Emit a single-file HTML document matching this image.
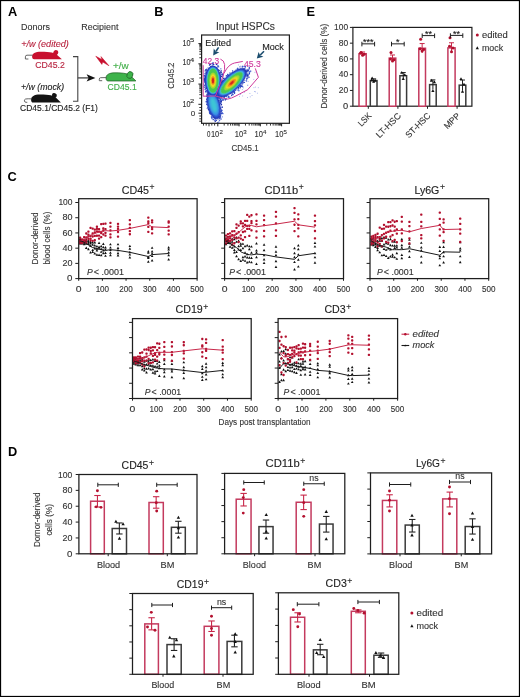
<!DOCTYPE html>
<html><head><meta charset="utf-8"><style>
html,body{margin:0;padding:0;background:#fff;}
svg{display:block;font-family:"Liberation Sans", sans-serif;opacity:0.999;}
</style></head><body>
<svg width="520" height="697" viewBox="0 0 520 697">
<rect x="0" y="0" width="520" height="697" fill="#fff"/>
<text x="8.00" y="15.80" font-size="12.8" fill="#000" font-weight="bold" >A</text>
<text x="154.20" y="15.70" font-size="12.8" fill="#000" font-weight="bold" >B</text>
<text x="7.60" y="181.40" font-size="12.8" fill="#000" font-weight="bold" >C</text>
<text x="8.00" y="455.80" font-size="12.8" fill="#000" font-weight="bold" >D</text>
<text x="306.60" y="15.70" font-size="12.8" fill="#000" font-weight="bold" >E</text>
<text x="21.10" y="30.00" font-size="9.6" fill="#333" stroke="#333" stroke-width="0.12" textLength="28.80" lengthAdjust="spacingAndGlyphs" >Donors</text>
<text x="81.30" y="29.70" font-size="9.6" fill="#333" stroke="#333" stroke-width="0.12" textLength="37.10" lengthAdjust="spacingAndGlyphs" >Recipient</text>
<text x="21.20" y="47.30" font-size="9.0" fill="#b8233f" stroke="#b8233f" stroke-width="0.12" textLength="47.60" lengthAdjust="spacingAndGlyphs" font-style="italic" >+/w (edited)</text>
<text x="35.20" y="68.10" font-size="8.4" fill="#b8233f" stroke="#b8233f" stroke-width="0.12" textLength="29.60" lengthAdjust="spacingAndGlyphs" >CD45.2</text>
<text x="21.00" y="90.40" font-size="9.0" fill="#222" stroke="#222" stroke-width="0.12" textLength="43.10" lengthAdjust="spacingAndGlyphs" font-style="italic" >+/w (mock)</text>
<text x="20.10" y="111.40" font-size="8.4" fill="#222" stroke="#222" stroke-width="0.12" textLength="77.80" lengthAdjust="spacingAndGlyphs" >CD45.1/CD45.2 (F1)</text>
<text x="112.90" y="69.40" font-size="8.4" fill="#3fae46" stroke="#3fae46" stroke-width="0.12" textLength="15.70" lengthAdjust="spacingAndGlyphs" >+/w</text>
<text x="107.60" y="89.60" font-size="8.4" fill="#3fae46" stroke="#3fae46" stroke-width="0.12" textLength="29.10" lengthAdjust="spacingAndGlyphs" >CD45.1</text>
<path d="M34.19,59.30 C32.70,59.30 32.10,58.08 32.10,56.56 C32.10,53.52 35.08,51.70 41.04,51.70 C45.51,51.70 49.38,51.93 51.77,52.46 C53.85,52.92 55.34,53.60 56.54,54.44 L61.90,59.19 L61.45,59.30 Z" fill="#c8102e" />
<ellipse cx="55.70" cy="52.80" rx="2.40" ry="2.80" transform="rotate(25 55.70 52.80)" fill="#c8102e" />
<path d="M32.6,55.2 L27.0,55.2 Q25.4,55.2 25.4,56.8 L25.4,59.0 L28.4,59.0" fill="none" stroke="#555" stroke-width="0.9" />
<path d="M33.19,102.60 C31.70,102.60 31.10,101.29 31.10,99.65 C31.10,96.37 34.08,94.40 40.04,94.40 C44.51,94.40 48.38,94.65 50.77,95.22 C52.85,95.71 54.34,96.45 55.54,97.35 L60.90,102.48 L60.45,102.60 Z" fill="#141414" />
<ellipse cx="54.40" cy="95.40" rx="2.50" ry="2.20" transform="rotate(20 54.40 95.40)" fill="#141414" />
<path d="M31.4,98.9 Q28,98.6 25.6,99.0 Q24.3,99.4 24.4,100.9 Q24.6,102.3 26.0,102.3 L27.3,102.3" fill="none" stroke="#555" stroke-width="0.9" />
<path d="M108.09,81.00 C106.60,81.00 106.00,79.69 106.00,78.05 C106.00,74.77 108.99,72.80 114.97,72.80 C119.45,72.80 123.34,73.05 125.73,73.62 C127.83,74.11 129.32,74.85 130.52,75.75 L135.90,80.88 L135.45,81.00 Z" fill="#3db34a" stroke="#1f5f24" stroke-width="0.7"/>
<ellipse cx="129.90" cy="75.00" rx="2.90" ry="3.50" transform="rotate(25 129.90 75.00)" fill="#3db34a" stroke="#1f5f24" stroke-width="0.7"/>
<path d="M106.4,77.6 L100.6,77.7 Q99.3,77.7 99.3,79.2 L99.3,80.7 L102.2,80.7" fill="none" stroke="#555" stroke-width="0.9" />
<path d="M73,56.6 L77.8,56.6 L77.8,101.3 L73,101.3" fill="none" stroke="#444" stroke-width="1.1" />
<line x1="77.80" y1="77.90" x2="89.00" y2="77.90" stroke="#444" stroke-width="1.3" />
<path d="M86.6,74.3 L95.4,77.9 L86.6,81.5 L88.6,77.9 Z" fill="#111" stroke="none" stroke-width="1" />
<path d="M95.8,56.2 L101.9,59.6 L101.0,56.6 L109.0,65.8 L102.7,62.0 L101.9,64.4 Z" fill="#c8102e" stroke="#c8102e" stroke-width="0.5" />
<text x="215.90" y="30.00" font-size="10.2" fill="#333" stroke="#333" stroke-width="0.12" textLength="59.10" lengthAdjust="spacingAndGlyphs" >Input HSPCs</text>
<defs><filter id="bl1" x="-50%" y="-50%" width="200%" height="200%"><feGaussianBlur stdDeviation="1.6"/></filter><filter id="bl2" x="-50%" y="-50%" width="200%" height="200%"><feGaussianBlur stdDeviation="1.0"/></filter><filter id="bl3" x="-50%" y="-50%" width="200%" height="200%"><feGaussianBlur stdDeviation="0.6"/></filter><clipPath id="bclip"><rect x="202.2" y="35.6" width="86.6" height="87.1"/></clipPath></defs>
<g clip-path="url(#bclip)">
<rect x="206.95" y="92.13" width="1.11" height="1.11" fill="#3858d0"/>
<rect x="216.79" y="69.52" width="1.08" height="1.08" fill="#2a48c8"/>
<rect x="203.95" y="76.34" width="1.00" height="1.00" fill="#3858d0"/>
<rect x="219.97" y="115.04" width="1.17" height="1.17" fill="#3858d0"/>
<rect x="227.47" y="77.05" width="0.95" height="0.95" fill="#1f2fa8"/>
<rect x="203.34" y="83.59" width="1.16" height="1.16" fill="#3858d0"/>
<rect x="212.43" y="91.03" width="1.28" height="1.28" fill="#3858d0"/>
<rect x="221.10" y="83.92" width="0.91" height="0.91" fill="#3858d0"/>
<rect x="206.74" y="95.83" width="1.01" height="1.01" fill="#2a48c8"/>
<rect x="206.42" y="103.43" width="1.09" height="1.09" fill="#3858d0"/>
<rect x="218.41" y="96.68" width="1.30" height="1.30" fill="#2a48c8"/>
<rect x="236.02" y="70.78" width="1.16" height="1.16" fill="#1f2fa8"/>
<rect x="204.32" y="72.87" width="0.86" height="0.86" fill="#2a48c8"/>
<rect x="217.38" y="97.99" width="1.20" height="1.20" fill="#2a48c8"/>
<rect x="233.28" y="91.27" width="1.24" height="1.24" fill="#3858d0"/>
<rect x="221.69" y="85.11" width="1.08" height="1.08" fill="#2a48c8"/>
<rect x="217.71" y="118.42" width="0.95" height="0.95" fill="#1f2fa8"/>
<rect x="221.83" y="83.76" width="1.29" height="1.29" fill="#2438b8"/>
<rect x="210.04" y="67.29" width="0.96" height="0.96" fill="#2a48c8"/>
<rect x="211.33" y="117.95" width="1.23" height="1.23" fill="#3858d0"/>
<rect x="219.00" y="83.23" width="1.11" height="1.11" fill="#1f2fa8"/>
<rect x="209.37" y="112.67" width="1.27" height="1.27" fill="#2438b8"/>
<rect x="232.53" y="92.23" width="0.81" height="0.81" fill="#2a48c8"/>
<rect x="247.28" y="69.36" width="0.83" height="0.83" fill="#2438b8"/>
<rect x="220.45" y="83.33" width="1.10" height="1.10" fill="#2a48c8"/>
<rect x="205.65" y="72.33" width="1.28" height="1.28" fill="#1f2fa8"/>
<rect x="205.83" y="72.16" width="0.89" height="0.89" fill="#2a48c8"/>
<rect x="218.27" y="66.51" width="0.95" height="0.95" fill="#2a48c8"/>
<rect x="248.44" y="68.88" width="0.96" height="0.96" fill="#2438b8"/>
<rect x="213.68" y="97.75" width="1.14" height="1.14" fill="#2438b8"/>
<rect x="218.77" y="89.42" width="1.14" height="1.14" fill="#2a48c8"/>
<rect x="222.34" y="76.39" width="0.97" height="0.97" fill="#1f2fa8"/>
<rect x="218.21" y="99.92" width="1.19" height="1.19" fill="#2438b8"/>
<rect x="208.99" y="97.13" width="1.23" height="1.23" fill="#2438b8"/>
<rect x="248.93" y="72.91" width="1.09" height="1.09" fill="#2a48c8"/>
<rect x="235.59" y="69.62" width="0.97" height="0.97" fill="#3858d0"/>
<rect x="223.01" y="97.40" width="0.88" height="0.88" fill="#3858d0"/>
<rect x="220.31" y="68.32" width="1.08" height="1.08" fill="#3858d0"/>
<rect x="221.50" y="106.47" width="1.22" height="1.22" fill="#3858d0"/>
<rect x="233.97" y="92.11" width="1.24" height="1.24" fill="#2a48c8"/>
<rect x="220.30" y="100.20" width="1.21" height="1.21" fill="#1f2fa8"/>
<rect x="209.57" y="63.97" width="1.25" height="1.25" fill="#2438b8"/>
<rect x="220.82" y="104.57" width="0.89" height="0.89" fill="#1f2fa8"/>
<rect x="203.92" y="78.03" width="0.83" height="0.83" fill="#3858d0"/>
<rect x="220.08" y="113.06" width="1.21" height="1.21" fill="#3858d0"/>
<rect x="218.67" y="90.39" width="0.89" height="0.89" fill="#1f2fa8"/>
<rect x="212.45" y="88.55" width="1.04" height="1.04" fill="#1f2fa8"/>
<rect x="226.73" y="76.42" width="0.93" height="0.93" fill="#2438b8"/>
<rect x="218.90" y="97.19" width="1.23" height="1.23" fill="#1f2fa8"/>
<rect x="220.03" y="107.52" width="1.29" height="1.29" fill="#3858d0"/>
<rect x="208.12" y="106.24" width="0.88" height="0.88" fill="#2a48c8"/>
<rect x="206.56" y="90.17" width="0.98" height="0.98" fill="#2a48c8"/>
<rect x="218.85" y="90.89" width="1.16" height="1.16" fill="#1f2fa8"/>
<rect x="241.68" y="82.28" width="1.03" height="1.03" fill="#2a48c8"/>
<rect x="217.74" y="87.41" width="1.11" height="1.11" fill="#1f2fa8"/>
<rect x="218.12" y="96.28" width="1.01" height="1.01" fill="#2a48c8"/>
<rect x="238.00" y="88.34" width="1.15" height="1.15" fill="#2a48c8"/>
<rect x="205.42" y="87.42" width="1.27" height="1.27" fill="#1f2fa8"/>
<rect x="229.56" y="72.13" width="0.86" height="0.86" fill="#2a48c8"/>
<rect x="223.21" y="77.75" width="1.13" height="1.13" fill="#3858d0"/>
<rect x="247.17" y="75.16" width="1.04" height="1.04" fill="#1f2fa8"/>
<rect x="204.74" y="78.05" width="1.13" height="1.13" fill="#1f2fa8"/>
<rect x="228.52" y="96.84" width="0.81" height="0.81" fill="#1f2fa8"/>
<rect x="210.14" y="65.99" width="1.09" height="1.09" fill="#2a48c8"/>
<rect x="211.33" y="92.54" width="0.85" height="0.85" fill="#2438b8"/>
<rect x="249.70" y="70.54" width="1.23" height="1.23" fill="#2a48c8"/>
<rect x="220.45" y="80.46" width="1.03" height="1.03" fill="#2438b8"/>
<rect x="238.22" y="90.05" width="1.27" height="1.27" fill="#3858d0"/>
<rect x="224.71" y="99.21" width="1.29" height="1.29" fill="#2438b8"/>
<rect x="245.51" y="80.29" width="0.88" height="0.88" fill="#3858d0"/>
<rect x="245.98" y="80.39" width="1.17" height="1.17" fill="#3858d0"/>
<rect x="208.91" y="111.73" width="0.87" height="0.87" fill="#2438b8"/>
<rect x="207.74" y="105.16" width="1.23" height="1.23" fill="#2438b8"/>
<rect x="218.66" y="84.22" width="1.10" height="1.10" fill="#3858d0"/>
<rect x="240.38" y="65.80" width="0.81" height="0.81" fill="#2a48c8"/>
<rect x="243.26" y="81.64" width="0.92" height="0.92" fill="#2a48c8"/>
<rect x="220.86" y="99.81" width="1.15" height="1.15" fill="#3858d0"/>
<rect x="220.30" y="71.33" width="1.04" height="1.04" fill="#1f2fa8"/>
<rect x="222.51" y="99.46" width="1.03" height="1.03" fill="#1f2fa8"/>
<rect x="211.40" y="66.72" width="1.28" height="1.28" fill="#1f2fa8"/>
<rect x="219.13" y="116.92" width="0.87" height="0.87" fill="#2a48c8"/>
<rect x="248.13" y="69.87" width="0.88" height="0.88" fill="#2a48c8"/>
<rect x="219.54" y="88.12" width="0.86" height="0.86" fill="#1f2fa8"/>
<rect x="222.69" y="84.60" width="1.09" height="1.09" fill="#3858d0"/>
<rect x="229.88" y="93.03" width="0.99" height="0.99" fill="#3858d0"/>
<rect x="212.56" y="64.27" width="1.00" height="1.00" fill="#3858d0"/>
<rect x="234.87" y="89.88" width="0.86" height="0.86" fill="#3858d0"/>
<rect x="222.33" y="113.06" width="1.14" height="1.14" fill="#2a48c8"/>
<rect x="219.51" y="84.86" width="0.85" height="0.85" fill="#2a48c8"/>
<rect x="206.73" y="100.81" width="1.13" height="1.13" fill="#1f2fa8"/>
<rect x="233.19" y="91.00" width="1.12" height="1.12" fill="#2438b8"/>
<rect x="226.78" y="95.12" width="0.86" height="0.86" fill="#3858d0"/>
<rect x="213.78" y="116.96" width="1.08" height="1.08" fill="#3858d0"/>
<rect x="231.67" y="93.56" width="1.15" height="1.15" fill="#2438b8"/>
<rect x="205.67" y="76.00" width="0.98" height="0.98" fill="#3858d0"/>
<rect x="218.82" y="69.86" width="1.04" height="1.04" fill="#1f2fa8"/>
<rect x="203.75" y="79.06" width="1.27" height="1.27" fill="#2a48c8"/>
<rect x="249.01" y="71.62" width="1.22" height="1.22" fill="#3858d0"/>
<rect x="219.51" y="89.01" width="1.08" height="1.08" fill="#1f2fa8"/>
<rect x="208.96" y="93.36" width="1.14" height="1.14" fill="#3858d0"/>
<rect x="248.36" y="76.65" width="1.23" height="1.23" fill="#2438b8"/>
<rect x="220.27" y="117.31" width="0.90" height="0.90" fill="#2438b8"/>
<rect x="222.38" y="83.81" width="1.25" height="1.25" fill="#3858d0"/>
<rect x="206.70" y="101.90" width="1.12" height="1.12" fill="#2a48c8"/>
<rect x="215.38" y="120.44" width="0.82" height="0.82" fill="#3858d0"/>
<rect x="220.11" y="90.79" width="1.05" height="1.05" fill="#2438b8"/>
<rect x="242.16" y="83.60" width="0.82" height="0.82" fill="#2438b8"/>
<rect x="219.65" y="98.74" width="1.28" height="1.28" fill="#2a48c8"/>
<rect x="212.21" y="92.19" width="0.81" height="0.81" fill="#1f2fa8"/>
<rect x="217.37" y="96.84" width="1.26" height="1.26" fill="#1f2fa8"/>
<rect x="209.66" y="64.10" width="0.84" height="0.84" fill="#2438b8"/>
<rect x="221.67" y="106.66" width="1.17" height="1.17" fill="#1f2fa8"/>
<rect x="243.64" y="66.00" width="1.02" height="1.02" fill="#2438b8"/>
<rect x="221.17" y="113.01" width="1.00" height="1.00" fill="#1f2fa8"/>
<rect x="210.82" y="116.29" width="1.15" height="1.15" fill="#3858d0"/>
<rect x="218.90" y="86.09" width="0.81" height="0.81" fill="#2a48c8"/>
<rect x="219.89" y="99.00" width="1.25" height="1.25" fill="#3858d0"/>
<rect x="226.33" y="96.16" width="1.10" height="1.10" fill="#2a48c8"/>
<rect x="214.84" y="93.11" width="0.87" height="0.87" fill="#2a48c8"/>
<rect x="240.14" y="84.88" width="1.09" height="1.09" fill="#2438b8"/>
<rect x="246.19" y="78.29" width="1.02" height="1.02" fill="#2438b8"/>
<rect x="205.02" y="90.55" width="1.00" height="1.00" fill="#2a48c8"/>
<rect x="224.58" y="95.42" width="1.05" height="1.05" fill="#3858d0"/>
<rect x="218.34" y="121.52" width="1.04" height="1.04" fill="#3858d0"/>
<rect x="207.83" y="93.95" width="1.10" height="1.10" fill="#1f2fa8"/>
<rect x="219.45" y="101.89" width="1.19" height="1.19" fill="#3858d0"/>
<rect x="206.37" y="101.02" width="1.21" height="1.21" fill="#1f2fa8"/>
<rect x="246.25" y="74.99" width="1.28" height="1.28" fill="#3858d0"/>
<rect x="244.50" y="72.37" width="0.81" height="0.81" fill="#1f2fa8"/>
<rect x="242.54" y="83.20" width="0.90" height="0.90" fill="#2a48c8"/>
<rect x="212.51" y="90.68" width="1.27" height="1.27" fill="#2a48c8"/>
<rect x="206.64" y="71.55" width="0.84" height="0.84" fill="#3858d0"/>
<rect x="220.33" y="92.11" width="1.07" height="1.07" fill="#3858d0"/>
<rect x="222.50" y="99.12" width="1.22" height="1.22" fill="#3858d0"/>
<rect x="226.10" y="98.45" width="1.02" height="1.02" fill="#3858d0"/>
<rect x="228.26" y="96.54" width="1.05" height="1.05" fill="#2438b8"/>
<rect x="207.39" y="89.73" width="0.82" height="0.82" fill="#3858d0"/>
<rect x="217.18" y="65.42" width="1.18" height="1.18" fill="#1f2fa8"/>
<rect x="237.82" y="87.03" width="1.24" height="1.24" fill="#1f2fa8"/>
<rect x="216.77" y="94.99" width="1.30" height="1.30" fill="#2a48c8"/>
<rect x="214.79" y="67.02" width="0.97" height="0.97" fill="#1f2fa8"/>
<rect x="216.74" y="66.82" width="0.92" height="0.92" fill="#2438b8"/>
<rect x="208.28" y="69.77" width="0.86" height="0.86" fill="#1f2fa8"/>
<rect x="217.64" y="69.29" width="1.05" height="1.05" fill="#3858d0"/>
<rect x="216.05" y="94.59" width="1.03" height="1.03" fill="#2438b8"/>
<rect x="231.40" y="73.94" width="1.23" height="1.23" fill="#1f2fa8"/>
<rect x="212.68" y="98.53" width="1.03" height="1.03" fill="#1f2fa8"/>
<rect x="205.75" y="69.10" width="1.18" height="1.18" fill="#3858d0"/>
<rect x="206.74" y="97.82" width="1.19" height="1.19" fill="#3858d0"/>
<rect x="203.58" y="86.82" width="0.90" height="0.90" fill="#3858d0"/>
<rect x="224.12" y="78.78" width="0.97" height="0.97" fill="#1f2fa8"/>
<rect x="221.41" y="72.81" width="1.01" height="1.01" fill="#2a48c8"/>
<rect x="241.04" y="85.68" width="1.22" height="1.22" fill="#2a48c8"/>
<rect x="205.65" y="85.90" width="0.91" height="0.91" fill="#2a48c8"/>
<rect x="211.52" y="62.92" width="1.27" height="1.27" fill="#3858d0"/>
<rect x="243.29" y="68.06" width="1.04" height="1.04" fill="#3858d0"/>
<rect x="220.09" y="103.17" width="0.95" height="0.95" fill="#1f2fa8"/>
<rect x="220.48" y="111.24" width="0.95" height="0.95" fill="#2438b8"/>
<rect x="247.99" y="70.25" width="0.94" height="0.94" fill="#2438b8"/>
<rect x="225.60" y="77.74" width="0.87" height="0.87" fill="#2a48c8"/>
<rect x="218.65" y="100.10" width="0.88" height="0.88" fill="#2438b8"/>
<rect x="220.16" y="100.95" width="1.27" height="1.27" fill="#2a48c8"/>
<rect x="216.48" y="99.77" width="0.98" height="0.98" fill="#2438b8"/>
<rect x="208.66" y="109.61" width="1.20" height="1.20" fill="#2a48c8"/>
<rect x="215.77" y="67.28" width="0.81" height="0.81" fill="#1f2fa8"/>
<rect x="245.08" y="71.32" width="0.80" height="0.80" fill="#1f2fa8"/>
<rect x="212.57" y="118.90" width="1.29" height="1.29" fill="#2a48c8"/>
<rect x="220.75" y="81.75" width="1.25" height="1.25" fill="#3858d0"/>
<rect x="212.83" y="90.24" width="0.96" height="0.96" fill="#3858d0"/>
<rect x="204.63" y="89.05" width="0.97" height="0.97" fill="#2a48c8"/>
<rect x="220.33" y="80.27" width="1.26" height="1.26" fill="#2438b8"/>
<rect x="220.27" y="114.14" width="1.05" height="1.05" fill="#3858d0"/>
<rect x="216.24" y="120.03" width="0.82" height="0.82" fill="#2438b8"/>
<rect x="232.23" y="73.30" width="1.03" height="1.03" fill="#3858d0"/>
<rect x="232.13" y="70.16" width="0.99" height="0.99" fill="#3858d0"/>
<rect x="246.24" y="73.71" width="1.30" height="1.30" fill="#2438b8"/>
<rect x="227.97" y="95.57" width="0.94" height="0.94" fill="#3858d0"/>
<rect x="205.07" y="77.91" width="0.87" height="0.87" fill="#2a48c8"/>
<rect x="214.06" y="95.99" width="1.27" height="1.27" fill="#3858d0"/>
<rect x="218.76" y="90.97" width="1.04" height="1.04" fill="#1f2fa8"/>
<rect x="220.93" y="71.80" width="1.02" height="1.02" fill="#1f2fa8"/>
<rect x="205.70" y="81.67" width="0.90" height="0.90" fill="#3858d0"/>
<rect x="211.64" y="114.86" width="0.96" height="0.96" fill="#3858d0"/>
<rect x="222.43" y="74.38" width="1.11" height="1.11" fill="#2a48c8"/>
<rect x="223.68" y="95.52" width="1.29" height="1.29" fill="#3858d0"/>
<rect x="215.44" y="94.05" width="1.15" height="1.15" fill="#1f2fa8"/>
<rect x="219.49" y="92.01" width="1.27" height="1.27" fill="#1f2fa8"/>
<rect x="209.09" y="113.15" width="1.03" height="1.03" fill="#3858d0"/>
<rect x="217.05" y="94.75" width="1.28" height="1.28" fill="#3858d0"/>
<rect x="217.34" y="96.55" width="1.14" height="1.14" fill="#3858d0"/>
<rect x="245.47" y="73.05" width="0.96" height="0.96" fill="#2438b8"/>
<rect x="243.50" y="79.64" width="1.07" height="1.07" fill="#2438b8"/>
<rect x="225.39" y="95.44" width="0.94" height="0.94" fill="#1f2fa8"/>
<rect x="218.35" y="90.40" width="1.27" height="1.27" fill="#2a48c8"/>
<rect x="248.69" y="67.11" width="1.30" height="1.30" fill="#2a48c8"/>
<rect x="212.80" y="116.57" width="0.85" height="0.85" fill="#3858d0"/>
<rect x="209.74" y="90.56" width="1.08" height="1.08" fill="#3858d0"/>
<rect x="220.21" y="98.19" width="1.22" height="1.22" fill="#3858d0"/>
<rect x="221.20" y="74.01" width="0.95" height="0.95" fill="#2438b8"/>
<rect x="214.58" y="121.32" width="0.87" height="0.87" fill="#2438b8"/>
<rect x="219.31" y="88.33" width="0.86" height="0.86" fill="#2438b8"/>
<rect x="215.68" y="63.72" width="1.06" height="1.06" fill="#2a48c8"/>
<rect x="207.54" y="103.18" width="0.96" height="0.96" fill="#3858d0"/>
<rect x="220.66" y="96.42" width="1.12" height="1.12" fill="#2a48c8"/>
<rect x="227.64" y="74.43" width="1.23" height="1.23" fill="#2a48c8"/>
<rect x="219.33" y="101.51" width="0.89" height="0.89" fill="#2a48c8"/>
<rect x="244.72" y="70.02" width="0.94" height="0.94" fill="#2438b8"/>
<rect x="207.90" y="108.60" width="1.29" height="1.29" fill="#2438b8"/>
<rect x="217.48" y="88.90" width="1.01" height="1.01" fill="#1f2fa8"/>
<rect x="233.82" y="92.57" width="1.23" height="1.23" fill="#2438b8"/>
<rect x="225.60" y="98.90" width="0.83" height="0.83" fill="#2438b8"/>
<rect x="225.36" y="78.93" width="1.16" height="1.16" fill="#3858d0"/>
<rect x="218.16" y="95.61" width="1.02" height="1.02" fill="#3858d0"/>
<rect x="221.71" y="113.15" width="0.87" height="0.87" fill="#3858d0"/>
<rect x="206.74" y="70.77" width="1.24" height="1.24" fill="#2438b8"/>
<rect x="215.79" y="94.99" width="1.07" height="1.07" fill="#1f2fa8"/>
<rect x="209.57" y="90.29" width="1.02" height="1.02" fill="#2438b8"/>
<rect x="237.49" y="70.34" width="0.91" height="0.91" fill="#3858d0"/>
<rect x="205.31" y="75.87" width="1.21" height="1.21" fill="#1f2fa8"/>
<rect x="244.89" y="71.92" width="0.99" height="0.99" fill="#2a48c8"/>
<rect x="216.36" y="100.04" width="0.99" height="0.99" fill="#2438b8"/>
<rect x="217.92" y="87.94" width="1.02" height="1.02" fill="#2a48c8"/>
<rect x="209.34" y="63.69" width="0.83" height="0.83" fill="#1f2fa8"/>
<rect x="214.31" y="120.16" width="0.96" height="0.96" fill="#1f2fa8"/>
<rect x="221.63" y="112.16" width="1.12" height="1.12" fill="#2a48c8"/>
<rect x="214.16" y="117.63" width="1.28" height="1.28" fill="#3858d0"/>
<rect x="220.18" y="71.62" width="1.09" height="1.09" fill="#2438b8"/>
<rect x="205.24" y="83.36" width="0.94" height="0.94" fill="#3858d0"/>
<rect x="206.30" y="103.94" width="1.09" height="1.09" fill="#2438b8"/>
<rect x="215.88" y="92.25" width="1.11" height="1.11" fill="#2a48c8"/>
<rect x="241.70" y="66.40" width="1.02" height="1.02" fill="#2438b8"/>
<rect x="215.91" y="88.61" width="1.24" height="1.24" fill="#3858d0"/>
<rect x="221.94" y="73.99" width="1.26" height="1.26" fill="#1f2fa8"/>
<rect x="231.33" y="95.22" width="0.96" height="0.96" fill="#1f2fa8"/>
<rect x="208.86" y="64.63" width="0.92" height="0.92" fill="#1f2fa8"/>
<rect x="234.11" y="90.90" width="0.93" height="0.93" fill="#2a48c8"/>
<rect x="245.81" y="76.37" width="0.95" height="0.95" fill="#2438b8"/>
<rect x="205.32" y="82.07" width="0.91" height="0.91" fill="#2438b8"/>
<rect x="243.95" y="81.89" width="1.10" height="1.10" fill="#3858d0"/>
<rect x="232.61" y="91.87" width="0.83" height="0.83" fill="#2a48c8"/>
<rect x="206.70" y="107.85" width="0.93" height="0.93" fill="#2438b8"/>
<rect x="218.87" y="120.10" width="0.97" height="0.97" fill="#3858d0"/>
<rect x="219.92" y="117.49" width="0.97" height="0.97" fill="#3858d0"/>
<rect x="247.15" y="75.50" width="1.23" height="1.23" fill="#2438b8"/>
<rect x="236.87" y="68.93" width="0.99" height="0.99" fill="#3858d0"/>
<rect x="207.53" y="69.54" width="1.15" height="1.15" fill="#1f2fa8"/>
<rect x="206.04" y="98.80" width="1.07" height="1.07" fill="#2a48c8"/>
<rect x="209.62" y="88.62" width="1.26" height="1.26" fill="#2a48c8"/>
<rect x="227.16" y="75.41" width="1.04" height="1.04" fill="#3858d0"/>
<rect x="222.47" y="81.69" width="1.16" height="1.16" fill="#3858d0"/>
<rect x="219.64" y="73.60" width="0.89" height="0.89" fill="#3858d0"/>
<rect x="223.79" y="96.24" width="0.85" height="0.85" fill="#2a48c8"/>
<rect x="215.60" y="95.37" width="0.86" height="0.86" fill="#2438b8"/>
<rect x="225.57" y="95.43" width="1.00" height="1.00" fill="#2a48c8"/>
<rect x="209.84" y="93.83" width="0.86" height="0.86" fill="#2a48c8"/>
<rect x="209.31" y="112.37" width="0.98" height="0.98" fill="#2a48c8"/>
<rect x="229.04" y="74.92" width="1.13" height="1.13" fill="#2438b8"/>
<rect x="208.40" y="92.29" width="1.25" height="1.25" fill="#2a48c8"/>
<rect x="213.03" y="63.94" width="1.29" height="1.29" fill="#2438b8"/>
<rect x="233.28" y="72.44" width="0.88" height="0.88" fill="#2438b8"/>
<rect x="218.21" y="95.33" width="1.25" height="1.25" fill="#2a48c8"/>
<rect x="216.60" y="92.90" width="1.29" height="1.29" fill="#3858d0"/>
<rect x="235.30" y="90.18" width="0.88" height="0.88" fill="#3858d0"/>
<rect x="221.51" y="80.74" width="1.05" height="1.05" fill="#2438b8"/>
<rect x="208.69" y="88.96" width="0.93" height="0.93" fill="#2a48c8"/>
<rect x="244.93" y="67.55" width="0.90" height="0.90" fill="#2a48c8"/>
<rect x="212.33" y="62.50" width="1.01" height="1.01" fill="#3858d0"/>
<rect x="209.07" y="92.18" width="0.93" height="0.93" fill="#2438b8"/>
<rect x="209.85" y="68.50" width="0.80" height="0.80" fill="#1f2fa8"/>
<rect x="205.60" y="91.43" width="1.08" height="1.08" fill="#3858d0"/>
<rect x="243.26" y="81.97" width="0.83" height="0.83" fill="#1f2fa8"/>
<rect x="246.06" y="69.51" width="1.06" height="1.06" fill="#2a48c8"/>
<rect x="221.12" y="91.38" width="0.99" height="0.99" fill="#2438b8"/>
<rect x="207.48" y="93.25" width="1.11" height="1.11" fill="#2a48c8"/>
<rect x="245.14" y="70.31" width="0.91" height="0.91" fill="#2438b8"/>
<rect x="231.41" y="92.40" width="1.07" height="1.07" fill="#1f2fa8"/>
<rect x="245.89" y="70.87" width="1.09" height="1.09" fill="#1f2fa8"/>
<rect x="204.44" y="79.58" width="1.13" height="1.13" fill="#3858d0"/>
<rect x="221.38" y="98.10" width="1.20" height="1.20" fill="#2a48c8"/>
<rect x="204.59" y="77.68" width="1.26" height="1.26" fill="#2a48c8"/>
<rect x="220.13" y="98.65" width="0.95" height="0.95" fill="#2438b8"/>
<rect x="218.01" y="94.38" width="0.86" height="0.86" fill="#2a48c8"/>
<rect x="237.81" y="88.60" width="0.81" height="0.81" fill="#3858d0"/>
<rect x="221.47" y="86.40" width="1.25" height="1.25" fill="#3858d0"/>
<rect x="209.89" y="96.15" width="1.05" height="1.05" fill="#3858d0"/>
<rect x="214.95" y="120.79" width="1.00" height="1.00" fill="#1f2fa8"/>
<rect x="221.93" y="83.13" width="0.84" height="0.84" fill="#2438b8"/>
<rect x="227.67" y="75.06" width="1.12" height="1.12" fill="#2438b8"/>
<rect x="203.80" y="79.31" width="1.05" height="1.05" fill="#1f2fa8"/>
<rect x="247.20" y="73.93" width="1.08" height="1.08" fill="#2a48c8"/>
<rect x="216.89" y="90.31" width="0.96" height="0.96" fill="#1f2fa8"/>
<rect x="229.31" y="73.30" width="0.90" height="0.90" fill="#2a48c8"/>
<rect x="205.07" y="82.49" width="1.04" height="1.04" fill="#3858d0"/>
<rect x="220.68" y="85.89" width="1.30" height="1.30" fill="#2438b8"/>
<rect x="206.67" y="90.53" width="0.85" height="0.85" fill="#2a48c8"/>
<rect x="212.72" y="96.18" width="1.08" height="1.08" fill="#3858d0"/>
<rect x="246.89" y="71.07" width="0.98" height="0.98" fill="#3858d0"/>
<rect x="239.63" y="85.82" width="1.24" height="1.24" fill="#2438b8"/>
<rect x="210.68" y="112.58" width="1.10" height="1.10" fill="#1f2fa8"/>
<rect x="217.36" y="96.54" width="1.11" height="1.11" fill="#3858d0"/>
<rect x="218.56" y="91.94" width="1.26" height="1.26" fill="#2438b8"/>
<rect x="216.07" y="63.82" width="1.29" height="1.29" fill="#1f2fa8"/>
<rect x="220.69" y="70.53" width="0.85" height="0.85" fill="#1f2fa8"/>
<rect x="203.52" y="75.17" width="1.25" height="1.25" fill="#2438b8"/>
<rect x="239.54" y="85.36" width="1.05" height="1.05" fill="#3858d0"/>
<rect x="247.14" y="70.11" width="1.10" height="1.10" fill="#1f2fa8"/>
<rect x="240.87" y="85.63" width="0.94" height="0.94" fill="#1f2fa8"/>
<rect x="213.38" y="98.23" width="1.24" height="1.24" fill="#2438b8"/>
<rect x="248.34" y="73.72" width="1.19" height="1.19" fill="#2a48c8"/>
<rect x="209.76" y="92.05" width="1.05" height="1.05" fill="#1f2fa8"/>
<rect x="221.89" y="73.59" width="1.21" height="1.21" fill="#2a48c8"/>
<rect x="215.29" y="94.25" width="0.97" height="0.97" fill="#2438b8"/>
<rect x="207.48" y="70.69" width="1.03" height="1.03" fill="#1f2fa8"/>
<rect x="206.03" y="90.25" width="1.21" height="1.21" fill="#2a48c8"/>
<rect x="241.35" y="84.59" width="1.13" height="1.13" fill="#2a48c8"/>
<rect x="205.04" y="91.13" width="1.20" height="1.20" fill="#2a48c8"/>
<rect x="210.36" y="91.63" width="0.81" height="0.81" fill="#1f2fa8"/>
<rect x="219.85" y="116.44" width="0.82" height="0.82" fill="#2a48c8"/>
<rect x="221.57" y="109.79" width="1.08" height="1.08" fill="#2a48c8"/>
<rect x="210.73" y="65.88" width="1.04" height="1.04" fill="#2438b8"/>
<rect x="217.45" y="69.30" width="0.94" height="0.94" fill="#3858d0"/>
<rect x="208.89" y="109.64" width="0.98" height="0.98" fill="#3858d0"/>
<rect x="218.88" y="92.57" width="1.08" height="1.08" fill="#3858d0"/>
<rect x="244.74" y="74.68" width="0.89" height="0.89" fill="#2a48c8"/>
<rect x="215.23" y="94.53" width="1.17" height="1.17" fill="#2438b8"/>
<rect x="212.41" y="116.47" width="1.22" height="1.22" fill="#1f2fa8"/>
<rect x="220.62" y="101.06" width="1.29" height="1.29" fill="#1f2fa8"/>
<rect x="203.87" y="80.40" width="1.17" height="1.17" fill="#2a48c8"/>
<rect x="206.54" y="90.41" width="0.85" height="0.85" fill="#1f2fa8"/>
<rect x="219.58" y="119.32" width="0.94" height="0.94" fill="#1f2fa8"/>
<rect x="239.51" y="84.86" width="0.82" height="0.82" fill="#3858d0"/>
<rect x="242.04" y="86.01" width="1.17" height="1.17" fill="#3858d0"/>
<rect x="220.72" y="81.42" width="1.23" height="1.23" fill="#1f2fa8"/>
<rect x="247.49" y="68.82" width="0.86" height="0.86" fill="#3858d0"/>
<rect x="206.92" y="104.60" width="0.87" height="0.87" fill="#3858d0"/>
<rect x="236.95" y="67.88" width="0.84" height="0.84" fill="#2a48c8"/>
<rect x="213.68" y="118.76" width="0.92" height="0.92" fill="#3858d0"/>
<rect x="215.66" y="119.82" width="1.18" height="1.18" fill="#2a48c8"/>
<rect x="220.79" y="109.75" width="1.16" height="1.16" fill="#3858d0"/>
<rect x="243.87" y="68.25" width="1.21" height="1.21" fill="#3858d0"/>
<rect x="220.82" y="104.02" width="1.02" height="1.02" fill="#2a48c8"/>
<rect x="204.03" y="77.56" width="1.11" height="1.11" fill="#2a48c8"/>
<rect x="217.58" y="97.18" width="1.22" height="1.22" fill="#2438b8"/>
<rect x="208.82" y="93.73" width="1.19" height="1.19" fill="#3858d0"/>
<rect x="235.50" y="71.02" width="1.28" height="1.28" fill="#2438b8"/>
<rect x="219.64" y="102.77" width="1.11" height="1.11" fill="#2438b8"/>
<rect x="219.78" y="91.80" width="1.13" height="1.13" fill="#2a48c8"/>
<rect x="220.78" y="103.41" width="0.95" height="0.95" fill="#3858d0"/>
<rect x="215.98" y="87.99" width="0.89" height="0.89" fill="#2a48c8"/>
<rect x="231.84" y="93.85" width="0.97" height="0.97" fill="#3858d0"/>
<rect x="207.20" y="92.60" width="0.97" height="0.97" fill="#1f2fa8"/>
<rect x="217.01" y="91.58" width="0.89" height="0.89" fill="#1f2fa8"/>
<rect x="216.88" y="99.12" width="0.81" height="0.81" fill="#1f2fa8"/>
<rect x="231.00" y="94.83" width="1.08" height="1.08" fill="#2a48c8"/>
<rect x="227.76" y="97.12" width="0.87" height="0.87" fill="#3858d0"/>
<rect x="248.46" y="71.16" width="1.22" height="1.22" fill="#3858d0"/>
<rect x="205.98" y="95.70" width="1.01" height="1.01" fill="#2a48c8"/>
<rect x="242.39" y="70.34" width="1.00" height="1.00" fill="#1f2fa8"/>
<rect x="204.78" y="88.29" width="1.14" height="1.14" fill="#2438b8"/>
<rect x="216.35" y="117.50" width="0.89" height="0.89" fill="#2a48c8"/>
<rect x="210.28" y="113.57" width="1.26" height="1.26" fill="#1f2fa8"/>
<rect x="217.80" y="95.77" width="0.98" height="0.98" fill="#3858d0"/>
<rect x="239.84" y="87.06" width="0.92" height="0.92" fill="#1f2fa8"/>
<rect x="218.20" y="91.48" width="1.29" height="1.29" fill="#3858d0"/>
<rect x="213.40" y="90.93" width="1.24" height="1.24" fill="#3858d0"/>
<rect x="217.84" y="65.60" width="1.18" height="1.18" fill="#3858d0"/>
<rect x="220.04" y="85.54" width="1.24" height="1.24" fill="#2438b8"/>
<rect x="230.05" y="73.74" width="0.95" height="0.95" fill="#2a48c8"/>
<rect x="211.49" y="117.01" width="0.88" height="0.88" fill="#3858d0"/>
<rect x="243.66" y="70.45" width="1.24" height="1.24" fill="#2a48c8"/>
<rect x="219.07" y="117.26" width="1.13" height="1.13" fill="#3858d0"/>
<rect x="203.73" y="78.16" width="1.24" height="1.24" fill="#2a48c8"/>
<rect x="219.50" y="72.39" width="1.29" height="1.29" fill="#1f2fa8"/>
<rect x="221.40" y="75.23" width="1.23" height="1.23" fill="#3858d0"/>
<rect x="206.15" y="68.62" width="0.96" height="0.96" fill="#2a48c8"/>
<rect x="247.03" y="77.42" width="1.20" height="1.20" fill="#2438b8"/>
<rect x="224.23" y="98.52" width="0.88" height="0.88" fill="#2438b8"/>
<rect x="210.26" y="88.87" width="0.90" height="0.90" fill="#1f2fa8"/>
<rect x="217.87" y="84.21" width="1.08" height="1.08" fill="#1f2fa8"/>
<rect x="225.25" y="95.53" width="1.21" height="1.21" fill="#3858d0"/>
<rect x="222.34" y="99.68" width="1.03" height="1.03" fill="#1f2fa8"/>
<rect x="204.45" y="86.90" width="0.93" height="0.93" fill="#1f2fa8"/>
<rect x="205.33" y="77.07" width="1.18" height="1.18" fill="#2a48c8"/>
<rect x="206.39" y="95.36" width="1.23" height="1.23" fill="#2a48c8"/>
<rect x="206.34" y="74.64" width="0.90" height="0.90" fill="#2438b8"/>
<rect x="215.93" y="96.92" width="1.07" height="1.07" fill="#2438b8"/>
<rect x="204.60" y="80.29" width="1.25" height="1.25" fill="#1f2fa8"/>
<rect x="211.89" y="91.76" width="1.19" height="1.19" fill="#3858d0"/>
<rect x="219.82" y="86.13" width="1.14" height="1.14" fill="#2a48c8"/>
<rect x="219.15" y="116.43" width="0.84" height="0.84" fill="#2a48c8"/>
<rect x="246.16" y="78.51" width="1.12" height="1.12" fill="#2438b8"/>
<rect x="222.16" y="87.15" width="1.11" height="1.11" fill="#2438b8"/>
<rect x="220.93" y="109.48" width="0.88" height="0.88" fill="#2438b8"/>
<rect x="227.88" y="75.19" width="1.24" height="1.24" fill="#2438b8"/>
<rect x="205.53" y="101.15" width="1.15" height="1.15" fill="#2a48c8"/>
<rect x="246.59" y="70.26" width="1.02" height="1.02" fill="#1f2fa8"/>
<rect x="223.86" y="96.41" width="0.91" height="0.91" fill="#2438b8"/>
<rect x="217.19" y="122.13" width="1.03" height="1.03" fill="#2438b8"/>
<rect x="220.74" y="101.33" width="1.10" height="1.10" fill="#1f2fa8"/>
<rect x="206.08" y="87.51" width="0.84" height="0.84" fill="#2438b8"/>
<rect x="218.63" y="101.31" width="0.96" height="0.96" fill="#2438b8"/>
<rect x="229.45" y="96.64" width="0.95" height="0.95" fill="#3858d0"/>
<rect x="215.91" y="95.43" width="0.81" height="0.81" fill="#1f2fa8"/>
<rect x="241.45" y="82.37" width="0.81" height="0.81" fill="#1f2fa8"/>
<rect x="222.31" y="79.40" width="1.23" height="1.23" fill="#1f2fa8"/>
<rect x="211.15" y="116.81" width="0.97" height="0.97" fill="#2a48c8"/>
<rect x="207.31" y="94.63" width="0.96" height="0.96" fill="#1f2fa8"/>
<rect x="217.34" y="88.22" width="0.99" height="0.99" fill="#2438b8"/>
<rect x="204.05" y="81.64" width="0.99" height="0.99" fill="#1f2fa8"/>
<rect x="218.90" y="98.17" width="1.14" height="1.14" fill="#2a48c8"/>
<rect x="205.34" y="72.97" width="1.28" height="1.28" fill="#3858d0"/>
<rect x="222.12" y="81.96" width="0.88" height="0.88" fill="#2438b8"/>
<rect x="215.36" y="93.86" width="0.89" height="0.89" fill="#2438b8"/>
<rect x="208.70" y="91.90" width="1.17" height="1.17" fill="#3858d0"/>
<rect x="223.69" y="96.73" width="1.20" height="1.20" fill="#3858d0"/>
<rect x="205.61" y="70.39" width="1.24" height="1.24" fill="#2a48c8"/>
<rect x="205.22" y="69.07" width="1.15" height="1.15" fill="#2a48c8"/>
<rect x="203.23" y="85.80" width="0.88" height="0.88" fill="#3858d0"/>
<rect x="204.65" y="81.00" width="0.95" height="0.95" fill="#3858d0"/>
<rect x="234.05" y="92.29" width="0.84" height="0.84" fill="#2a48c8"/>
<rect x="245.63" y="72.20" width="1.01" height="1.01" fill="#3858d0"/>
<rect x="237.16" y="67.77" width="1.19" height="1.19" fill="#3858d0"/>
<rect x="220.02" y="77.43" width="1.03" height="1.03" fill="#3858d0"/>
<rect x="209.04" y="64.75" width="0.86" height="0.86" fill="#2a48c8"/>
<rect x="242.17" y="65.68" width="1.11" height="1.11" fill="#2a48c8"/>
<rect x="207.59" y="67.44" width="1.05" height="1.05" fill="#2a48c8"/>
<rect x="209.24" y="92.45" width="1.24" height="1.24" fill="#1f2fa8"/>
<rect x="216.89" y="117.24" width="1.09" height="1.09" fill="#2a48c8"/>
<rect x="222.09" y="81.38" width="0.95" height="0.95" fill="#1f2fa8"/>
<rect x="221.83" y="116.43" width="0.92" height="0.92" fill="#3858d0"/>
<rect x="247.37" y="72.62" width="0.92" height="0.92" fill="#1f2fa8"/>
<rect x="209.43" y="95.92" width="1.01" height="1.01" fill="#1f2fa8"/>
<rect x="208.19" y="108.63" width="0.99" height="0.99" fill="#2438b8"/>
<rect x="220.86" y="118.55" width="0.99" height="0.99" fill="#2a48c8"/>
<rect x="236.94" y="70.63" width="0.84" height="0.84" fill="#3858d0"/>
<rect x="220.92" y="111.46" width="1.03" height="1.03" fill="#2438b8"/>
<rect x="210.84" y="95.49" width="1.00" height="1.00" fill="#1f2fa8"/>
<rect x="220.71" y="70.16" width="0.93" height="0.93" fill="#2438b8"/>
<rect x="219.51" y="115.92" width="1.15" height="1.15" fill="#1f2fa8"/>
<rect x="207.44" y="96.07" width="1.20" height="1.20" fill="#2a48c8"/>
<rect x="214.63" y="94.06" width="1.16" height="1.16" fill="#3858d0"/>
<rect x="210.09" y="94.04" width="1.03" height="1.03" fill="#2a48c8"/>
<rect x="215.05" y="118.62" width="1.08" height="1.08" fill="#3858d0"/>
<rect x="213.52" y="116.55" width="1.15" height="1.15" fill="#2438b8"/>
<rect x="214.51" y="98.29" width="0.95" height="0.95" fill="#3858d0"/>
<rect x="206.34" y="93.79" width="1.04" height="1.04" fill="#1f2fa8"/>
<rect x="216.59" y="94.78" width="0.83" height="0.83" fill="#2438b8"/>
<rect x="222.04" y="80.90" width="0.95" height="0.95" fill="#2438b8"/>
<rect x="209.45" y="110.91" width="1.30" height="1.30" fill="#2438b8"/>
<rect x="204.61" y="70.36" width="1.15" height="1.15" fill="#2438b8"/>
<rect x="208.75" y="91.50" width="0.92" height="0.92" fill="#3858d0"/>
<rect x="207.26" y="100.92" width="1.22" height="1.22" fill="#1f2fa8"/>
<rect x="236.80" y="89.59" width="0.94" height="0.94" fill="#2a48c8"/>
<rect x="221.48" y="88.64" width="0.86" height="0.86" fill="#1f2fa8"/>
<rect x="244.76" y="66.15" width="1.23" height="1.23" fill="#2438b8"/>
<rect x="218.51" y="88.10" width="1.00" height="1.00" fill="#1f2fa8"/>
<rect x="203.88" y="74.72" width="1.13" height="1.13" fill="#2a48c8"/>
<rect x="207.08" y="94.83" width="1.17" height="1.17" fill="#2438b8"/>
<rect x="205.54" y="69.88" width="1.01" height="1.01" fill="#1f2fa8"/>
<rect x="246.75" y="65.55" width="0.92" height="0.92" fill="#3858d0"/>
<rect x="212.56" y="96.19" width="0.81" height="0.81" fill="#2a48c8"/>
<rect x="232.00" y="71.61" width="1.10" height="1.10" fill="#3858d0"/>
<rect x="226.57" y="75.64" width="1.03" height="1.03" fill="#3858d0"/>
<rect x="225.75" y="75.14" width="1.21" height="1.21" fill="#2a48c8"/>
<rect x="209.61" y="95.14" width="0.81" height="0.81" fill="#1f2fa8"/>
<rect x="242.00" y="69.47" width="0.95" height="0.95" fill="#1f2fa8"/>
<rect x="221.18" y="110.93" width="0.95" height="0.95" fill="#2a48c8"/>
<rect x="239.27" y="86.24" width="0.88" height="0.88" fill="#2a48c8"/>
<rect x="207.54" y="90.64" width="0.81" height="0.81" fill="#1f2fa8"/>
<rect x="219.52" y="84.99" width="1.15" height="1.15" fill="#3858d0"/>
<rect x="223.03" y="80.44" width="1.22" height="1.22" fill="#1f2fa8"/>
<rect x="218.50" y="90.48" width="1.21" height="1.21" fill="#2438b8"/>
<rect x="234.11" y="90.78" width="0.93" height="0.93" fill="#3858d0"/>
<rect x="220.98" y="103.93" width="1.10" height="1.10" fill="#1f2fa8"/>
<rect x="209.82" y="95.62" width="1.27" height="1.27" fill="#3858d0"/>
<rect x="207.76" y="94.34" width="0.89" height="0.89" fill="#1f2fa8"/>
<rect x="211.70" y="64.58" width="1.08" height="1.08" fill="#2438b8"/>
<rect x="236.68" y="68.58" width="0.95" height="0.95" fill="#3858d0"/>
<rect x="205.52" y="72.15" width="1.12" height="1.12" fill="#2a48c8"/>
<rect x="206.66" y="99.98" width="0.99" height="0.99" fill="#2438b8"/>
<rect x="240.05" y="68.90" width="1.17" height="1.17" fill="#2a48c8"/>
<rect x="238.08" y="69.15" width="0.85" height="0.85" fill="#3858d0"/>
<rect x="209.17" y="111.79" width="0.98" height="0.98" fill="#3858d0"/>
<rect x="210.20" y="91.02" width="1.21" height="1.21" fill="#2438b8"/>
<rect x="217.33" y="69.69" width="1.03" height="1.03" fill="#2a48c8"/>
<rect x="223.22" y="77.83" width="1.19" height="1.19" fill="#1f2fa8"/>
<rect x="209.42" y="96.81" width="0.95" height="0.95" fill="#3858d0"/>
<rect x="217.37" y="90.02" width="1.00" height="1.00" fill="#2a48c8"/>
<rect x="216.57" y="87.64" width="1.27" height="1.27" fill="#3858d0"/>
<rect x="220.07" y="74.75" width="0.86" height="0.86" fill="#2438b8"/>
<rect x="217.36" y="121.98" width="0.95" height="0.95" fill="#3858d0"/>
<rect x="207.95" y="109.16" width="1.01" height="1.01" fill="#1f2fa8"/>
<rect x="238.76" y="87.59" width="0.85" height="0.85" fill="#3858d0"/>
<rect x="212.60" y="62.39" width="1.17" height="1.17" fill="#1f2fa8"/>
<rect x="220.96" y="75.97" width="1.21" height="1.21" fill="#1f2fa8"/>
<rect x="242.12" y="66.35" width="0.97" height="0.97" fill="#3858d0"/>
<rect x="218.78" y="89.05" width="0.94" height="0.94" fill="#2a48c8"/>
<rect x="208.28" y="91.04" width="1.04" height="1.04" fill="#1f2fa8"/>
<rect x="217.05" y="94.50" width="1.13" height="1.13" fill="#3858d0"/>
<rect x="216.54" y="96.91" width="1.23" height="1.23" fill="#2a48c8"/>
<rect x="218.83" y="92.87" width="0.94" height="0.94" fill="#2a48c8"/>
<rect x="203.98" y="85.18" width="1.06" height="1.06" fill="#2438b8"/>
<rect x="213.50" y="92.32" width="1.22" height="1.22" fill="#1f2fa8"/>
<rect x="232.64" y="94.16" width="1.06" height="1.06" fill="#2438b8"/>
<rect x="213.34" y="67.24" width="1.07" height="1.07" fill="#3858d0"/>
<rect x="222.01" y="80.60" width="1.08" height="1.08" fill="#2438b8"/>
<rect x="217.11" y="90.33" width="0.92" height="0.92" fill="#2a48c8"/>
<rect x="239.06" y="66.48" width="0.84" height="0.84" fill="#3858d0"/>
<rect x="219.22" y="117.97" width="0.99" height="0.99" fill="#2438b8"/>
<rect x="211.85" y="67.84" width="1.19" height="1.19" fill="#1f2fa8"/>
<rect x="218.66" y="93.96" width="0.89" height="0.89" fill="#3858d0"/>
<rect x="228.08" y="96.06" width="1.13" height="1.13" fill="#3858d0"/>
<rect x="219.54" y="99.90" width="1.28" height="1.28" fill="#3858d0"/>
<rect x="207.23" y="107.03" width="0.81" height="0.81" fill="#2a48c8"/>
<rect x="247.14" y="75.03" width="1.29" height="1.29" fill="#1f2fa8"/>
<rect x="227.08" y="73.78" width="1.21" height="1.21" fill="#2a48c8"/>
<rect x="220.15" y="95.44" width="1.07" height="1.07" fill="#3858d0"/>
<rect x="213.97" y="89.98" width="1.16" height="1.16" fill="#2a48c8"/>
<rect x="248.80" y="68.17" width="0.92" height="0.92" fill="#2438b8"/>
<rect x="206.91" y="96.10" width="1.15" height="1.15" fill="#3858d0"/>
<rect x="239.33" y="80.89" width="0.8" height="0.8" fill="#5a6fd8" opacity="0.7"/>
<rect x="251.63" y="95.00" width="0.8" height="0.8" fill="#5a6fd8" opacity="0.7"/>
<rect x="255.84" y="71.50" width="0.8" height="0.8" fill="#5a6fd8" opacity="0.7"/>
<rect x="247.04" y="97.24" width="0.8" height="0.8" fill="#5a6fd8" opacity="0.7"/>
<rect x="237.98" y="64.55" width="0.8" height="0.8" fill="#5a6fd8" opacity="0.7"/>
<rect x="240.00" y="88.33" width="0.8" height="0.8" fill="#5a6fd8" opacity="0.7"/>
<rect x="243.15" y="87.47" width="0.8" height="0.8" fill="#5a6fd8" opacity="0.7"/>
<rect x="254.20" y="91.10" width="0.8" height="0.8" fill="#5a6fd8" opacity="0.7"/>
<rect x="236.88" y="86.78" width="0.8" height="0.8" fill="#5a6fd8" opacity="0.7"/>
<rect x="253.56" y="87.30" width="0.8" height="0.8" fill="#5a6fd8" opacity="0.7"/>
<rect x="255.01" y="91.44" width="0.8" height="0.8" fill="#5a6fd8" opacity="0.7"/>
<rect x="249.50" y="93.18" width="0.8" height="0.8" fill="#5a6fd8" opacity="0.7"/>
<rect x="247.98" y="65.89" width="0.8" height="0.8" fill="#5a6fd8" opacity="0.7"/>
<rect x="242.27" y="95.57" width="0.8" height="0.8" fill="#5a6fd8" opacity="0.7"/>
<rect x="243.40" y="78.97" width="0.8" height="0.8" fill="#5a6fd8" opacity="0.7"/>
<rect x="255.21" y="86.67" width="0.8" height="0.8" fill="#5a6fd8" opacity="0.7"/>
<rect x="253.40" y="78.93" width="0.8" height="0.8" fill="#5a6fd8" opacity="0.7"/>
<rect x="247.17" y="64.78" width="0.8" height="0.8" fill="#5a6fd8" opacity="0.7"/>
<rect x="240.39" y="67.70" width="0.8" height="0.8" fill="#5a6fd8" opacity="0.7"/>
<rect x="247.82" y="80.95" width="0.8" height="0.8" fill="#5a6fd8" opacity="0.7"/>
<rect x="237.59" y="84.85" width="0.8" height="0.8" fill="#5a6fd8" opacity="0.7"/>
<rect x="238.23" y="75.89" width="0.8" height="0.8" fill="#5a6fd8" opacity="0.7"/>
<rect x="236.58" y="79.10" width="0.8" height="0.8" fill="#5a6fd8" opacity="0.7"/>
<rect x="239.19" y="95.86" width="0.8" height="0.8" fill="#5a6fd8" opacity="0.7"/>
<rect x="243.96" y="91.85" width="0.8" height="0.8" fill="#5a6fd8" opacity="0.7"/>
<rect x="245.73" y="73.78" width="0.8" height="0.8" fill="#5a6fd8" opacity="0.7"/>
<rect x="254.48" y="71.89" width="0.8" height="0.8" fill="#5a6fd8" opacity="0.7"/>
<rect x="247.33" y="85.02" width="0.8" height="0.8" fill="#5a6fd8" opacity="0.7"/>
<rect x="257.87" y="87.33" width="0.8" height="0.8" fill="#5a6fd8" opacity="0.7"/>
<rect x="237.13" y="78.41" width="0.8" height="0.8" fill="#5a6fd8" opacity="0.7"/>
<rect x="256.95" y="92.77" width="0.8" height="0.8" fill="#5a6fd8" opacity="0.7"/>
<rect x="244.12" y="66.62" width="0.8" height="0.8" fill="#5a6fd8" opacity="0.7"/>
<rect x="241.92" y="89.25" width="0.8" height="0.8" fill="#5a6fd8" opacity="0.7"/>
<rect x="239.97" y="94.11" width="0.8" height="0.8" fill="#5a6fd8" opacity="0.7"/>
<rect x="241.84" y="86.82" width="0.8" height="0.8" fill="#5a6fd8" opacity="0.7"/>
<rect x="251.26" y="70.72" width="0.8" height="0.8" fill="#5a6fd8" opacity="0.7"/>
<rect x="247.41" y="84.62" width="0.8" height="0.8" fill="#5a6fd8" opacity="0.7"/>
<rect x="241.92" y="81.15" width="0.8" height="0.8" fill="#5a6fd8" opacity="0.7"/>
<rect x="249.81" y="96.47" width="0.8" height="0.8" fill="#5a6fd8" opacity="0.7"/>
<rect x="242.25" y="68.26" width="0.8" height="0.8" fill="#5a6fd8" opacity="0.7"/>
<ellipse cx="213.8" cy="105.0" rx="6.47" ry="14.50" fill="#2236b4" filter="url(#bl3)" transform="rotate(-14 213.8 105.0)"/>
<ellipse cx="213.8" cy="105.0" rx="5.54" ry="13.02" fill="#2d56d2" filter="url(#bl3)" transform="rotate(-14 213.8 105.0)"/>
<ellipse cx="213.8" cy="105.0" rx="4.49" ry="11.10" fill="#3a8ce6" filter="url(#bl3)" transform="rotate(-14 213.8 105.0)"/>
<ellipse cx="213.8" cy="105.0" rx="3.17" ry="8.14" fill="#3ec6d6" filter="url(#bl2)" transform="rotate(-14 213.8 105.0)"/>
<ellipse cx="213.0" cy="80.6" rx="8.33" ry="14.90" fill="#2236b4" filter="url(#bl3)" transform="rotate(0 213.0 80.6)"/>
<ellipse cx="213.0" cy="80.6" rx="7.48" ry="14.14" fill="#2d56d2" filter="url(#bl3)" transform="rotate(0 213.0 80.6)"/>
<ellipse cx="213.0" cy="80.6" rx="6.71" ry="13.38" fill="#3a8ce6" filter="url(#bl3)" transform="rotate(0 213.0 80.6)"/>
<ellipse cx="213.0" cy="80.6" rx="6.12" ry="12.77" fill="#3ec6d6" filter="url(#bl3)" transform="rotate(0 213.0 80.6)"/>
<ellipse cx="213.0" cy="80.6" rx="5.53" ry="12.16" fill="#4cc850" filter="url(#bl3)" transform="rotate(0 213.0 80.6)"/>
<ellipse cx="213.0" cy="80.6" rx="3.65" ry="8.21" fill="#a8d830" filter="url(#bl3)" transform="rotate(0 213.0 80.6)"/>
<ellipse cx="213.0" cy="80.6" rx="2.81" ry="6.38" fill="#f0d820" filter="url(#bl3)" transform="rotate(0 213.0 80.6)"/>
<ellipse cx="213.0" cy="80.6" rx="1.87" ry="4.26" fill="#f08a1c" filter="url(#bl3)" transform="rotate(0 213.0 80.6)"/>
<ellipse cx="213.0" cy="80.6" rx="1.10" ry="2.89" fill="#d42020" filter="url(#bl3)" transform="rotate(0 213.0 80.6)"/>
<ellipse cx="231.8" cy="82.8" rx="19.21" ry="8.04" fill="#2236b4" filter="url(#bl3)" transform="rotate(-44 231.8 82.8)"/>
<ellipse cx="231.8" cy="82.8" rx="17.64" ry="7.22" fill="#2d56d2" filter="url(#bl3)" transform="rotate(-44 231.8 82.8)"/>
<ellipse cx="231.8" cy="82.8" rx="16.46" ry="6.48" fill="#3a8ce6" filter="url(#bl3)" transform="rotate(-44 231.8 82.8)"/>
<ellipse cx="231.8" cy="82.8" rx="15.48" ry="5.90" fill="#3ec6d6" filter="url(#bl3)" transform="rotate(-44 231.8 82.8)"/>
<ellipse cx="231.8" cy="82.8" rx="14.31" ry="5.33" fill="#4cc850" filter="url(#bl3)" transform="rotate(-44 231.8 82.8)"/>
<ellipse cx="231.8" cy="82.8" rx="10.19" ry="3.61" fill="#a8d830" filter="url(#bl3)" transform="rotate(-44 231.8 82.8)"/>
<ellipse cx="231.8" cy="82.8" rx="7.84" ry="2.79" fill="#f0d820" filter="url(#bl3)" transform="rotate(-44 231.8 82.8)"/>
<ellipse cx="231.8" cy="82.8" rx="5.49" ry="1.97" fill="#f08a1c" filter="url(#bl3)" transform="rotate(-44 231.8 82.8)"/>
<ellipse cx="231.8" cy="82.8" rx="2.94" ry="1.15" fill="#d42020" filter="url(#bl3)" transform="rotate(-44 231.8 82.8)"/>
</g>
<path d="M203.2,65.2 L203.2,96.2 L215.4,96.0 Q219.5,86 223.1,76 Q225.2,69 224.6,64.5 Q224.0,60.2 220.4,59.1" fill="none" stroke="#cf3a9c" stroke-width="1.0" />
<path d="M223.9,73.5 Q227,67 230,65.2 Q232,63.6 234.5,63.0 L242.8,61.4" fill="none" stroke="#cf3a9c" stroke-width="1.0" />
<path d="M255.3,68.4 L258.4,77.3 L247.7,89.7 L236,95.9 Q231,98.6 227.7,99.1 L220.8,97.5 L215.4,96.0" fill="none" stroke="#cf3a9c" stroke-width="1.0" />
<text x="202.80" y="63.80" font-size="8.6" fill="#cf3a9c" stroke="#cf3a9c" stroke-width="0.12" textLength="16.40" lengthAdjust="spacingAndGlyphs" >42.3</text>
<text x="243.90" y="66.70" font-size="8.6" fill="#cf3a9c" stroke="#cf3a9c" stroke-width="0.12" textLength="16.90" lengthAdjust="spacingAndGlyphs" >45.3</text>
<text x="205.20" y="45.50" font-size="9.0" fill="#222" stroke="#222" stroke-width="0.12" textLength="25.80" lengthAdjust="spacingAndGlyphs" >Edited</text>
<text x="262.20" y="49.70" font-size="9.0" fill="#222" stroke="#222" stroke-width="0.12" textLength="21.70" lengthAdjust="spacingAndGlyphs" >Mock</text>
<line x1="218.60" y1="47.40" x2="216.00" y2="51.26" stroke="#1b4d6e" stroke-width="1.6" />
<path d="M213.20,55.40 L213.74,48.52 L215.83,51.50 L219.37,52.33 Z" fill="#1b4d6e"/>
<line x1="264.00" y1="51.20" x2="260.29" y2="55.02" stroke="#1b4d6e" stroke-width="1.6" />
<path d="M256.80,58.60 L258.55,51.93 L260.08,55.23 L263.42,56.67 Z" fill="#1b4d6e"/>
<rect x="201.60" y="35.00" width="87.80" height="88.30" stroke="#1e1e1e" stroke-width="1.2" fill="none"/>
<line x1="198.40" y1="104.30" x2="201.60" y2="104.30" stroke="#1e1e1e" stroke-width="1.0" />
<line x1="198.40" y1="84.07" x2="201.60" y2="84.07" stroke="#1e1e1e" stroke-width="1.0" />
<line x1="198.40" y1="63.83" x2="201.60" y2="63.83" stroke="#1e1e1e" stroke-width="1.0" />
<line x1="198.40" y1="43.60" x2="201.60" y2="43.60" stroke="#1e1e1e" stroke-width="1.0" />
<line x1="199.30" y1="98.21" x2="201.60" y2="98.21" stroke="#1e1e1e" stroke-width="0.9" />
<line x1="199.30" y1="94.65" x2="201.60" y2="94.65" stroke="#1e1e1e" stroke-width="0.9" />
<line x1="199.30" y1="92.12" x2="201.60" y2="92.12" stroke="#1e1e1e" stroke-width="0.9" />
<line x1="199.30" y1="90.16" x2="201.60" y2="90.16" stroke="#1e1e1e" stroke-width="0.9" />
<line x1="199.30" y1="88.56" x2="201.60" y2="88.56" stroke="#1e1e1e" stroke-width="0.9" />
<line x1="199.30" y1="87.20" x2="201.60" y2="87.20" stroke="#1e1e1e" stroke-width="0.9" />
<line x1="199.30" y1="86.03" x2="201.60" y2="86.03" stroke="#1e1e1e" stroke-width="0.9" />
<line x1="199.30" y1="84.99" x2="201.60" y2="84.99" stroke="#1e1e1e" stroke-width="0.9" />
<line x1="199.30" y1="77.98" x2="201.60" y2="77.98" stroke="#1e1e1e" stroke-width="0.9" />
<line x1="199.30" y1="74.41" x2="201.60" y2="74.41" stroke="#1e1e1e" stroke-width="0.9" />
<line x1="199.30" y1="71.88" x2="201.60" y2="71.88" stroke="#1e1e1e" stroke-width="0.9" />
<line x1="199.30" y1="69.92" x2="201.60" y2="69.92" stroke="#1e1e1e" stroke-width="0.9" />
<line x1="199.30" y1="68.32" x2="201.60" y2="68.32" stroke="#1e1e1e" stroke-width="0.9" />
<line x1="199.30" y1="66.97" x2="201.60" y2="66.97" stroke="#1e1e1e" stroke-width="0.9" />
<line x1="199.30" y1="65.79" x2="201.60" y2="65.79" stroke="#1e1e1e" stroke-width="0.9" />
<line x1="199.30" y1="64.76" x2="201.60" y2="64.76" stroke="#1e1e1e" stroke-width="0.9" />
<line x1="199.30" y1="57.74" x2="201.60" y2="57.74" stroke="#1e1e1e" stroke-width="0.9" />
<line x1="199.30" y1="54.18" x2="201.60" y2="54.18" stroke="#1e1e1e" stroke-width="0.9" />
<line x1="199.30" y1="51.65" x2="201.60" y2="51.65" stroke="#1e1e1e" stroke-width="0.9" />
<line x1="199.30" y1="49.69" x2="201.60" y2="49.69" stroke="#1e1e1e" stroke-width="0.9" />
<line x1="199.30" y1="48.09" x2="201.60" y2="48.09" stroke="#1e1e1e" stroke-width="0.9" />
<line x1="199.30" y1="46.73" x2="201.60" y2="46.73" stroke="#1e1e1e" stroke-width="0.9" />
<line x1="199.30" y1="45.56" x2="201.60" y2="45.56" stroke="#1e1e1e" stroke-width="0.9" />
<line x1="199.30" y1="44.53" x2="201.60" y2="44.53" stroke="#1e1e1e" stroke-width="0.9" />
<line x1="198.40" y1="113.20" x2="201.60" y2="113.20" stroke="#1e1e1e" stroke-width="1.0" />
<line x1="199.30" y1="107.50" x2="201.60" y2="107.50" stroke="#1e1e1e" stroke-width="0.9" />
<line x1="199.30" y1="110.30" x2="201.60" y2="110.30" stroke="#1e1e1e" stroke-width="0.9" />
<line x1="199.30" y1="116.00" x2="201.60" y2="116.00" stroke="#1e1e1e" stroke-width="0.9" />
<line x1="199.30" y1="118.80" x2="201.60" y2="118.80" stroke="#1e1e1e" stroke-width="0.9" />
<line x1="199.30" y1="121.20" x2="201.60" y2="121.20" stroke="#1e1e1e" stroke-width="0.9" />
<line x1="217.80" y1="123.30" x2="217.80" y2="126.30" stroke="#1e1e1e" stroke-width="1.0" />
<line x1="239.07" y1="123.30" x2="239.07" y2="126.30" stroke="#1e1e1e" stroke-width="1.0" />
<line x1="260.33" y1="123.30" x2="260.33" y2="126.30" stroke="#1e1e1e" stroke-width="1.0" />
<line x1="281.60" y1="123.30" x2="281.60" y2="126.30" stroke="#1e1e1e" stroke-width="1.0" />
<line x1="224.20" y1="123.30" x2="224.20" y2="125.60" stroke="#1e1e1e" stroke-width="0.9" />
<line x1="227.95" y1="123.30" x2="227.95" y2="125.60" stroke="#1e1e1e" stroke-width="0.9" />
<line x1="230.60" y1="123.30" x2="230.60" y2="125.60" stroke="#1e1e1e" stroke-width="0.9" />
<line x1="232.66" y1="123.30" x2="232.66" y2="125.60" stroke="#1e1e1e" stroke-width="0.9" />
<line x1="234.35" y1="123.30" x2="234.35" y2="125.60" stroke="#1e1e1e" stroke-width="0.9" />
<line x1="235.77" y1="123.30" x2="235.77" y2="125.60" stroke="#1e1e1e" stroke-width="0.9" />
<line x1="237.01" y1="123.30" x2="237.01" y2="125.60" stroke="#1e1e1e" stroke-width="0.9" />
<line x1="238.09" y1="123.30" x2="238.09" y2="125.60" stroke="#1e1e1e" stroke-width="0.9" />
<line x1="245.47" y1="123.30" x2="245.47" y2="125.60" stroke="#1e1e1e" stroke-width="0.9" />
<line x1="249.21" y1="123.30" x2="249.21" y2="125.60" stroke="#1e1e1e" stroke-width="0.9" />
<line x1="251.87" y1="123.30" x2="251.87" y2="125.60" stroke="#1e1e1e" stroke-width="0.9" />
<line x1="253.93" y1="123.30" x2="253.93" y2="125.60" stroke="#1e1e1e" stroke-width="0.9" />
<line x1="255.62" y1="123.30" x2="255.62" y2="125.60" stroke="#1e1e1e" stroke-width="0.9" />
<line x1="257.04" y1="123.30" x2="257.04" y2="125.60" stroke="#1e1e1e" stroke-width="0.9" />
<line x1="258.27" y1="123.30" x2="258.27" y2="125.60" stroke="#1e1e1e" stroke-width="0.9" />
<line x1="259.36" y1="123.30" x2="259.36" y2="125.60" stroke="#1e1e1e" stroke-width="0.9" />
<line x1="266.74" y1="123.30" x2="266.74" y2="125.60" stroke="#1e1e1e" stroke-width="0.9" />
<line x1="270.48" y1="123.30" x2="270.48" y2="125.60" stroke="#1e1e1e" stroke-width="0.9" />
<line x1="273.14" y1="123.30" x2="273.14" y2="125.60" stroke="#1e1e1e" stroke-width="0.9" />
<line x1="275.20" y1="123.30" x2="275.20" y2="125.60" stroke="#1e1e1e" stroke-width="0.9" />
<line x1="276.88" y1="123.30" x2="276.88" y2="125.60" stroke="#1e1e1e" stroke-width="0.9" />
<line x1="278.31" y1="123.30" x2="278.31" y2="125.60" stroke="#1e1e1e" stroke-width="0.9" />
<line x1="279.54" y1="123.30" x2="279.54" y2="125.60" stroke="#1e1e1e" stroke-width="0.9" />
<line x1="280.63" y1="123.30" x2="280.63" y2="125.60" stroke="#1e1e1e" stroke-width="0.9" />
<line x1="209.00" y1="123.30" x2="209.00" y2="126.30" stroke="#1e1e1e" stroke-width="1.0" />
<line x1="203.50" y1="123.30" x2="203.50" y2="125.60" stroke="#1e1e1e" stroke-width="0.9" />
<line x1="206.20" y1="123.30" x2="206.20" y2="125.60" stroke="#1e1e1e" stroke-width="0.9" />
<line x1="211.80" y1="123.30" x2="211.80" y2="125.60" stroke="#1e1e1e" stroke-width="0.9" />
<line x1="214.60" y1="123.30" x2="214.60" y2="125.60" stroke="#1e1e1e" stroke-width="0.9" />
<text x="182.40" y="45.90" font-size="8.2" fill="#333" stroke="#333" stroke-width="0.12" textLength="8.00" lengthAdjust="spacingAndGlyphs" >10</text>
<text x="190.00" y="42.30" font-size="5.0" fill="#333" stroke="#333" stroke-width="0.12" textLength="4.20" lengthAdjust="spacingAndGlyphs" >5</text>
<text x="182.40" y="65.30" font-size="8.2" fill="#333" stroke="#333" stroke-width="0.12" textLength="8.00" lengthAdjust="spacingAndGlyphs" >10</text>
<text x="190.00" y="61.70" font-size="5.0" fill="#333" stroke="#333" stroke-width="0.12" textLength="4.20" lengthAdjust="spacingAndGlyphs" >4</text>
<text x="182.40" y="85.40" font-size="8.2" fill="#333" stroke="#333" stroke-width="0.12" textLength="8.00" lengthAdjust="spacingAndGlyphs" >10</text>
<text x="190.00" y="81.80" font-size="5.0" fill="#333" stroke="#333" stroke-width="0.12" textLength="4.20" lengthAdjust="spacingAndGlyphs" >3</text>
<text x="182.40" y="106.60" font-size="8.2" fill="#333" stroke="#333" stroke-width="0.12" textLength="8.00" lengthAdjust="spacingAndGlyphs" >10</text>
<text x="190.00" y="103.00" font-size="5.0" fill="#333" stroke="#333" stroke-width="0.12" textLength="4.20" lengthAdjust="spacingAndGlyphs" >2</text>
<text x="195.20" y="116.00" font-size="8.0" fill="#333" stroke="#333" stroke-width="0.12" text-anchor="end" >0</text>
<text x="207.10" y="137.20" font-size="8.4" fill="#333" stroke="#333" stroke-width="0.12" textLength="3.40" lengthAdjust="spacingAndGlyphs" >0</text>
<text x="210.90" y="137.20" font-size="8.4" fill="#333" stroke="#333" stroke-width="0.12" textLength="8.40" lengthAdjust="spacingAndGlyphs" >10</text>
<text x="219.40" y="134.30" font-size="5.6" fill="#333" stroke="#333" stroke-width="0.12" textLength="3.40" lengthAdjust="spacingAndGlyphs" >2</text>
<text x="234.70" y="137.20" font-size="8.4" fill="#333" stroke="#333" stroke-width="0.12" textLength="8.40" lengthAdjust="spacingAndGlyphs" >10</text>
<text x="243.20" y="134.30" font-size="5.6" fill="#333" stroke="#333" stroke-width="0.12" textLength="3.40" lengthAdjust="spacingAndGlyphs" >3</text>
<text x="254.50" y="137.20" font-size="8.4" fill="#333" stroke="#333" stroke-width="0.12" textLength="8.40" lengthAdjust="spacingAndGlyphs" >10</text>
<text x="263.00" y="134.30" font-size="5.6" fill="#333" stroke="#333" stroke-width="0.12" textLength="3.40" lengthAdjust="spacingAndGlyphs" >4</text>
<text x="275.10" y="137.20" font-size="8.4" fill="#333" stroke="#333" stroke-width="0.12" textLength="8.40" lengthAdjust="spacingAndGlyphs" >10</text>
<text x="283.60" y="134.30" font-size="5.6" fill="#333" stroke="#333" stroke-width="0.12" textLength="3.40" lengthAdjust="spacingAndGlyphs" >5</text>
<text x="231.60" y="151.20" font-size="9.8" fill="#333" stroke="#333" stroke-width="0.12" textLength="27.00" lengthAdjust="spacingAndGlyphs" >CD45.1</text>
<text x="174.00" y="88.80" font-size="9.8" fill="#333" stroke="#333" stroke-width="0.12" textLength="26.20" lengthAdjust="spacingAndGlyphs" transform="rotate(-90 174.00 88.80)" >CD45.2</text>
<rect x="352.90" y="27.40" width="119.00" height="78.80" stroke="#1e1e1e" stroke-width="1.2" fill="none"/>
<line x1="349.90" y1="106.20" x2="352.90" y2="106.20" stroke="#1e1e1e" stroke-width="1.0" />
<text x="348.10" y="109.00" font-size="8.4" fill="#333" stroke="#333" stroke-width="0.12" text-anchor="end" textLength="5.20" lengthAdjust="spacingAndGlyphs" >0</text>
<line x1="349.90" y1="90.44" x2="352.90" y2="90.44" stroke="#1e1e1e" stroke-width="1.0" />
<text x="348.10" y="93.24" font-size="8.4" fill="#333" stroke="#333" stroke-width="0.12" text-anchor="end" textLength="9.40" lengthAdjust="spacingAndGlyphs" >20</text>
<line x1="349.90" y1="74.68" x2="352.90" y2="74.68" stroke="#1e1e1e" stroke-width="1.0" />
<text x="348.10" y="77.48" font-size="8.4" fill="#333" stroke="#333" stroke-width="0.12" text-anchor="end" textLength="9.40" lengthAdjust="spacingAndGlyphs" >40</text>
<line x1="349.90" y1="58.92" x2="352.90" y2="58.92" stroke="#1e1e1e" stroke-width="1.0" />
<text x="348.10" y="61.72" font-size="8.4" fill="#333" stroke="#333" stroke-width="0.12" text-anchor="end" textLength="9.40" lengthAdjust="spacingAndGlyphs" >60</text>
<line x1="349.90" y1="43.16" x2="352.90" y2="43.16" stroke="#1e1e1e" stroke-width="1.0" />
<text x="348.10" y="45.96" font-size="8.4" fill="#333" stroke="#333" stroke-width="0.12" text-anchor="end" textLength="9.40" lengthAdjust="spacingAndGlyphs" >80</text>
<line x1="349.90" y1="27.40" x2="352.90" y2="27.40" stroke="#1e1e1e" stroke-width="1.0" />
<text x="348.10" y="30.20" font-size="8.4" fill="#333" stroke="#333" stroke-width="0.12" text-anchor="end" textLength="14.00" lengthAdjust="spacingAndGlyphs" >100</text>
<text x="326.90" y="108.60" font-size="9.6" fill="#333" stroke="#333" stroke-width="0.12" textLength="84.80" lengthAdjust="spacingAndGlyphs" transform="rotate(-90 326.90 108.60)" >Donor-derived cells (%)</text>
<line x1="368.30" y1="106.20" x2="368.30" y2="108.80" stroke="#1e1e1e" stroke-width="1.0" />
<rect x="359.00" y="53.72" width="7.20" height="52.48" fill="#fff" stroke="#c43a5e" stroke-width="1.5"/>
<rect x="370.30" y="80.59" width="6.70" height="25.61" fill="#fff" stroke="#3a3a3a" stroke-width="1.5"/>
<line x1="362.60" y1="51.99" x2="362.60" y2="55.45" stroke="#c8284a" stroke-width="1.0" />
<line x1="360.10" y1="51.99" x2="365.10" y2="51.99" stroke="#c8284a" stroke-width="1.0" />
<line x1="373.65" y1="78.86" x2="373.65" y2="82.32" stroke="#222" stroke-width="1.0" />
<line x1="371.15" y1="78.86" x2="376.15" y2="78.86" stroke="#222" stroke-width="1.0" />
<circle cx="361.10" cy="52.62" r="1.5" fill="#b3102e"/>
<circle cx="364.10" cy="54.19" r="1.5" fill="#b3102e"/>
<circle cx="362.60" cy="55.37" r="1.5" fill="#b3102e"/>
<circle cx="360.60" cy="53.01" r="1.5" fill="#b3102e"/>
<path d="M370.55,79.27L373.75,79.27L372.15,76.39Z" fill="#111"/>
<path d="M373.55,81.64L376.75,81.64L375.15,78.76Z" fill="#111"/>
<path d="M372.05,82.82L375.25,82.82L373.65,79.94Z" fill="#111"/>
<path d="M370.05,81.24L373.25,81.24L371.65,78.36Z" fill="#111"/>
<text x="372.00" y="116.30" font-size="8.8" fill="#333" stroke="#333" stroke-width="0.12" text-anchor="end" textLength="15.00" lengthAdjust="spacingAndGlyphs" transform="rotate(-45 372.00 116.30)" >LSK</text>
<line x1="397.90" y1="106.20" x2="397.90" y2="108.80" stroke="#1e1e1e" stroke-width="1.0" />
<rect x="389.20" y="58.13" width="6.60" height="48.07" fill="#fff" stroke="#c43a5e" stroke-width="1.5"/>
<rect x="399.90" y="75.70" width="6.70" height="30.50" fill="#fff" stroke="#3a3a3a" stroke-width="1.5"/>
<line x1="392.50" y1="54.98" x2="392.50" y2="61.28" stroke="#c8284a" stroke-width="1.0" />
<line x1="390.00" y1="54.98" x2="395.00" y2="54.98" stroke="#c8284a" stroke-width="1.0" />
<line x1="403.25" y1="72.55" x2="403.25" y2="78.86" stroke="#222" stroke-width="1.0" />
<line x1="400.75" y1="72.55" x2="405.75" y2="72.55" stroke="#222" stroke-width="1.0" />
<circle cx="391.00" cy="52.62" r="1.5" fill="#b3102e"/>
<circle cx="394.00" cy="59.71" r="1.5" fill="#b3102e"/>
<circle cx="392.50" cy="60.89" r="1.5" fill="#b3102e"/>
<circle cx="390.50" cy="58.92" r="1.5" fill="#b3102e"/>
<path d="M400.15,73.76L403.35,73.76L401.75,70.88Z" fill="#111"/>
<path d="M403.15,76.12L406.35,76.12L404.75,73.24Z" fill="#111"/>
<path d="M401.65,80.06L404.85,80.06L403.25,77.18Z" fill="#111"/>
<text x="401.60" y="116.30" font-size="8.8" fill="#333" stroke="#333" stroke-width="0.12" text-anchor="end" textLength="31.30" lengthAdjust="spacingAndGlyphs" transform="rotate(-45 401.60 116.30)" >LT-HSC</text>
<line x1="427.50" y1="106.20" x2="427.50" y2="108.80" stroke="#1e1e1e" stroke-width="1.0" />
<rect x="418.80" y="48.28" width="6.70" height="57.92" fill="#fff" stroke="#c43a5e" stroke-width="1.5"/>
<rect x="429.60" y="84.61" width="6.60" height="21.59" fill="#fff" stroke="#3a3a3a" stroke-width="1.5"/>
<line x1="422.15" y1="43.55" x2="422.15" y2="53.01" stroke="#c8284a" stroke-width="1.0" />
<line x1="419.65" y1="43.55" x2="424.65" y2="43.55" stroke="#c8284a" stroke-width="1.0" />
<line x1="432.90" y1="79.88" x2="432.90" y2="89.34" stroke="#222" stroke-width="1.0" />
<line x1="430.40" y1="79.88" x2="435.40" y2="79.88" stroke="#222" stroke-width="1.0" />
<circle cx="420.65" cy="39.22" r="1.5" fill="#b3102e"/>
<circle cx="423.65" cy="49.46" r="1.5" fill="#b3102e"/>
<circle cx="422.15" cy="51.04" r="1.5" fill="#b3102e"/>
<circle cx="420.15" cy="48.68" r="1.5" fill="#b3102e"/>
<path d="M429.80,81.64L433.00,81.64L431.40,78.76Z" fill="#111"/>
<path d="M432.80,83.21L436.00,83.21L434.40,80.33Z" fill="#111"/>
<path d="M431.30,91.88L434.50,91.88L432.90,89.00Z" fill="#111"/>
<text x="431.20" y="116.30" font-size="8.8" fill="#333" stroke="#333" stroke-width="0.12" text-anchor="end" textLength="31.30" lengthAdjust="spacingAndGlyphs" transform="rotate(-45 431.20 116.30)" >ST-HSC</text>
<line x1="457.10" y1="106.20" x2="457.10" y2="108.80" stroke="#1e1e1e" stroke-width="1.0" />
<rect x="447.90" y="47.89" width="7.20" height="58.31" fill="#fff" stroke="#c43a5e" stroke-width="1.5"/>
<rect x="459.20" y="85.16" width="6.60" height="21.04" fill="#fff" stroke="#3a3a3a" stroke-width="1.5"/>
<line x1="451.50" y1="42.77" x2="451.50" y2="53.01" stroke="#c8284a" stroke-width="1.0" />
<line x1="449.00" y1="42.77" x2="454.00" y2="42.77" stroke="#c8284a" stroke-width="1.0" />
<line x1="462.50" y1="80.04" x2="462.50" y2="90.28" stroke="#222" stroke-width="1.0" />
<line x1="460.00" y1="80.04" x2="465.00" y2="80.04" stroke="#222" stroke-width="1.0" />
<circle cx="450.00" cy="37.64" r="1.5" fill="#b3102e"/>
<circle cx="453.00" cy="47.89" r="1.5" fill="#b3102e"/>
<circle cx="451.50" cy="51.83" r="1.5" fill="#b3102e"/>
<circle cx="449.50" cy="46.31" r="1.5" fill="#b3102e"/>
<path d="M459.40,80.06L462.60,80.06L461.00,77.18Z" fill="#111"/>
<path d="M462.40,85.58L465.60,85.58L464.00,82.70Z" fill="#111"/>
<path d="M460.90,92.67L464.10,92.67L462.50,89.79Z" fill="#111"/>
<text x="460.80" y="116.30" font-size="8.8" fill="#333" stroke="#333" stroke-width="0.12" text-anchor="end" textLength="18.80" lengthAdjust="spacingAndGlyphs" transform="rotate(-45 460.80 116.30)" >MPP</text>
<line x1="361.90" y1="43.85" x2="374.60" y2="43.85" stroke="#1e1e1e" stroke-width="1.0" />
<line x1="361.90" y1="41.75" x2="361.90" y2="46.35" stroke="#1e1e1e" stroke-width="1.0" />
<line x1="374.60" y1="41.75" x2="374.60" y2="46.35" stroke="#1e1e1e" stroke-width="1.0" />
<text x="368.25" y="44.75" font-size="9.0" fill="#111" stroke="#111" stroke-width="0.12" text-anchor="middle" >***</text>
<line x1="391.50" y1="43.85" x2="404.20" y2="43.85" stroke="#1e1e1e" stroke-width="1.0" />
<line x1="391.50" y1="41.75" x2="391.50" y2="46.35" stroke="#1e1e1e" stroke-width="1.0" />
<line x1="404.20" y1="41.75" x2="404.20" y2="46.35" stroke="#1e1e1e" stroke-width="1.0" />
<text x="397.85" y="44.75" font-size="9.0" fill="#111" stroke="#111" stroke-width="0.12" text-anchor="middle" >*</text>
<line x1="422.20" y1="35.60" x2="434.60" y2="35.60" stroke="#1e1e1e" stroke-width="1.0" />
<line x1="422.20" y1="33.50" x2="422.20" y2="38.10" stroke="#1e1e1e" stroke-width="1.0" />
<line x1="434.60" y1="33.50" x2="434.60" y2="38.10" stroke="#1e1e1e" stroke-width="1.0" />
<text x="428.40" y="37.30" font-size="9.0" fill="#111" stroke="#111" stroke-width="0.12" text-anchor="middle" >**</text>
<line x1="450.40" y1="35.40" x2="462.80" y2="35.40" stroke="#1e1e1e" stroke-width="1.0" />
<line x1="450.40" y1="33.30" x2="450.40" y2="37.90" stroke="#1e1e1e" stroke-width="1.0" />
<line x1="462.80" y1="33.30" x2="462.80" y2="37.90" stroke="#1e1e1e" stroke-width="1.0" />
<text x="456.60" y="37.10" font-size="9.0" fill="#111" stroke="#111" stroke-width="0.12" text-anchor="middle" >**</text>
<circle cx="477.30" cy="35.10" r="1.5" fill="#b3102e"/>
<text x="482.00" y="38.10" font-size="8.6" fill="#333" stroke="#333" stroke-width="0.12" textLength="25.70" lengthAdjust="spacingAndGlyphs" >edited</text>
<path d="M475.70,49.24L478.90,49.24L477.30,46.36Z" fill="#111"/>
<text x="482.00" y="51.00" font-size="8.6" fill="#333" stroke="#333" stroke-width="0.12" textLength="21.10" lengthAdjust="spacingAndGlyphs" >mock</text>
<text x="121.70" y="193.50" font-size="11.2" fill="#222" stroke="#222" stroke-width="0.12" textLength="27.40" lengthAdjust="spacingAndGlyphs" >CD45</text>
<text x="149.60" y="189.70" font-size="8.6" fill="#222" stroke="#222" stroke-width="0.12" >+</text>
<path d="M78.77,239.83L81.47,239.83L80.12,237.40Z" fill="#111"/>
<path d="M78.77,244.40L81.47,244.40L80.12,241.97Z" fill="#111"/>
<path d="M78.77,241.52L81.47,241.52L80.12,239.09Z" fill="#111"/>
<path d="M78.77,240.58L81.47,240.58L80.12,238.15Z" fill="#111"/>
<rect x="78.97" y="239.49" width="2.3" height="2.3" rx="0.8" fill="#b3102e"/>
<rect x="78.97" y="241.91" width="2.3" height="2.3" rx="0.8" fill="#b3102e"/>
<rect x="78.97" y="240.71" width="2.3" height="2.3" rx="0.8" fill="#b3102e"/>
<rect x="78.97" y="236.62" width="2.3" height="2.3" rx="0.8" fill="#b3102e"/>
<path d="M80.67,243.38L83.37,243.38L82.02,240.95Z" fill="#111"/>
<path d="M80.67,242.06L83.37,242.06L82.02,239.63Z" fill="#111"/>
<path d="M80.67,241.34L83.37,241.34L82.02,238.91Z" fill="#111"/>
<path d="M80.67,244.40L83.37,244.40L82.02,241.97Z" fill="#111"/>
<rect x="80.87" y="238.28" width="2.3" height="2.3" rx="0.8" fill="#b3102e"/>
<rect x="80.87" y="241.96" width="2.3" height="2.3" rx="0.8" fill="#b3102e"/>
<rect x="80.87" y="239.55" width="2.3" height="2.3" rx="0.8" fill="#b3102e"/>
<rect x="80.87" y="240.38" width="2.3" height="2.3" rx="0.8" fill="#b3102e"/>
<path d="M82.80,241.70L85.50,241.70L84.15,239.27Z" fill="#111"/>
<path d="M82.80,245.29L85.50,245.29L84.15,242.86Z" fill="#111"/>
<path d="M82.80,244.38L85.50,244.38L84.15,241.95Z" fill="#111"/>
<path d="M82.80,243.03L85.50,243.03L84.15,240.60Z" fill="#111"/>
<rect x="83.00" y="239.19" width="2.3" height="2.3" rx="0.8" fill="#b3102e"/>
<rect x="83.00" y="236.07" width="2.3" height="2.3" rx="0.8" fill="#b3102e"/>
<rect x="83.00" y="238.40" width="2.3" height="2.3" rx="0.8" fill="#b3102e"/>
<rect x="83.00" y="240.94" width="2.3" height="2.3" rx="0.8" fill="#b3102e"/>
<path d="M84.93,244.70L87.63,244.70L86.28,242.27Z" fill="#111"/>
<path d="M84.93,242.10L87.63,242.10L86.28,239.67Z" fill="#111"/>
<path d="M84.93,248.89L87.63,248.89L86.28,246.46Z" fill="#111"/>
<path d="M84.93,240.73L87.63,240.73L86.28,238.30Z" fill="#111"/>
<rect x="85.13" y="239.35" width="2.3" height="2.3" rx="0.8" fill="#b3102e"/>
<rect x="85.13" y="236.34" width="2.3" height="2.3" rx="0.8" fill="#b3102e"/>
<rect x="85.13" y="232.34" width="2.3" height="2.3" rx="0.8" fill="#b3102e"/>
<rect x="85.13" y="241.79" width="2.3" height="2.3" rx="0.8" fill="#b3102e"/>
<path d="M87.06,241.91L89.76,241.91L88.41,239.48Z" fill="#111"/>
<path d="M87.06,245.02L89.76,245.02L88.41,242.59Z" fill="#111"/>
<path d="M87.06,243.43L89.76,243.43L88.41,241.00Z" fill="#111"/>
<path d="M87.06,250.24L89.76,250.24L88.41,247.81Z" fill="#111"/>
<rect x="87.26" y="237.72" width="2.3" height="2.3" rx="0.8" fill="#b3102e"/>
<rect x="87.26" y="235.26" width="2.3" height="2.3" rx="0.8" fill="#b3102e"/>
<rect x="87.26" y="230.42" width="2.3" height="2.3" rx="0.8" fill="#b3102e"/>
<rect x="87.26" y="233.53" width="2.3" height="2.3" rx="0.8" fill="#b3102e"/>
<path d="M89.19,244.43L91.89,244.43L90.54,242.00Z" fill="#111"/>
<path d="M89.19,246.93L91.89,246.93L90.54,244.50Z" fill="#111"/>
<path d="M89.19,243.04L91.89,243.04L90.54,240.61Z" fill="#111"/>
<path d="M89.19,253.39L91.89,253.39L90.54,250.96Z" fill="#111"/>
<rect x="89.39" y="226.73" width="2.3" height="2.3" rx="0.8" fill="#b3102e"/>
<rect x="89.39" y="234.69" width="2.3" height="2.3" rx="0.8" fill="#b3102e"/>
<rect x="89.39" y="237.43" width="2.3" height="2.3" rx="0.8" fill="#b3102e"/>
<rect x="89.39" y="239.20" width="2.3" height="2.3" rx="0.8" fill="#b3102e"/>
<path d="M91.32,251.09L94.02,251.09L92.67,248.66Z" fill="#111"/>
<path d="M91.32,243.40L94.02,243.40L92.67,240.97Z" fill="#111"/>
<path d="M91.32,253.00L94.02,253.00L92.67,250.57Z" fill="#111"/>
<path d="M91.32,245.79L94.02,245.79L92.67,243.36Z" fill="#111"/>
<rect x="91.52" y="227.52" width="2.3" height="2.3" rx="0.8" fill="#b3102e"/>
<rect x="91.52" y="235.33" width="2.3" height="2.3" rx="0.8" fill="#b3102e"/>
<rect x="91.52" y="239.65" width="2.3" height="2.3" rx="0.8" fill="#b3102e"/>
<rect x="91.52" y="232.17" width="2.3" height="2.3" rx="0.8" fill="#b3102e"/>
<path d="M93.45,243.45L96.15,243.45L94.80,241.02Z" fill="#111"/>
<path d="M93.45,246.46L96.15,246.46L94.80,244.03Z" fill="#111"/>
<path d="M93.45,254.38L96.15,254.38L94.80,251.95Z" fill="#111"/>
<path d="M93.45,249.50L96.15,249.50L94.80,247.07Z" fill="#111"/>
<rect x="93.65" y="231.16" width="2.3" height="2.3" rx="0.8" fill="#b3102e"/>
<rect x="93.65" y="239.10" width="2.3" height="2.3" rx="0.8" fill="#b3102e"/>
<rect x="93.65" y="228.48" width="2.3" height="2.3" rx="0.8" fill="#b3102e"/>
<rect x="93.65" y="234.66" width="2.3" height="2.3" rx="0.8" fill="#b3102e"/>
<path d="M95.58,247.35L98.28,247.35L96.93,244.92Z" fill="#111"/>
<path d="M95.58,251.41L98.28,251.41L96.93,248.98Z" fill="#111"/>
<path d="M95.58,255.65L98.28,255.65L96.93,253.22Z" fill="#111"/>
<path d="M95.58,249.70L98.28,249.70L96.93,247.27Z" fill="#111"/>
<rect x="95.78" y="234.59" width="2.3" height="2.3" rx="0.8" fill="#b3102e"/>
<rect x="95.78" y="230.21" width="2.3" height="2.3" rx="0.8" fill="#b3102e"/>
<rect x="95.78" y="227.82" width="2.3" height="2.3" rx="0.8" fill="#b3102e"/>
<rect x="95.78" y="225.60" width="2.3" height="2.3" rx="0.8" fill="#b3102e"/>
<path d="M97.71,249.62L100.41,249.62L99.06,247.19Z" fill="#111"/>
<path d="M97.71,243.89L100.41,243.89L99.06,241.46Z" fill="#111"/>
<path d="M97.71,248.00L100.41,248.00L99.06,245.57Z" fill="#111"/>
<path d="M97.71,256.01L100.41,256.01L99.06,253.58Z" fill="#111"/>
<rect x="97.91" y="230.45" width="2.3" height="2.3" rx="0.8" fill="#b3102e"/>
<rect x="97.91" y="227.92" width="2.3" height="2.3" rx="0.8" fill="#b3102e"/>
<rect x="97.91" y="234.38" width="2.3" height="2.3" rx="0.8" fill="#b3102e"/>
<rect x="97.91" y="237.42" width="2.3" height="2.3" rx="0.8" fill="#b3102e"/>
<path d="M99.85,249.91L102.55,249.91L101.20,247.48Z" fill="#111"/>
<path d="M99.85,252.84L102.55,252.84L101.20,250.41Z" fill="#111"/>
<path d="M99.85,247.29L102.55,247.29L101.20,244.86Z" fill="#111"/>
<path d="M99.85,256.16L102.55,256.16L101.20,253.73Z" fill="#111"/>
<rect x="100.05" y="231.97" width="2.3" height="2.3" rx="0.8" fill="#b3102e"/>
<rect x="100.05" y="235.99" width="2.3" height="2.3" rx="0.8" fill="#b3102e"/>
<rect x="100.05" y="222.95" width="2.3" height="2.3" rx="0.8" fill="#b3102e"/>
<rect x="100.05" y="230.83" width="2.3" height="2.3" rx="0.8" fill="#b3102e"/>
<path d="M101.98,244.92L104.68,244.92L103.33,242.49Z" fill="#111"/>
<path d="M101.98,251.54L104.68,251.54L103.33,249.11Z" fill="#111"/>
<path d="M101.98,248.21L104.68,248.21L103.33,245.78Z" fill="#111"/>
<path d="M101.98,254.21L104.68,254.21L103.33,251.78Z" fill="#111"/>
<rect x="102.18" y="227.30" width="2.3" height="2.3" rx="0.8" fill="#b3102e"/>
<rect x="102.18" y="229.33" width="2.3" height="2.3" rx="0.8" fill="#b3102e"/>
<rect x="102.18" y="233.33" width="2.3" height="2.3" rx="0.8" fill="#b3102e"/>
<rect x="102.18" y="222.69" width="2.3" height="2.3" rx="0.8" fill="#b3102e"/>
<path d="M104.11,253.90L106.81,253.90L105.46,251.47Z" fill="#111"/>
<path d="M104.11,250.61L106.81,250.61L105.46,248.18Z" fill="#111"/>
<path d="M104.11,248.46L106.81,248.46L105.46,246.03Z" fill="#111"/>
<path d="M104.11,256.82L106.81,256.82L105.46,254.39Z" fill="#111"/>
<rect x="104.31" y="231.66" width="2.3" height="2.3" rx="0.8" fill="#b3102e"/>
<rect x="104.31" y="234.44" width="2.3" height="2.3" rx="0.8" fill="#b3102e"/>
<rect x="104.31" y="228.01" width="2.3" height="2.3" rx="0.8" fill="#b3102e"/>
<rect x="104.31" y="222.56" width="2.3" height="2.3" rx="0.8" fill="#b3102e"/>
<path d="M109.08,245.36L111.78,245.36L110.43,242.93Z" fill="#111"/>
<path d="M109.08,248.59L111.78,248.59L110.43,246.16Z" fill="#111"/>
<path d="M109.08,253.64L111.78,253.64L110.43,251.21Z" fill="#111"/>
<path d="M109.08,256.20L111.78,256.20L110.43,253.77Z" fill="#111"/>
<path d="M109.08,250.91L111.78,250.91L110.43,248.48Z" fill="#111"/>
<rect x="109.28" y="233.25" width="2.3" height="2.3" rx="0.8" fill="#b3102e"/>
<rect x="109.28" y="225.42" width="2.3" height="2.3" rx="0.8" fill="#b3102e"/>
<rect x="109.28" y="229.13" width="2.3" height="2.3" rx="0.8" fill="#b3102e"/>
<rect x="109.28" y="236.26" width="2.3" height="2.3" rx="0.8" fill="#b3102e"/>
<rect x="109.28" y="221.65" width="2.3" height="2.3" rx="0.8" fill="#b3102e"/>
<path d="M116.66,256.47L119.36,256.47L118.01,254.04Z" fill="#111"/>
<path d="M116.66,251.23L119.36,251.23L118.01,248.80Z" fill="#111"/>
<path d="M116.66,245.37L119.36,245.37L118.01,242.94Z" fill="#111"/>
<path d="M116.66,254.30L119.36,254.30L118.01,251.87Z" fill="#111"/>
<path d="M116.66,249.03L119.36,249.03L118.01,246.60Z" fill="#111"/>
<rect x="116.86" y="235.44" width="2.3" height="2.3" rx="0.8" fill="#b3102e"/>
<rect x="116.86" y="222.74" width="2.3" height="2.3" rx="0.8" fill="#b3102e"/>
<rect x="116.86" y="225.38" width="2.3" height="2.3" rx="0.8" fill="#b3102e"/>
<rect x="116.86" y="227.67" width="2.3" height="2.3" rx="0.8" fill="#b3102e"/>
<rect x="116.86" y="230.87" width="2.3" height="2.3" rx="0.8" fill="#b3102e"/>
<path d="M128.50,247.09L131.20,247.09L129.85,244.66Z" fill="#111"/>
<path d="M128.50,249.72L131.20,249.72L129.85,247.29Z" fill="#111"/>
<path d="M128.50,258.46L131.20,258.46L129.85,256.03Z" fill="#111"/>
<path d="M128.50,255.56L131.20,255.56L129.85,253.13Z" fill="#111"/>
<path d="M128.50,253.27L131.20,253.27L129.85,250.84Z" fill="#111"/>
<rect x="128.70" y="230.05" width="2.3" height="2.3" rx="0.8" fill="#b3102e"/>
<rect x="128.70" y="219.04" width="2.3" height="2.3" rx="0.8" fill="#b3102e"/>
<rect x="128.70" y="233.12" width="2.3" height="2.3" rx="0.8" fill="#b3102e"/>
<rect x="128.70" y="226.81" width="2.3" height="2.3" rx="0.8" fill="#b3102e"/>
<rect x="128.70" y="223.26" width="2.3" height="2.3" rx="0.8" fill="#b3102e"/>
<path d="M146.97,253.81L149.67,253.81L148.32,251.38Z" fill="#111"/>
<path d="M146.97,262.78L149.67,262.78L148.32,260.35Z" fill="#111"/>
<path d="M146.97,259.04L149.67,259.04L148.32,256.61Z" fill="#111"/>
<path d="M146.97,252.48L149.67,252.48L148.32,250.05Z" fill="#111"/>
<path d="M146.97,257.94L149.67,257.94L148.32,255.51Z" fill="#111"/>
<rect x="147.17" y="225.79" width="2.3" height="2.3" rx="0.8" fill="#b3102e"/>
<rect x="147.17" y="216.48" width="2.3" height="2.3" rx="0.8" fill="#b3102e"/>
<rect x="147.17" y="220.23" width="2.3" height="2.3" rx="0.8" fill="#b3102e"/>
<rect x="147.17" y="222.01" width="2.3" height="2.3" rx="0.8" fill="#b3102e"/>
<rect x="147.17" y="230.67" width="2.3" height="2.3" rx="0.8" fill="#b3102e"/>
<path d="M150.76,254.60L153.46,254.60L152.11,252.17Z" fill="#111"/>
<path d="M150.76,261.38L153.46,261.38L152.11,258.95Z" fill="#111"/>
<path d="M150.76,248.81L153.46,248.81L152.11,246.38Z" fill="#111"/>
<path d="M150.76,252.46L153.46,252.46L152.11,250.03Z" fill="#111"/>
<path d="M150.76,257.07L153.46,257.07L152.11,254.64Z" fill="#111"/>
<rect x="150.96" y="227.91" width="2.3" height="2.3" rx="0.8" fill="#b3102e"/>
<rect x="150.96" y="221.14" width="2.3" height="2.3" rx="0.8" fill="#b3102e"/>
<rect x="150.96" y="232.32" width="2.3" height="2.3" rx="0.8" fill="#b3102e"/>
<rect x="150.96" y="226.13" width="2.3" height="2.3" rx="0.8" fill="#b3102e"/>
<rect x="150.96" y="219.23" width="2.3" height="2.3" rx="0.8" fill="#b3102e"/>
<path d="M167.33,248.49L170.03,248.49L168.68,246.06Z" fill="#111"/>
<path d="M167.33,256.21L170.03,256.21L168.68,253.78Z" fill="#111"/>
<path d="M167.33,253.45L170.03,253.45L168.68,251.02Z" fill="#111"/>
<path d="M167.33,250.42L170.03,250.42L168.68,247.99Z" fill="#111"/>
<path d="M167.33,260.43L170.03,260.43L168.68,258.00Z" fill="#111"/>
<rect x="167.53" y="220.21" width="2.3" height="2.3" rx="0.8" fill="#b3102e"/>
<rect x="167.53" y="233.26" width="2.3" height="2.3" rx="0.8" fill="#b3102e"/>
<rect x="167.53" y="225.41" width="2.3" height="2.3" rx="0.8" fill="#b3102e"/>
<rect x="167.53" y="221.49" width="2.3" height="2.3" rx="0.8" fill="#b3102e"/>
<rect x="167.53" y="229.49" width="2.3" height="2.3" rx="0.8" fill="#b3102e"/>
<polyline points="80.12,240.55 82.02,240.55 84.15,239.57 86.28,238.38 88.41,236.91 90.54,235.44 92.67,234.22 94.80,233.48 96.93,232.75 99.06,232.07 101.20,231.58 103.33,231.09 105.46,230.68 110.43,231.02 118.01,230.32 129.85,228.41 148.32,224.57 152.11,226.87 168.68,227.61" fill="none" stroke="#c8284a" stroke-width="1.0"/>
<polyline points="80.12,240.88 82.02,241.31 84.15,242.29 86.28,243.49 88.41,244.95 90.54,246.42 92.67,247.56 94.80,248.05 96.93,248.54 99.06,249.03 101.20,249.52 103.33,250.01 105.46,250.41 110.43,249.70 118.01,250.40 129.85,252.31 148.32,256.53 152.11,254.60 168.68,253.49" fill="none" stroke="#1a1a1a" stroke-width="1.0"/>
<rect x="78.70" y="198.70" width="118.40" height="79.90" stroke="#1e1e1e" stroke-width="1.25" fill="none"/>
<line x1="75.30" y1="278.60" x2="78.70" y2="278.60" stroke="#1e1e1e" stroke-width="1.0" />
<text x="72.50" y="281.20" font-size="8.6" fill="#333" stroke="#333" stroke-width="0.12" text-anchor="end" textLength="5.40" lengthAdjust="spacingAndGlyphs" >0</text>
<line x1="75.30" y1="263.38" x2="78.70" y2="263.38" stroke="#1e1e1e" stroke-width="1.0" />
<text x="72.50" y="265.98" font-size="8.6" fill="#333" stroke="#333" stroke-width="0.12" text-anchor="end" textLength="10.00" lengthAdjust="spacingAndGlyphs" >20</text>
<line x1="75.30" y1="248.16" x2="78.70" y2="248.16" stroke="#1e1e1e" stroke-width="1.0" />
<text x="72.50" y="250.76" font-size="8.6" fill="#333" stroke="#333" stroke-width="0.12" text-anchor="end" textLength="10.00" lengthAdjust="spacingAndGlyphs" >40</text>
<line x1="75.30" y1="232.94" x2="78.70" y2="232.94" stroke="#1e1e1e" stroke-width="1.0" />
<text x="72.50" y="235.54" font-size="8.6" fill="#333" stroke="#333" stroke-width="0.12" text-anchor="end" textLength="10.00" lengthAdjust="spacingAndGlyphs" >60</text>
<line x1="75.30" y1="217.72" x2="78.70" y2="217.72" stroke="#1e1e1e" stroke-width="1.0" />
<text x="72.50" y="220.32" font-size="8.6" fill="#333" stroke="#333" stroke-width="0.12" text-anchor="end" textLength="10.00" lengthAdjust="spacingAndGlyphs" >80</text>
<line x1="75.30" y1="202.50" x2="78.70" y2="202.50" stroke="#1e1e1e" stroke-width="1.0" />
<text x="72.50" y="205.10" font-size="8.6" fill="#333" stroke="#333" stroke-width="0.12" text-anchor="end" textLength="14.10" lengthAdjust="spacingAndGlyphs" >100</text>
<line x1="78.70" y1="278.60" x2="78.70" y2="280.80" stroke="#1e1e1e" stroke-width="1.0" />
<text x="78.70" y="292.30" font-size="8.8" fill="#333" stroke="#333" stroke-width="0.12" text-anchor="middle" textLength="5.80" lengthAdjust="spacingAndGlyphs" >0</text>
<line x1="102.38" y1="278.60" x2="102.38" y2="280.80" stroke="#1e1e1e" stroke-width="1.0" />
<text x="102.38" y="292.30" font-size="8.8" fill="#333" stroke="#333" stroke-width="0.12" text-anchor="middle" textLength="13.50" lengthAdjust="spacingAndGlyphs" >100</text>
<line x1="126.06" y1="278.60" x2="126.06" y2="280.80" stroke="#1e1e1e" stroke-width="1.0" />
<text x="126.06" y="292.30" font-size="8.8" fill="#333" stroke="#333" stroke-width="0.12" text-anchor="middle" textLength="13.50" lengthAdjust="spacingAndGlyphs" >200</text>
<line x1="149.74" y1="278.60" x2="149.74" y2="280.80" stroke="#1e1e1e" stroke-width="1.0" />
<text x="149.74" y="292.30" font-size="8.8" fill="#333" stroke="#333" stroke-width="0.12" text-anchor="middle" textLength="13.50" lengthAdjust="spacingAndGlyphs" >300</text>
<line x1="173.42" y1="278.60" x2="173.42" y2="280.80" stroke="#1e1e1e" stroke-width="1.0" />
<text x="173.42" y="292.30" font-size="8.8" fill="#333" stroke="#333" stroke-width="0.12" text-anchor="middle" textLength="13.50" lengthAdjust="spacingAndGlyphs" >400</text>
<line x1="197.10" y1="278.60" x2="197.10" y2="280.80" stroke="#1e1e1e" stroke-width="1.0" />
<text x="197.10" y="292.30" font-size="8.8" fill="#333" stroke="#333" stroke-width="0.12" text-anchor="middle" textLength="13.50" lengthAdjust="spacingAndGlyphs" >500</text>
<text x="87.00" y="275.00" font-size="8.6" fill="#333" stroke="#333" stroke-width="0.12" font-style="italic" >P</text>
<text x="93.80" y="275.00" font-size="8.6" fill="#333" stroke="#333" stroke-width="0.12" textLength="30.10" lengthAdjust="spacingAndGlyphs" >&lt; .0001</text>
<text x="264.40" y="193.50" font-size="11.2" fill="#222" stroke="#222" stroke-width="0.12" textLength="33.80" lengthAdjust="spacingAndGlyphs" >CD11b</text>
<text x="298.70" y="189.70" font-size="8.6" fill="#222" stroke="#222" stroke-width="0.12" >+</text>
<path d="M224.68,242.24L227.38,242.24L226.03,239.81Z" fill="#111"/>
<path d="M224.68,239.39L227.38,239.39L226.03,236.96Z" fill="#111"/>
<path d="M224.68,245.36L227.38,245.36L226.03,242.93Z" fill="#111"/>
<path d="M224.68,239.78L227.38,239.78L226.03,237.35Z" fill="#111"/>
<rect x="224.88" y="242.19" width="2.3" height="2.3" rx="0.8" fill="#b3102e"/>
<rect x="224.88" y="239.72" width="2.3" height="2.3" rx="0.8" fill="#b3102e"/>
<rect x="224.88" y="234.39" width="2.3" height="2.3" rx="0.8" fill="#b3102e"/>
<rect x="224.88" y="237.46" width="2.3" height="2.3" rx="0.8" fill="#b3102e"/>
<path d="M226.58,242.54L229.28,242.54L227.93,240.11Z" fill="#111"/>
<path d="M226.58,241.18L229.28,241.18L227.93,238.75Z" fill="#111"/>
<path d="M226.58,240.14L229.28,240.14L227.93,237.71Z" fill="#111"/>
<path d="M226.58,244.02L229.28,244.02L227.93,241.59Z" fill="#111"/>
<rect x="226.78" y="233.00" width="2.3" height="2.3" rx="0.8" fill="#b3102e"/>
<rect x="226.78" y="240.67" width="2.3" height="2.3" rx="0.8" fill="#b3102e"/>
<rect x="226.78" y="235.65" width="2.3" height="2.3" rx="0.8" fill="#b3102e"/>
<rect x="226.78" y="238.26" width="2.3" height="2.3" rx="0.8" fill="#b3102e"/>
<path d="M228.72,241.68L231.42,241.68L230.07,239.25Z" fill="#111"/>
<path d="M228.72,247.76L231.42,247.76L230.07,245.33Z" fill="#111"/>
<path d="M228.72,242.54L231.42,242.54L230.07,240.11Z" fill="#111"/>
<path d="M228.72,244.33L231.42,244.33L230.07,241.90Z" fill="#111"/>
<rect x="228.92" y="235.19" width="2.3" height="2.3" rx="0.8" fill="#b3102e"/>
<rect x="228.92" y="237.28" width="2.3" height="2.3" rx="0.8" fill="#b3102e"/>
<rect x="228.92" y="239.98" width="2.3" height="2.3" rx="0.8" fill="#b3102e"/>
<rect x="228.92" y="232.21" width="2.3" height="2.3" rx="0.8" fill="#b3102e"/>
<path d="M230.86,240.00L233.56,240.00L232.21,237.57Z" fill="#111"/>
<path d="M230.86,242.83L233.56,242.83L232.21,240.40Z" fill="#111"/>
<path d="M230.86,245.64L233.56,245.64L232.21,243.21Z" fill="#111"/>
<path d="M230.86,248.64L233.56,248.64L232.21,246.21Z" fill="#111"/>
<rect x="231.06" y="238.73" width="2.3" height="2.3" rx="0.8" fill="#b3102e"/>
<rect x="231.06" y="243.19" width="2.3" height="2.3" rx="0.8" fill="#b3102e"/>
<rect x="231.06" y="233.88" width="2.3" height="2.3" rx="0.8" fill="#b3102e"/>
<rect x="231.06" y="230.29" width="2.3" height="2.3" rx="0.8" fill="#b3102e"/>
<path d="M233.00,250.99L235.70,250.99L234.35,248.56Z" fill="#111"/>
<path d="M233.00,240.32L235.70,240.32L234.35,237.89Z" fill="#111"/>
<path d="M233.00,247.45L235.70,247.45L234.35,245.02Z" fill="#111"/>
<path d="M233.00,253.40L235.70,253.40L234.35,250.97Z" fill="#111"/>
<rect x="233.20" y="234.16" width="2.3" height="2.3" rx="0.8" fill="#b3102e"/>
<rect x="233.20" y="229.95" width="2.3" height="2.3" rx="0.8" fill="#b3102e"/>
<rect x="233.20" y="242.09" width="2.3" height="2.3" rx="0.8" fill="#b3102e"/>
<rect x="233.20" y="236.54" width="2.3" height="2.3" rx="0.8" fill="#b3102e"/>
<path d="M235.14,242.82L237.84,242.82L236.49,240.39Z" fill="#111"/>
<path d="M235.14,253.03L237.84,253.03L236.49,250.60Z" fill="#111"/>
<path d="M235.14,238.40L237.84,238.40L236.49,235.97Z" fill="#111"/>
<path d="M235.14,257.27L237.84,257.27L236.49,254.84Z" fill="#111"/>
<rect x="235.34" y="223.15" width="2.3" height="2.3" rx="0.8" fill="#b3102e"/>
<rect x="235.34" y="232.61" width="2.3" height="2.3" rx="0.8" fill="#b3102e"/>
<rect x="235.34" y="237.22" width="2.3" height="2.3" rx="0.8" fill="#b3102e"/>
<rect x="235.34" y="226.65" width="2.3" height="2.3" rx="0.8" fill="#b3102e"/>
<path d="M237.28,247.15L239.98,247.15L238.63,244.72Z" fill="#111"/>
<path d="M237.28,250.40L239.98,250.40L238.63,247.97Z" fill="#111"/>
<path d="M237.28,241.82L239.98,241.82L238.63,239.39Z" fill="#111"/>
<path d="M237.28,260.28L239.98,260.28L238.63,257.85Z" fill="#111"/>
<rect x="237.48" y="236.38" width="2.3" height="2.3" rx="0.8" fill="#b3102e"/>
<rect x="237.48" y="224.46" width="2.3" height="2.3" rx="0.8" fill="#b3102e"/>
<rect x="237.48" y="240.97" width="2.3" height="2.3" rx="0.8" fill="#b3102e"/>
<rect x="237.48" y="231.10" width="2.3" height="2.3" rx="0.8" fill="#b3102e"/>
<path d="M239.42,261.92L242.12,261.92L240.77,259.49Z" fill="#111"/>
<path d="M239.42,250.88L242.12,250.88L240.77,248.45Z" fill="#111"/>
<path d="M239.42,244.70L242.12,244.70L240.77,242.27Z" fill="#111"/>
<path d="M239.42,246.65L242.12,246.65L240.77,244.22Z" fill="#111"/>
<rect x="239.62" y="234.24" width="2.3" height="2.3" rx="0.8" fill="#b3102e"/>
<rect x="239.62" y="237.54" width="2.3" height="2.3" rx="0.8" fill="#b3102e"/>
<rect x="239.62" y="222.26" width="2.3" height="2.3" rx="0.8" fill="#b3102e"/>
<rect x="239.62" y="220.22" width="2.3" height="2.3" rx="0.8" fill="#b3102e"/>
<path d="M241.56,258.18L244.26,258.18L242.91,255.75Z" fill="#111"/>
<path d="M241.56,249.26L244.26,249.26L242.91,246.83Z" fill="#111"/>
<path d="M241.56,260.84L244.26,260.84L242.91,258.41Z" fill="#111"/>
<path d="M241.56,244.87L244.26,244.87L242.91,242.44Z" fill="#111"/>
<rect x="241.76" y="230.85" width="2.3" height="2.3" rx="0.8" fill="#b3102e"/>
<rect x="241.76" y="238.63" width="2.3" height="2.3" rx="0.8" fill="#b3102e"/>
<rect x="241.76" y="225.13" width="2.3" height="2.3" rx="0.8" fill="#b3102e"/>
<rect x="241.76" y="222.13" width="2.3" height="2.3" rx="0.8" fill="#b3102e"/>
<path d="M243.70,253.63L246.40,253.63L245.05,251.20Z" fill="#111"/>
<path d="M243.70,247.30L246.40,247.30L245.05,244.87Z" fill="#111"/>
<path d="M243.70,257.49L246.40,257.49L245.05,255.06Z" fill="#111"/>
<path d="M243.70,261.82L246.40,261.82L245.05,259.39Z" fill="#111"/>
<rect x="243.90" y="219.72" width="2.3" height="2.3" rx="0.8" fill="#b3102e"/>
<rect x="243.90" y="230.26" width="2.3" height="2.3" rx="0.8" fill="#b3102e"/>
<rect x="243.90" y="235.94" width="2.3" height="2.3" rx="0.8" fill="#b3102e"/>
<rect x="243.90" y="223.83" width="2.3" height="2.3" rx="0.8" fill="#b3102e"/>
<path d="M245.84,246.46L248.54,246.46L247.19,244.03Z" fill="#111"/>
<path d="M245.84,258.42L248.54,258.42L247.19,255.99Z" fill="#111"/>
<path d="M245.84,255.33L248.54,255.33L247.19,252.90Z" fill="#111"/>
<path d="M245.84,263.38L248.54,263.38L247.19,260.95Z" fill="#111"/>
<rect x="246.04" y="224.79" width="2.3" height="2.3" rx="0.8" fill="#b3102e"/>
<rect x="246.04" y="219.82" width="2.3" height="2.3" rx="0.8" fill="#b3102e"/>
<rect x="246.04" y="227.65" width="2.3" height="2.3" rx="0.8" fill="#b3102e"/>
<rect x="246.04" y="213.65" width="2.3" height="2.3" rx="0.8" fill="#b3102e"/>
<path d="M247.98,250.15L250.68,250.15L249.33,247.72Z" fill="#111"/>
<path d="M247.98,258.78L250.68,258.78L249.33,256.35Z" fill="#111"/>
<path d="M247.98,262.86L250.68,262.86L249.33,260.43Z" fill="#111"/>
<path d="M247.98,247.36L250.68,247.36L249.33,244.93Z" fill="#111"/>
<rect x="248.18" y="224.62" width="2.3" height="2.3" rx="0.8" fill="#b3102e"/>
<rect x="248.18" y="215.45" width="2.3" height="2.3" rx="0.8" fill="#b3102e"/>
<rect x="248.18" y="234.79" width="2.3" height="2.3" rx="0.8" fill="#b3102e"/>
<rect x="248.18" y="227.66" width="2.3" height="2.3" rx="0.8" fill="#b3102e"/>
<path d="M250.12,253.76L252.82,253.76L251.47,251.33Z" fill="#111"/>
<path d="M250.12,247.59L252.82,247.59L251.47,245.16Z" fill="#111"/>
<path d="M250.12,263.36L252.82,263.36L251.47,260.93Z" fill="#111"/>
<path d="M250.12,258.92L252.82,258.92L251.47,256.49Z" fill="#111"/>
<rect x="250.32" y="214.09" width="2.3" height="2.3" rx="0.8" fill="#b3102e"/>
<rect x="250.32" y="221.90" width="2.3" height="2.3" rx="0.8" fill="#b3102e"/>
<rect x="250.32" y="220.06" width="2.3" height="2.3" rx="0.8" fill="#b3102e"/>
<rect x="250.32" y="229.31" width="2.3" height="2.3" rx="0.8" fill="#b3102e"/>
<path d="M255.12,251.41L257.82,251.41L256.47,248.98Z" fill="#111"/>
<path d="M255.12,258.18L257.82,258.18L256.47,255.75Z" fill="#111"/>
<path d="M255.12,264.91L257.82,264.91L256.47,262.48Z" fill="#111"/>
<path d="M255.12,253.64L257.82,253.64L256.47,251.21Z" fill="#111"/>
<path d="M255.12,244.42L257.82,244.42L256.47,241.99Z" fill="#111"/>
<rect x="255.32" y="219.69" width="2.3" height="2.3" rx="0.8" fill="#b3102e"/>
<rect x="255.32" y="236.42" width="2.3" height="2.3" rx="0.8" fill="#b3102e"/>
<rect x="255.32" y="213.23" width="2.3" height="2.3" rx="0.8" fill="#b3102e"/>
<rect x="255.32" y="230.20" width="2.3" height="2.3" rx="0.8" fill="#b3102e"/>
<rect x="255.32" y="223.30" width="2.3" height="2.3" rx="0.8" fill="#b3102e"/>
<path d="M262.72,251.27L265.42,251.27L264.07,248.84Z" fill="#111"/>
<path d="M262.72,245.73L265.42,245.73L264.07,243.30Z" fill="#111"/>
<path d="M262.72,260.43L265.42,260.43L264.07,258.00Z" fill="#111"/>
<path d="M262.72,256.34L265.42,256.34L264.07,253.91Z" fill="#111"/>
<path d="M262.72,264.02L265.42,264.02L264.07,261.59Z" fill="#111"/>
<rect x="262.92" y="229.63" width="2.3" height="2.3" rx="0.8" fill="#b3102e"/>
<rect x="262.92" y="235.32" width="2.3" height="2.3" rx="0.8" fill="#b3102e"/>
<rect x="262.92" y="223.89" width="2.3" height="2.3" rx="0.8" fill="#b3102e"/>
<rect x="262.92" y="218.91" width="2.3" height="2.3" rx="0.8" fill="#b3102e"/>
<rect x="262.92" y="214.40" width="2.3" height="2.3" rx="0.8" fill="#b3102e"/>
<path d="M274.61,262.15L277.31,262.15L275.96,259.72Z" fill="#111"/>
<path d="M274.61,247.65L277.31,247.65L275.96,245.22Z" fill="#111"/>
<path d="M274.61,267.92L277.31,267.92L275.96,265.49Z" fill="#111"/>
<path d="M274.61,256.18L277.31,256.18L275.96,253.75Z" fill="#111"/>
<path d="M274.61,252.67L277.31,252.67L275.96,250.24Z" fill="#111"/>
<rect x="274.81" y="234.71" width="2.3" height="2.3" rx="0.8" fill="#b3102e"/>
<rect x="274.81" y="229.22" width="2.3" height="2.3" rx="0.8" fill="#b3102e"/>
<rect x="274.81" y="210.74" width="2.3" height="2.3" rx="0.8" fill="#b3102e"/>
<rect x="274.81" y="215.39" width="2.3" height="2.3" rx="0.8" fill="#b3102e"/>
<rect x="274.81" y="222.25" width="2.3" height="2.3" rx="0.8" fill="#b3102e"/>
<path d="M293.16,249.21L295.86,249.21L294.51,246.78Z" fill="#111"/>
<path d="M293.16,254.16L295.86,254.16L294.51,251.73Z" fill="#111"/>
<path d="M293.16,263.10L295.86,263.10L294.51,260.67Z" fill="#111"/>
<path d="M293.16,270.45L295.86,270.45L294.51,268.02Z" fill="#111"/>
<path d="M293.16,258.26L295.86,258.26L294.51,255.83Z" fill="#111"/>
<rect x="293.36" y="207.01" width="2.3" height="2.3" rx="0.8" fill="#b3102e"/>
<rect x="293.36" y="218.26" width="2.3" height="2.3" rx="0.8" fill="#b3102e"/>
<rect x="293.36" y="229.89" width="2.3" height="2.3" rx="0.8" fill="#b3102e"/>
<rect x="293.36" y="223.60" width="2.3" height="2.3" rx="0.8" fill="#b3102e"/>
<rect x="293.36" y="211.76" width="2.3" height="2.3" rx="0.8" fill="#b3102e"/>
<path d="M296.97,250.27L299.67,250.27L298.32,247.84Z" fill="#111"/>
<path d="M296.97,255.59L299.67,255.59L298.32,253.16Z" fill="#111"/>
<path d="M296.97,267.59L299.67,267.59L298.32,265.16Z" fill="#111"/>
<path d="M296.97,246.42L299.67,246.42L298.32,243.99Z" fill="#111"/>
<path d="M296.97,260.63L299.67,260.63L298.32,258.20Z" fill="#111"/>
<rect x="297.17" y="227.18" width="2.3" height="2.3" rx="0.8" fill="#b3102e"/>
<rect x="297.17" y="218.07" width="2.3" height="2.3" rx="0.8" fill="#b3102e"/>
<rect x="297.17" y="213.30" width="2.3" height="2.3" rx="0.8" fill="#b3102e"/>
<rect x="297.17" y="223.71" width="2.3" height="2.3" rx="0.8" fill="#b3102e"/>
<rect x="297.17" y="235.19" width="2.3" height="2.3" rx="0.8" fill="#b3102e"/>
<path d="M313.61,263.74L316.31,263.74L314.96,261.31Z" fill="#111"/>
<path d="M313.61,243.88L316.31,243.88L314.96,241.45Z" fill="#111"/>
<path d="M313.61,254.28L316.31,254.28L314.96,251.85Z" fill="#111"/>
<path d="M313.61,247.62L316.31,247.62L314.96,245.19Z" fill="#111"/>
<path d="M313.61,258.35L316.31,258.35L314.96,255.92Z" fill="#111"/>
<rect x="313.81" y="229.86" width="2.3" height="2.3" rx="0.8" fill="#b3102e"/>
<rect x="313.81" y="214.55" width="2.3" height="2.3" rx="0.8" fill="#b3102e"/>
<rect x="313.81" y="224.27" width="2.3" height="2.3" rx="0.8" fill="#b3102e"/>
<rect x="313.81" y="237.24" width="2.3" height="2.3" rx="0.8" fill="#b3102e"/>
<rect x="313.81" y="219.95" width="2.3" height="2.3" rx="0.8" fill="#b3102e"/>
<polyline points="226.03,239.54 227.93,238.46 230.07,237.43 232.21,236.40 234.35,235.38 236.49,234.26 238.63,232.42 240.77,230.58 242.91,228.75 245.05,226.91 247.19,225.90 249.33,225.56 251.47,225.51 256.47,226.79 264.07,225.68 275.96,224.11 294.51,221.22 298.32,224.80 314.96,227.16" fill="none" stroke="#c8284a" stroke-width="1.0"/>
<polyline points="226.03,241.06 227.93,242.07 230.07,243.44 232.21,244.81 234.35,246.18 236.49,247.63 238.63,249.68 240.77,251.74 242.91,252.78 245.05,253.53 247.19,254.15 249.33,254.67 251.47,254.90 256.47,254.13 264.07,254.60 275.96,256.91 294.51,259.35 298.32,255.77 314.96,253.33" fill="none" stroke="#1a1a1a" stroke-width="1.0"/>
<rect x="224.60" y="198.70" width="118.90" height="79.90" stroke="#1e1e1e" stroke-width="1.25" fill="none"/>
<line x1="221.20" y1="278.60" x2="224.60" y2="278.60" stroke="#1e1e1e" stroke-width="1.0" />
<line x1="221.20" y1="263.38" x2="224.60" y2="263.38" stroke="#1e1e1e" stroke-width="1.0" />
<line x1="221.20" y1="248.16" x2="224.60" y2="248.16" stroke="#1e1e1e" stroke-width="1.0" />
<line x1="221.20" y1="232.94" x2="224.60" y2="232.94" stroke="#1e1e1e" stroke-width="1.0" />
<line x1="221.20" y1="217.72" x2="224.60" y2="217.72" stroke="#1e1e1e" stroke-width="1.0" />
<line x1="221.20" y1="202.50" x2="224.60" y2="202.50" stroke="#1e1e1e" stroke-width="1.0" />
<line x1="224.60" y1="278.60" x2="224.60" y2="280.80" stroke="#1e1e1e" stroke-width="1.0" />
<text x="224.60" y="292.30" font-size="8.8" fill="#333" stroke="#333" stroke-width="0.12" text-anchor="middle" textLength="5.80" lengthAdjust="spacingAndGlyphs" >0</text>
<line x1="248.38" y1="278.60" x2="248.38" y2="280.80" stroke="#1e1e1e" stroke-width="1.0" />
<text x="248.38" y="292.30" font-size="8.8" fill="#333" stroke="#333" stroke-width="0.12" text-anchor="middle" textLength="13.50" lengthAdjust="spacingAndGlyphs" >100</text>
<line x1="272.16" y1="278.60" x2="272.16" y2="280.80" stroke="#1e1e1e" stroke-width="1.0" />
<text x="272.16" y="292.30" font-size="8.8" fill="#333" stroke="#333" stroke-width="0.12" text-anchor="middle" textLength="13.50" lengthAdjust="spacingAndGlyphs" >200</text>
<line x1="295.94" y1="278.60" x2="295.94" y2="280.80" stroke="#1e1e1e" stroke-width="1.0" />
<text x="295.94" y="292.30" font-size="8.8" fill="#333" stroke="#333" stroke-width="0.12" text-anchor="middle" textLength="13.50" lengthAdjust="spacingAndGlyphs" >300</text>
<line x1="319.72" y1="278.60" x2="319.72" y2="280.80" stroke="#1e1e1e" stroke-width="1.0" />
<text x="319.72" y="292.30" font-size="8.8" fill="#333" stroke="#333" stroke-width="0.12" text-anchor="middle" textLength="13.50" lengthAdjust="spacingAndGlyphs" >400</text>
<line x1="343.50" y1="278.60" x2="343.50" y2="280.80" stroke="#1e1e1e" stroke-width="1.0" />
<text x="343.50" y="292.30" font-size="8.8" fill="#333" stroke="#333" stroke-width="0.12" text-anchor="middle" textLength="13.50" lengthAdjust="spacingAndGlyphs" >500</text>
<text x="229.20" y="275.00" font-size="8.6" fill="#333" stroke="#333" stroke-width="0.12" font-style="italic" >P</text>
<text x="236.00" y="275.00" font-size="8.6" fill="#333" stroke="#333" stroke-width="0.12" textLength="30.00" lengthAdjust="spacingAndGlyphs" >&lt; .0001</text>
<text x="414.40" y="193.50" font-size="11.2" fill="#222" stroke="#222" stroke-width="0.12" textLength="25.00" lengthAdjust="spacingAndGlyphs" >Ly6G</text>
<text x="439.90" y="189.70" font-size="8.6" fill="#222" stroke="#222" stroke-width="0.12" >+</text>
<path d="M370.07,240.58L372.77,240.58L371.42,238.15Z" fill="#111"/>
<path d="M370.07,241.65L372.77,241.65L371.42,239.22Z" fill="#111"/>
<path d="M370.07,245.52L372.77,245.52L371.42,243.09Z" fill="#111"/>
<path d="M370.07,239.52L372.77,239.52L371.42,237.09Z" fill="#111"/>
<rect x="370.27" y="241.55" width="2.3" height="2.3" rx="0.8" fill="#b3102e"/>
<rect x="370.27" y="243.31" width="2.3" height="2.3" rx="0.8" fill="#b3102e"/>
<rect x="370.27" y="237.48" width="2.3" height="2.3" rx="0.8" fill="#b3102e"/>
<rect x="370.27" y="235.45" width="2.3" height="2.3" rx="0.8" fill="#b3102e"/>
<path d="M371.97,242.48L374.67,242.48L373.32,240.05Z" fill="#111"/>
<path d="M371.97,244.53L374.67,244.53L373.32,242.10Z" fill="#111"/>
<path d="M371.97,246.18L374.67,246.18L373.32,243.75Z" fill="#111"/>
<path d="M371.97,239.77L374.67,239.77L373.32,237.34Z" fill="#111"/>
<rect x="372.17" y="234.74" width="2.3" height="2.3" rx="0.8" fill="#b3102e"/>
<rect x="372.17" y="236.82" width="2.3" height="2.3" rx="0.8" fill="#b3102e"/>
<rect x="372.17" y="242.15" width="2.3" height="2.3" rx="0.8" fill="#b3102e"/>
<rect x="372.17" y="240.32" width="2.3" height="2.3" rx="0.8" fill="#b3102e"/>
<path d="M374.11,247.95L376.81,247.95L375.46,245.52Z" fill="#111"/>
<path d="M374.11,244.48L376.81,244.48L375.46,242.05Z" fill="#111"/>
<path d="M374.11,241.34L376.81,241.34L375.46,238.91Z" fill="#111"/>
<path d="M374.11,245.41L376.81,245.41L375.46,242.98Z" fill="#111"/>
<rect x="374.31" y="233.68" width="2.3" height="2.3" rx="0.8" fill="#b3102e"/>
<rect x="374.31" y="239.89" width="2.3" height="2.3" rx="0.8" fill="#b3102e"/>
<rect x="374.31" y="236.11" width="2.3" height="2.3" rx="0.8" fill="#b3102e"/>
<rect x="374.31" y="237.75" width="2.3" height="2.3" rx="0.8" fill="#b3102e"/>
<path d="M376.25,246.17L378.95,246.17L377.60,243.74Z" fill="#111"/>
<path d="M376.25,242.04L378.95,242.04L377.60,239.61Z" fill="#111"/>
<path d="M376.25,251.29L378.95,251.29L377.60,248.86Z" fill="#111"/>
<path d="M376.25,248.99L378.95,248.99L377.60,246.56Z" fill="#111"/>
<rect x="376.45" y="241.48" width="2.3" height="2.3" rx="0.8" fill="#b3102e"/>
<rect x="376.45" y="245.29" width="2.3" height="2.3" rx="0.8" fill="#b3102e"/>
<rect x="376.45" y="235.92" width="2.3" height="2.3" rx="0.8" fill="#b3102e"/>
<rect x="376.45" y="232.60" width="2.3" height="2.3" rx="0.8" fill="#b3102e"/>
<path d="M378.38,253.36L381.08,253.36L379.73,250.93Z" fill="#111"/>
<path d="M378.38,239.12L381.08,239.12L379.73,236.69Z" fill="#111"/>
<path d="M378.38,246.74L381.08,246.74L379.73,244.31Z" fill="#111"/>
<path d="M378.38,241.63L381.08,241.63L379.73,239.20Z" fill="#111"/>
<rect x="378.58" y="242.86" width="2.3" height="2.3" rx="0.8" fill="#b3102e"/>
<rect x="378.58" y="238.42" width="2.3" height="2.3" rx="0.8" fill="#b3102e"/>
<rect x="378.58" y="236.08" width="2.3" height="2.3" rx="0.8" fill="#b3102e"/>
<rect x="378.58" y="226.55" width="2.3" height="2.3" rx="0.8" fill="#b3102e"/>
<path d="M380.52,239.28L383.22,239.28L381.87,236.85Z" fill="#111"/>
<path d="M380.52,241.68L383.22,241.68L381.87,239.25Z" fill="#111"/>
<path d="M380.52,247.45L383.22,247.45L381.87,245.02Z" fill="#111"/>
<path d="M380.52,256.35L383.22,256.35L381.87,253.92Z" fill="#111"/>
<rect x="380.72" y="245.32" width="2.3" height="2.3" rx="0.8" fill="#b3102e"/>
<rect x="380.72" y="227.73" width="2.3" height="2.3" rx="0.8" fill="#b3102e"/>
<rect x="380.72" y="234.08" width="2.3" height="2.3" rx="0.8" fill="#b3102e"/>
<rect x="380.72" y="239.53" width="2.3" height="2.3" rx="0.8" fill="#b3102e"/>
<path d="M382.66,249.90L385.36,249.90L384.01,247.47Z" fill="#111"/>
<path d="M382.66,255.89L385.36,255.89L384.01,253.46Z" fill="#111"/>
<path d="M382.66,238.21L385.36,238.21L384.01,235.78Z" fill="#111"/>
<path d="M382.66,245.49L385.36,245.49L384.01,243.06Z" fill="#111"/>
<rect x="382.86" y="237.19" width="2.3" height="2.3" rx="0.8" fill="#b3102e"/>
<rect x="382.86" y="223.63" width="2.3" height="2.3" rx="0.8" fill="#b3102e"/>
<rect x="382.86" y="232.73" width="2.3" height="2.3" rx="0.8" fill="#b3102e"/>
<rect x="382.86" y="227.47" width="2.3" height="2.3" rx="0.8" fill="#b3102e"/>
<path d="M384.79,244.32L387.49,244.32L386.14,241.89Z" fill="#111"/>
<path d="M384.79,250.82L387.49,250.82L386.14,248.39Z" fill="#111"/>
<path d="M384.79,257.06L387.49,257.06L386.14,254.63Z" fill="#111"/>
<path d="M384.79,238.75L387.49,238.75L386.14,236.32Z" fill="#111"/>
<rect x="384.99" y="235.60" width="2.3" height="2.3" rx="0.8" fill="#b3102e"/>
<rect x="384.99" y="225.53" width="2.3" height="2.3" rx="0.8" fill="#b3102e"/>
<rect x="384.99" y="240.63" width="2.3" height="2.3" rx="0.8" fill="#b3102e"/>
<rect x="384.99" y="231.59" width="2.3" height="2.3" rx="0.8" fill="#b3102e"/>
<path d="M386.93,244.71L389.63,244.71L388.28,242.28Z" fill="#111"/>
<path d="M386.93,258.93L389.63,258.93L388.28,256.50Z" fill="#111"/>
<path d="M386.93,240.56L389.63,240.56L388.28,238.13Z" fill="#111"/>
<path d="M386.93,249.53L389.63,249.53L388.28,247.10Z" fill="#111"/>
<rect x="387.13" y="241.55" width="2.3" height="2.3" rx="0.8" fill="#b3102e"/>
<rect x="387.13" y="230.67" width="2.3" height="2.3" rx="0.8" fill="#b3102e"/>
<rect x="387.13" y="225.61" width="2.3" height="2.3" rx="0.8" fill="#b3102e"/>
<rect x="387.13" y="221.03" width="2.3" height="2.3" rx="0.8" fill="#b3102e"/>
<path d="M389.07,257.41L391.77,257.41L390.42,254.98Z" fill="#111"/>
<path d="M389.07,250.48L391.77,250.48L390.42,248.05Z" fill="#111"/>
<path d="M389.07,240.28L391.77,240.28L390.42,237.85Z" fill="#111"/>
<path d="M389.07,246.15L391.77,246.15L390.42,243.72Z" fill="#111"/>
<rect x="389.27" y="225.10" width="2.3" height="2.3" rx="0.8" fill="#b3102e"/>
<rect x="389.27" y="235.43" width="2.3" height="2.3" rx="0.8" fill="#b3102e"/>
<rect x="389.27" y="229.61" width="2.3" height="2.3" rx="0.8" fill="#b3102e"/>
<rect x="389.27" y="220.94" width="2.3" height="2.3" rx="0.8" fill="#b3102e"/>
<path d="M391.20,242.42L393.90,242.42L392.55,239.99Z" fill="#111"/>
<path d="M391.20,246.60L393.90,246.60L392.55,244.17Z" fill="#111"/>
<path d="M391.20,257.78L393.90,257.78L392.55,255.35Z" fill="#111"/>
<path d="M391.20,255.68L393.90,255.68L392.55,253.25Z" fill="#111"/>
<rect x="391.40" y="219.26" width="2.3" height="2.3" rx="0.8" fill="#b3102e"/>
<rect x="391.40" y="240.00" width="2.3" height="2.3" rx="0.8" fill="#b3102e"/>
<rect x="391.40" y="233.98" width="2.3" height="2.3" rx="0.8" fill="#b3102e"/>
<rect x="391.40" y="224.37" width="2.3" height="2.3" rx="0.8" fill="#b3102e"/>
<path d="M393.34,246.77L396.04,246.77L394.69,244.34Z" fill="#111"/>
<path d="M393.34,248.96L396.04,248.96L394.69,246.53Z" fill="#111"/>
<path d="M393.34,242.76L396.04,242.76L394.69,240.33Z" fill="#111"/>
<path d="M393.34,258.34L396.04,258.34L394.69,255.91Z" fill="#111"/>
<rect x="393.54" y="225.40" width="2.3" height="2.3" rx="0.8" fill="#b3102e"/>
<rect x="393.54" y="229.57" width="2.3" height="2.3" rx="0.8" fill="#b3102e"/>
<rect x="393.54" y="238.77" width="2.3" height="2.3" rx="0.8" fill="#b3102e"/>
<rect x="393.54" y="220.59" width="2.3" height="2.3" rx="0.8" fill="#b3102e"/>
<path d="M395.48,254.18L398.18,254.18L396.83,251.75Z" fill="#111"/>
<path d="M395.48,246.58L398.18,246.58L396.83,244.15Z" fill="#111"/>
<path d="M395.48,248.55L398.18,248.55L396.83,246.12Z" fill="#111"/>
<path d="M395.48,259.84L398.18,259.84L396.83,257.41Z" fill="#111"/>
<rect x="395.68" y="241.11" width="2.3" height="2.3" rx="0.8" fill="#b3102e"/>
<rect x="395.68" y="219.93" width="2.3" height="2.3" rx="0.8" fill="#b3102e"/>
<rect x="395.68" y="228.23" width="2.3" height="2.3" rx="0.8" fill="#b3102e"/>
<rect x="395.68" y="232.46" width="2.3" height="2.3" rx="0.8" fill="#b3102e"/>
<path d="M400.46,248.73L403.16,248.73L401.81,246.30Z" fill="#111"/>
<path d="M400.46,240.23L403.16,240.23L401.81,237.80Z" fill="#111"/>
<path d="M400.46,246.14L403.16,246.14L401.81,243.71Z" fill="#111"/>
<path d="M400.46,259.25L403.16,259.25L401.81,256.82Z" fill="#111"/>
<path d="M400.46,256.00L403.16,256.00L401.81,253.57Z" fill="#111"/>
<rect x="400.66" y="232.24" width="2.3" height="2.3" rx="0.8" fill="#b3102e"/>
<rect x="400.66" y="220.38" width="2.3" height="2.3" rx="0.8" fill="#b3102e"/>
<rect x="400.66" y="215.74" width="2.3" height="2.3" rx="0.8" fill="#b3102e"/>
<rect x="400.66" y="228.23" width="2.3" height="2.3" rx="0.8" fill="#b3102e"/>
<rect x="400.66" y="239.96" width="2.3" height="2.3" rx="0.8" fill="#b3102e"/>
<path d="M408.06,252.17L410.76,252.17L409.41,249.74Z" fill="#111"/>
<path d="M408.06,240.83L410.76,240.83L409.41,238.40Z" fill="#111"/>
<path d="M408.06,257.95L410.76,257.95L409.41,255.52Z" fill="#111"/>
<path d="M408.06,247.66L410.76,247.66L409.41,245.23Z" fill="#111"/>
<path d="M408.06,244.71L410.76,244.71L409.41,242.28Z" fill="#111"/>
<rect x="408.26" y="242.20" width="2.3" height="2.3" rx="0.8" fill="#b3102e"/>
<rect x="408.26" y="220.63" width="2.3" height="2.3" rx="0.8" fill="#b3102e"/>
<rect x="408.26" y="237.27" width="2.3" height="2.3" rx="0.8" fill="#b3102e"/>
<rect x="408.26" y="225.00" width="2.3" height="2.3" rx="0.8" fill="#b3102e"/>
<rect x="408.26" y="230.14" width="2.3" height="2.3" rx="0.8" fill="#b3102e"/>
<path d="M419.93,251.50L422.63,251.50L421.28,249.07Z" fill="#111"/>
<path d="M419.93,257.58L422.63,257.58L421.28,255.15Z" fill="#111"/>
<path d="M419.93,263.47L422.63,263.47L421.28,261.04Z" fill="#111"/>
<path d="M419.93,243.86L422.63,243.86L421.28,241.43Z" fill="#111"/>
<path d="M419.93,248.49L422.63,248.49L421.28,246.06Z" fill="#111"/>
<rect x="420.13" y="225.22" width="2.3" height="2.3" rx="0.8" fill="#b3102e"/>
<rect x="420.13" y="237.28" width="2.3" height="2.3" rx="0.8" fill="#b3102e"/>
<rect x="420.13" y="233.94" width="2.3" height="2.3" rx="0.8" fill="#b3102e"/>
<rect x="420.13" y="213.53" width="2.3" height="2.3" rx="0.8" fill="#b3102e"/>
<rect x="420.13" y="220.75" width="2.3" height="2.3" rx="0.8" fill="#b3102e"/>
<path d="M438.45,259.36L441.15,259.36L439.80,256.93Z" fill="#111"/>
<path d="M438.45,251.91L441.15,251.91L439.80,249.48Z" fill="#111"/>
<path d="M438.45,257.06L441.15,257.06L439.80,254.63Z" fill="#111"/>
<path d="M438.45,247.91L441.15,247.91L439.80,245.48Z" fill="#111"/>
<path d="M438.45,266.33L441.15,266.33L439.80,263.90Z" fill="#111"/>
<rect x="438.65" y="223.77" width="2.3" height="2.3" rx="0.8" fill="#b3102e"/>
<rect x="438.65" y="228.28" width="2.3" height="2.3" rx="0.8" fill="#b3102e"/>
<rect x="438.65" y="211.41" width="2.3" height="2.3" rx="0.8" fill="#b3102e"/>
<rect x="438.65" y="234.51" width="2.3" height="2.3" rx="0.8" fill="#b3102e"/>
<rect x="438.65" y="217.78" width="2.3" height="2.3" rx="0.8" fill="#b3102e"/>
<path d="M442.24,248.04L444.94,248.04L443.59,245.61Z" fill="#111"/>
<path d="M442.24,263.52L444.94,263.52L443.59,261.09Z" fill="#111"/>
<path d="M442.24,243.25L444.94,243.25L443.59,240.82Z" fill="#111"/>
<path d="M442.24,257.34L444.94,257.34L443.59,254.91Z" fill="#111"/>
<path d="M442.24,253.30L444.94,253.30L443.59,250.87Z" fill="#111"/>
<rect x="442.44" y="221.57" width="2.3" height="2.3" rx="0.8" fill="#b3102e"/>
<rect x="442.44" y="230.92" width="2.3" height="2.3" rx="0.8" fill="#b3102e"/>
<rect x="442.44" y="228.23" width="2.3" height="2.3" rx="0.8" fill="#b3102e"/>
<rect x="442.44" y="239.63" width="2.3" height="2.3" rx="0.8" fill="#b3102e"/>
<rect x="442.44" y="218.28" width="2.3" height="2.3" rx="0.8" fill="#b3102e"/>
<path d="M458.86,251.58L461.56,251.58L460.21,249.15Z" fill="#111"/>
<path d="M458.86,249.55L461.56,249.55L460.21,247.12Z" fill="#111"/>
<path d="M458.86,257.31L461.56,257.31L460.21,254.88Z" fill="#111"/>
<path d="M458.86,263.15L461.56,263.15L460.21,260.72Z" fill="#111"/>
<path d="M458.86,243.21L461.56,243.21L460.21,240.78Z" fill="#111"/>
<rect x="459.06" y="240.85" width="2.3" height="2.3" rx="0.8" fill="#b3102e"/>
<rect x="459.06" y="222.63" width="2.3" height="2.3" rx="0.8" fill="#b3102e"/>
<rect x="459.06" y="217.50" width="2.3" height="2.3" rx="0.8" fill="#b3102e"/>
<rect x="459.06" y="232.39" width="2.3" height="2.3" rx="0.8" fill="#b3102e"/>
<rect x="459.06" y="228.23" width="2.3" height="2.3" rx="0.8" fill="#b3102e"/>
<polyline points="371.42,240.55 373.32,239.93 375.46,239.13 377.60,238.33 379.73,237.23 381.87,235.77 384.01,234.30 386.14,232.83 388.28,231.99 390.42,231.65 392.55,231.30 394.69,230.96 396.83,230.64 401.81,230.32 409.41,231.84 421.28,228.52 439.80,225.33 443.59,229.52 460.21,229.14" fill="none" stroke="#c8284a" stroke-width="1.0"/>
<polyline points="371.42,241.20 373.32,242.20 375.46,243.34 377.60,244.48 379.73,245.38 381.87,245.96 384.01,246.55 386.14,247.14 388.28,247.97 390.42,249.00 392.55,249.68 394.69,249.68 396.83,249.68 401.81,249.68 409.41,248.69 421.28,251.32 439.80,255.24 443.59,251.86 460.21,252.19" fill="none" stroke="#1a1a1a" stroke-width="1.0"/>
<rect x="370.00" y="198.70" width="118.70" height="79.90" stroke="#1e1e1e" stroke-width="1.25" fill="none"/>
<line x1="366.60" y1="278.60" x2="370.00" y2="278.60" stroke="#1e1e1e" stroke-width="1.0" />
<line x1="366.60" y1="263.38" x2="370.00" y2="263.38" stroke="#1e1e1e" stroke-width="1.0" />
<line x1="366.60" y1="248.16" x2="370.00" y2="248.16" stroke="#1e1e1e" stroke-width="1.0" />
<line x1="366.60" y1="232.94" x2="370.00" y2="232.94" stroke="#1e1e1e" stroke-width="1.0" />
<line x1="366.60" y1="217.72" x2="370.00" y2="217.72" stroke="#1e1e1e" stroke-width="1.0" />
<line x1="366.60" y1="202.50" x2="370.00" y2="202.50" stroke="#1e1e1e" stroke-width="1.0" />
<line x1="370.00" y1="278.60" x2="370.00" y2="280.80" stroke="#1e1e1e" stroke-width="1.0" />
<text x="370.00" y="292.30" font-size="8.8" fill="#333" stroke="#333" stroke-width="0.12" text-anchor="middle" textLength="5.80" lengthAdjust="spacingAndGlyphs" >0</text>
<line x1="393.74" y1="278.60" x2="393.74" y2="280.80" stroke="#1e1e1e" stroke-width="1.0" />
<text x="393.74" y="292.30" font-size="8.8" fill="#333" stroke="#333" stroke-width="0.12" text-anchor="middle" textLength="13.50" lengthAdjust="spacingAndGlyphs" >100</text>
<line x1="417.48" y1="278.60" x2="417.48" y2="280.80" stroke="#1e1e1e" stroke-width="1.0" />
<text x="417.48" y="292.30" font-size="8.8" fill="#333" stroke="#333" stroke-width="0.12" text-anchor="middle" textLength="13.50" lengthAdjust="spacingAndGlyphs" >200</text>
<line x1="441.22" y1="278.60" x2="441.22" y2="280.80" stroke="#1e1e1e" stroke-width="1.0" />
<text x="441.22" y="292.30" font-size="8.8" fill="#333" stroke="#333" stroke-width="0.12" text-anchor="middle" textLength="13.50" lengthAdjust="spacingAndGlyphs" >300</text>
<line x1="464.96" y1="278.60" x2="464.96" y2="280.80" stroke="#1e1e1e" stroke-width="1.0" />
<text x="464.96" y="292.30" font-size="8.8" fill="#333" stroke="#333" stroke-width="0.12" text-anchor="middle" textLength="13.50" lengthAdjust="spacingAndGlyphs" >400</text>
<line x1="488.70" y1="278.60" x2="488.70" y2="280.80" stroke="#1e1e1e" stroke-width="1.0" />
<text x="488.70" y="292.30" font-size="8.8" fill="#333" stroke="#333" stroke-width="0.12" text-anchor="middle" textLength="13.50" lengthAdjust="spacingAndGlyphs" >500</text>
<text x="377.00" y="275.00" font-size="8.6" fill="#333" stroke="#333" stroke-width="0.12" font-style="italic" >P</text>
<text x="383.80" y="275.00" font-size="8.6" fill="#333" stroke="#333" stroke-width="0.12" textLength="29.90" lengthAdjust="spacingAndGlyphs" >&lt; .0001</text>
<text x="175.50" y="313.40" font-size="11.2" fill="#222" stroke="#222" stroke-width="0.12" textLength="27.30" lengthAdjust="spacingAndGlyphs" >CD19</text>
<text x="203.30" y="309.60" font-size="8.6" fill="#222" stroke="#222" stroke-width="0.12" >+</text>
<path d="M132.57,361.08L135.27,361.08L133.92,358.65Z" fill="#111"/>
<path d="M132.57,363.50L135.27,363.50L133.92,361.07Z" fill="#111"/>
<path d="M132.57,359.14L135.27,359.14L133.92,356.71Z" fill="#111"/>
<path d="M132.57,364.86L135.27,364.86L133.92,362.43Z" fill="#111"/>
<rect x="132.77" y="356.24" width="2.3" height="2.3" rx="0.8" fill="#b3102e"/>
<rect x="132.77" y="358.60" width="2.3" height="2.3" rx="0.8" fill="#b3102e"/>
<rect x="132.77" y="357.52" width="2.3" height="2.3" rx="0.8" fill="#b3102e"/>
<rect x="132.77" y="359.99" width="2.3" height="2.3" rx="0.8" fill="#b3102e"/>
<path d="M134.47,360.46L137.17,360.46L135.82,358.03Z" fill="#111"/>
<path d="M134.47,360.96L137.17,360.96L135.82,358.53Z" fill="#111"/>
<path d="M134.47,365.50L137.17,365.50L135.82,363.07Z" fill="#111"/>
<path d="M134.47,362.16L137.17,362.16L135.82,359.73Z" fill="#111"/>
<rect x="134.67" y="359.84" width="2.3" height="2.3" rx="0.8" fill="#b3102e"/>
<rect x="134.67" y="362.11" width="2.3" height="2.3" rx="0.8" fill="#b3102e"/>
<rect x="134.67" y="357.30" width="2.3" height="2.3" rx="0.8" fill="#b3102e"/>
<rect x="134.67" y="356.19" width="2.3" height="2.3" rx="0.8" fill="#b3102e"/>
<path d="M136.61,364.51L139.31,364.51L137.96,362.08Z" fill="#111"/>
<path d="M136.61,362.12L139.31,362.12L137.96,359.69Z" fill="#111"/>
<path d="M136.61,366.32L139.31,366.32L137.96,363.89Z" fill="#111"/>
<path d="M136.61,363.55L139.31,363.55L137.96,361.12Z" fill="#111"/>
<rect x="136.81" y="359.38" width="2.3" height="2.3" rx="0.8" fill="#b3102e"/>
<rect x="136.81" y="355.39" width="2.3" height="2.3" rx="0.8" fill="#b3102e"/>
<rect x="136.81" y="357.96" width="2.3" height="2.3" rx="0.8" fill="#b3102e"/>
<rect x="136.81" y="361.59" width="2.3" height="2.3" rx="0.8" fill="#b3102e"/>
<path d="M138.75,363.40L141.45,363.40L140.10,360.97Z" fill="#111"/>
<path d="M138.75,366.29L141.45,366.29L140.10,363.86Z" fill="#111"/>
<path d="M138.75,361.41L141.45,361.41L140.10,358.98Z" fill="#111"/>
<path d="M138.75,358.93L141.45,358.93L140.10,356.50Z" fill="#111"/>
<rect x="138.95" y="355.52" width="2.3" height="2.3" rx="0.8" fill="#b3102e"/>
<rect x="138.95" y="357.41" width="2.3" height="2.3" rx="0.8" fill="#b3102e"/>
<rect x="138.95" y="361.31" width="2.3" height="2.3" rx="0.8" fill="#b3102e"/>
<rect x="138.95" y="351.97" width="2.3" height="2.3" rx="0.8" fill="#b3102e"/>
<path d="M140.88,359.63L143.58,359.63L142.23,357.20Z" fill="#111"/>
<path d="M140.88,370.48L143.58,370.48L142.23,368.05Z" fill="#111"/>
<path d="M140.88,367.18L143.58,367.18L142.23,364.75Z" fill="#111"/>
<path d="M140.88,361.43L143.58,361.43L142.23,359.00Z" fill="#111"/>
<rect x="141.08" y="360.11" width="2.3" height="2.3" rx="0.8" fill="#b3102e"/>
<rect x="141.08" y="363.17" width="2.3" height="2.3" rx="0.8" fill="#b3102e"/>
<rect x="141.08" y="357.05" width="2.3" height="2.3" rx="0.8" fill="#b3102e"/>
<rect x="141.08" y="351.33" width="2.3" height="2.3" rx="0.8" fill="#b3102e"/>
<path d="M143.02,371.48L145.72,371.48L144.37,369.05Z" fill="#111"/>
<path d="M143.02,362.86L145.72,362.86L144.37,360.43Z" fill="#111"/>
<path d="M143.02,369.32L145.72,369.32L144.37,366.89Z" fill="#111"/>
<path d="M143.02,365.74L145.72,365.74L144.37,363.31Z" fill="#111"/>
<rect x="143.22" y="356.18" width="2.3" height="2.3" rx="0.8" fill="#b3102e"/>
<rect x="143.22" y="359.54" width="2.3" height="2.3" rx="0.8" fill="#b3102e"/>
<rect x="143.22" y="365.26" width="2.3" height="2.3" rx="0.8" fill="#b3102e"/>
<rect x="143.22" y="348.50" width="2.3" height="2.3" rx="0.8" fill="#b3102e"/>
<path d="M145.16,361.70L147.86,361.70L146.51,359.27Z" fill="#111"/>
<path d="M145.16,373.47L147.86,373.47L146.51,371.04Z" fill="#111"/>
<path d="M145.16,369.67L147.86,369.67L146.51,367.24Z" fill="#111"/>
<path d="M145.16,365.46L147.86,365.46L146.51,363.03Z" fill="#111"/>
<rect x="145.36" y="352.45" width="2.3" height="2.3" rx="0.8" fill="#b3102e"/>
<rect x="145.36" y="359.54" width="2.3" height="2.3" rx="0.8" fill="#b3102e"/>
<rect x="145.36" y="355.56" width="2.3" height="2.3" rx="0.8" fill="#b3102e"/>
<rect x="145.36" y="348.36" width="2.3" height="2.3" rx="0.8" fill="#b3102e"/>
<path d="M147.29,362.65L149.99,362.65L148.64,360.22Z" fill="#111"/>
<path d="M147.29,360.63L149.99,360.63L148.64,358.20Z" fill="#111"/>
<path d="M147.29,365.42L149.99,365.42L148.64,362.99Z" fill="#111"/>
<path d="M147.29,369.51L149.99,369.51L148.64,367.08Z" fill="#111"/>
<rect x="147.49" y="362.27" width="2.3" height="2.3" rx="0.8" fill="#b3102e"/>
<rect x="147.49" y="357.84" width="2.3" height="2.3" rx="0.8" fill="#b3102e"/>
<rect x="147.49" y="348.87" width="2.3" height="2.3" rx="0.8" fill="#b3102e"/>
<rect x="147.49" y="346.44" width="2.3" height="2.3" rx="0.8" fill="#b3102e"/>
<path d="M149.43,370.52L152.13,370.52L150.78,368.09Z" fill="#111"/>
<path d="M149.43,363.82L152.13,363.82L150.78,361.39Z" fill="#111"/>
<path d="M149.43,361.09L152.13,361.09L150.78,358.66Z" fill="#111"/>
<path d="M149.43,366.36L152.13,366.36L150.78,363.93Z" fill="#111"/>
<rect x="149.63" y="361.77" width="2.3" height="2.3" rx="0.8" fill="#b3102e"/>
<rect x="149.63" y="352.20" width="2.3" height="2.3" rx="0.8" fill="#b3102e"/>
<rect x="149.63" y="346.59" width="2.3" height="2.3" rx="0.8" fill="#b3102e"/>
<rect x="149.63" y="349.83" width="2.3" height="2.3" rx="0.8" fill="#b3102e"/>
<path d="M151.57,366.65L154.27,366.65L152.92,364.22Z" fill="#111"/>
<path d="M151.57,373.67L154.27,373.67L152.92,371.24Z" fill="#111"/>
<path d="M151.57,360.54L154.27,360.54L152.92,358.11Z" fill="#111"/>
<path d="M151.57,370.22L154.27,370.22L152.92,367.79Z" fill="#111"/>
<rect x="151.77" y="361.13" width="2.3" height="2.3" rx="0.8" fill="#b3102e"/>
<rect x="151.77" y="354.78" width="2.3" height="2.3" rx="0.8" fill="#b3102e"/>
<rect x="151.77" y="349.13" width="2.3" height="2.3" rx="0.8" fill="#b3102e"/>
<rect x="151.77" y="345.99" width="2.3" height="2.3" rx="0.8" fill="#b3102e"/>
<path d="M153.70,374.38L156.40,374.38L155.05,371.95Z" fill="#111"/>
<path d="M153.70,361.89L156.40,361.89L155.05,359.46Z" fill="#111"/>
<path d="M153.70,372.55L156.40,372.55L155.05,370.12Z" fill="#111"/>
<path d="M153.70,367.35L156.40,367.35L155.05,364.92Z" fill="#111"/>
<rect x="153.90" y="346.11" width="2.3" height="2.3" rx="0.8" fill="#b3102e"/>
<rect x="153.90" y="353.69" width="2.3" height="2.3" rx="0.8" fill="#b3102e"/>
<rect x="153.90" y="352.06" width="2.3" height="2.3" rx="0.8" fill="#b3102e"/>
<rect x="153.90" y="358.58" width="2.3" height="2.3" rx="0.8" fill="#b3102e"/>
<path d="M155.84,364.62L158.54,364.62L157.19,362.19Z" fill="#111"/>
<path d="M155.84,372.09L158.54,372.09L157.19,369.66Z" fill="#111"/>
<path d="M155.84,367.78L158.54,367.78L157.19,365.35Z" fill="#111"/>
<path d="M155.84,361.90L158.54,361.90L157.19,359.47Z" fill="#111"/>
<rect x="156.04" y="355.42" width="2.3" height="2.3" rx="0.8" fill="#b3102e"/>
<rect x="156.04" y="349.01" width="2.3" height="2.3" rx="0.8" fill="#b3102e"/>
<rect x="156.04" y="342.15" width="2.3" height="2.3" rx="0.8" fill="#b3102e"/>
<rect x="156.04" y="359.51" width="2.3" height="2.3" rx="0.8" fill="#b3102e"/>
<path d="M157.98,362.99L160.68,362.99L159.33,360.56Z" fill="#111"/>
<path d="M157.98,377.01L160.68,377.01L159.33,374.58Z" fill="#111"/>
<path d="M157.98,366.67L160.68,366.67L159.33,364.24Z" fill="#111"/>
<path d="M157.98,369.17L160.68,369.17L159.33,366.74Z" fill="#111"/>
<rect x="158.18" y="346.64" width="2.3" height="2.3" rx="0.8" fill="#b3102e"/>
<rect x="158.18" y="353.36" width="2.3" height="2.3" rx="0.8" fill="#b3102e"/>
<rect x="158.18" y="342.60" width="2.3" height="2.3" rx="0.8" fill="#b3102e"/>
<rect x="158.18" y="351.68" width="2.3" height="2.3" rx="0.8" fill="#b3102e"/>
<path d="M162.96,364.98L165.66,364.98L164.31,362.55Z" fill="#111"/>
<path d="M162.96,373.22L165.66,373.22L164.31,370.79Z" fill="#111"/>
<path d="M162.96,361.35L165.66,361.35L164.31,358.92Z" fill="#111"/>
<path d="M162.96,370.48L165.66,370.48L164.31,368.05Z" fill="#111"/>
<path d="M162.96,377.49L165.66,377.49L164.31,375.06Z" fill="#111"/>
<rect x="163.16" y="357.99" width="2.3" height="2.3" rx="0.8" fill="#b3102e"/>
<rect x="163.16" y="353.57" width="2.3" height="2.3" rx="0.8" fill="#b3102e"/>
<rect x="163.16" y="345.66" width="2.3" height="2.3" rx="0.8" fill="#b3102e"/>
<rect x="163.16" y="340.91" width="2.3" height="2.3" rx="0.8" fill="#b3102e"/>
<rect x="163.16" y="350.17" width="2.3" height="2.3" rx="0.8" fill="#b3102e"/>
<path d="M170.56,372.43L173.26,372.43L171.91,370.00Z" fill="#111"/>
<path d="M170.56,361.59L173.26,361.59L171.91,359.16Z" fill="#111"/>
<path d="M170.56,378.19L173.26,378.19L171.91,375.76Z" fill="#111"/>
<path d="M170.56,364.99L173.26,364.99L171.91,362.56Z" fill="#111"/>
<path d="M170.56,370.52L173.26,370.52L171.91,368.09Z" fill="#111"/>
<rect x="170.76" y="359.75" width="2.3" height="2.3" rx="0.8" fill="#b3102e"/>
<rect x="170.76" y="353.85" width="2.3" height="2.3" rx="0.8" fill="#b3102e"/>
<rect x="170.76" y="351.02" width="2.3" height="2.3" rx="0.8" fill="#b3102e"/>
<rect x="170.76" y="345.33" width="2.3" height="2.3" rx="0.8" fill="#b3102e"/>
<rect x="170.76" y="340.89" width="2.3" height="2.3" rx="0.8" fill="#b3102e"/>
<path d="M182.43,363.37L185.13,363.37L183.78,360.94Z" fill="#111"/>
<path d="M182.43,368.22L185.13,368.22L183.78,365.79Z" fill="#111"/>
<path d="M182.43,371.17L185.13,371.17L183.78,368.74Z" fill="#111"/>
<path d="M182.43,374.05L185.13,374.05L183.78,371.62Z" fill="#111"/>
<path d="M182.43,379.13L185.13,379.13L183.78,376.70Z" fill="#111"/>
<rect x="182.63" y="352.22" width="2.3" height="2.3" rx="0.8" fill="#b3102e"/>
<rect x="182.63" y="341.12" width="2.3" height="2.3" rx="0.8" fill="#b3102e"/>
<rect x="182.63" y="349.64" width="2.3" height="2.3" rx="0.8" fill="#b3102e"/>
<rect x="182.63" y="344.10" width="2.3" height="2.3" rx="0.8" fill="#b3102e"/>
<rect x="182.63" y="357.55" width="2.3" height="2.3" rx="0.8" fill="#b3102e"/>
<path d="M200.95,380.97L203.65,380.97L202.30,378.54Z" fill="#111"/>
<path d="M200.95,369.97L203.65,369.97L202.30,367.54Z" fill="#111"/>
<path d="M200.95,377.85L203.65,377.85L202.30,375.42Z" fill="#111"/>
<path d="M200.95,367.17L203.65,367.17L202.30,364.74Z" fill="#111"/>
<path d="M200.95,374.16L203.65,374.16L202.30,371.73Z" fill="#111"/>
<rect x="201.15" y="344.13" width="2.3" height="2.3" rx="0.8" fill="#b3102e"/>
<rect x="201.15" y="355.52" width="2.3" height="2.3" rx="0.8" fill="#b3102e"/>
<rect x="201.15" y="351.10" width="2.3" height="2.3" rx="0.8" fill="#b3102e"/>
<rect x="201.15" y="345.50" width="2.3" height="2.3" rx="0.8" fill="#b3102e"/>
<rect x="201.15" y="337.83" width="2.3" height="2.3" rx="0.8" fill="#b3102e"/>
<path d="M204.74,368.17L207.44,368.17L206.09,365.74Z" fill="#111"/>
<path d="M204.74,364.75L207.44,364.75L206.09,362.32Z" fill="#111"/>
<path d="M204.74,380.35L207.44,380.35L206.09,377.92Z" fill="#111"/>
<path d="M204.74,375.47L207.44,375.47L206.09,373.04Z" fill="#111"/>
<path d="M204.74,371.77L207.44,371.77L206.09,369.34Z" fill="#111"/>
<rect x="204.94" y="356.93" width="2.3" height="2.3" rx="0.8" fill="#b3102e"/>
<rect x="204.94" y="338.18" width="2.3" height="2.3" rx="0.8" fill="#b3102e"/>
<rect x="204.94" y="349.66" width="2.3" height="2.3" rx="0.8" fill="#b3102e"/>
<rect x="204.94" y="341.81" width="2.3" height="2.3" rx="0.8" fill="#b3102e"/>
<rect x="204.94" y="347.74" width="2.3" height="2.3" rx="0.8" fill="#b3102e"/>
<path d="M221.36,375.36L224.06,375.36L222.71,372.93Z" fill="#111"/>
<path d="M221.36,363.88L224.06,363.88L222.71,361.45Z" fill="#111"/>
<path d="M221.36,378.19L224.06,378.19L222.71,375.76Z" fill="#111"/>
<path d="M221.36,366.22L224.06,366.22L222.71,363.79Z" fill="#111"/>
<path d="M221.36,371.42L224.06,371.42L222.71,368.99Z" fill="#111"/>
<rect x="221.56" y="345.56" width="2.3" height="2.3" rx="0.8" fill="#b3102e"/>
<rect x="221.56" y="339.07" width="2.3" height="2.3" rx="0.8" fill="#b3102e"/>
<rect x="221.56" y="357.94" width="2.3" height="2.3" rx="0.8" fill="#b3102e"/>
<rect x="221.56" y="348.72" width="2.3" height="2.3" rx="0.8" fill="#b3102e"/>
<rect x="221.56" y="351.44" width="2.3" height="2.3" rx="0.8" fill="#b3102e"/>
<polyline points="133.92,360.27 135.82,359.98 137.96,359.62 140.10,359.25 142.23,358.81 144.37,357.76 146.51,356.71 148.64,355.66 150.78,354.70 152.92,353.76 155.05,352.83 157.19,352.31 159.33,352.31 164.31,352.31 171.91,352.31 183.78,350.86 202.30,348.78 206.09,348.98 222.71,350.18" fill="none" stroke="#c8284a" stroke-width="1.0"/>
<polyline points="133.92,361.00 135.82,361.68 137.96,362.39 140.10,363.09 142.23,363.80 144.37,364.51 146.51,365.22 148.64,365.92 150.78,366.54 152.92,367.14 155.05,367.73 157.19,368.16 159.33,368.39 164.31,368.92 171.91,368.97 183.78,370.42 202.30,372.50 206.09,372.19 222.71,370.42" fill="none" stroke="#1a1a1a" stroke-width="1.0"/>
<rect x="132.50" y="318.60" width="118.70" height="79.90" stroke="#1e1e1e" stroke-width="1.25" fill="none"/>
<line x1="129.10" y1="398.50" x2="132.50" y2="398.50" stroke="#1e1e1e" stroke-width="1.0" />
<line x1="129.10" y1="383.28" x2="132.50" y2="383.28" stroke="#1e1e1e" stroke-width="1.0" />
<line x1="129.10" y1="368.06" x2="132.50" y2="368.06" stroke="#1e1e1e" stroke-width="1.0" />
<line x1="129.10" y1="352.84" x2="132.50" y2="352.84" stroke="#1e1e1e" stroke-width="1.0" />
<line x1="129.10" y1="337.62" x2="132.50" y2="337.62" stroke="#1e1e1e" stroke-width="1.0" />
<line x1="129.10" y1="322.40" x2="132.50" y2="322.40" stroke="#1e1e1e" stroke-width="1.0" />
<line x1="132.50" y1="398.50" x2="132.50" y2="400.70" stroke="#1e1e1e" stroke-width="1.0" />
<text x="132.50" y="412.20" font-size="8.8" fill="#333" stroke="#333" stroke-width="0.12" text-anchor="middle" textLength="5.80" lengthAdjust="spacingAndGlyphs" >0</text>
<line x1="156.24" y1="398.50" x2="156.24" y2="400.70" stroke="#1e1e1e" stroke-width="1.0" />
<text x="156.24" y="412.20" font-size="8.8" fill="#333" stroke="#333" stroke-width="0.12" text-anchor="middle" textLength="13.50" lengthAdjust="spacingAndGlyphs" >100</text>
<line x1="179.98" y1="398.50" x2="179.98" y2="400.70" stroke="#1e1e1e" stroke-width="1.0" />
<text x="179.98" y="412.20" font-size="8.8" fill="#333" stroke="#333" stroke-width="0.12" text-anchor="middle" textLength="13.50" lengthAdjust="spacingAndGlyphs" >200</text>
<line x1="203.72" y1="398.50" x2="203.72" y2="400.70" stroke="#1e1e1e" stroke-width="1.0" />
<text x="203.72" y="412.20" font-size="8.8" fill="#333" stroke="#333" stroke-width="0.12" text-anchor="middle" textLength="13.50" lengthAdjust="spacingAndGlyphs" >300</text>
<line x1="227.46" y1="398.50" x2="227.46" y2="400.70" stroke="#1e1e1e" stroke-width="1.0" />
<text x="227.46" y="412.20" font-size="8.8" fill="#333" stroke="#333" stroke-width="0.12" text-anchor="middle" textLength="13.50" lengthAdjust="spacingAndGlyphs" >400</text>
<line x1="251.20" y1="398.50" x2="251.20" y2="400.70" stroke="#1e1e1e" stroke-width="1.0" />
<text x="251.20" y="412.20" font-size="8.8" fill="#333" stroke="#333" stroke-width="0.12" text-anchor="middle" textLength="13.50" lengthAdjust="spacingAndGlyphs" >500</text>
<text x="144.80" y="394.90" font-size="8.6" fill="#333" stroke="#333" stroke-width="0.12" font-style="italic" >P</text>
<text x="151.60" y="394.90" font-size="8.6" fill="#333" stroke="#333" stroke-width="0.12" textLength="29.60" lengthAdjust="spacingAndGlyphs" >&lt; .0001</text>
<text x="324.40" y="313.40" font-size="11.2" fill="#222" stroke="#222" stroke-width="0.12" textLength="21.30" lengthAdjust="spacingAndGlyphs" >CD3</text>
<text x="346.20" y="309.60" font-size="8.6" fill="#222" stroke="#222" stroke-width="0.12" >+</text>
<path d="M278.18,362.59L280.88,362.59L279.53,360.16Z" fill="#111"/>
<path d="M278.18,369.00L280.88,369.00L279.53,366.57Z" fill="#111"/>
<path d="M278.18,383.01L280.88,383.01L279.53,380.58Z" fill="#111"/>
<path d="M278.18,355.45L280.88,355.45L279.53,353.02Z" fill="#111"/>
<rect x="278.38" y="330.74" width="2.3" height="2.3" rx="0.8" fill="#b3102e"/>
<rect x="278.38" y="339.86" width="2.3" height="2.3" rx="0.8" fill="#b3102e"/>
<rect x="278.38" y="346.70" width="2.3" height="2.3" rx="0.8" fill="#b3102e"/>
<rect x="278.38" y="364.10" width="2.3" height="2.3" rx="0.8" fill="#b3102e"/>
<path d="M280.10,359.08L282.80,359.08L281.45,356.65Z" fill="#111"/>
<path d="M280.10,375.28L282.80,375.28L281.45,372.85Z" fill="#111"/>
<path d="M280.10,381.21L282.80,381.21L281.45,378.78Z" fill="#111"/>
<path d="M280.10,352.47L282.80,352.47L281.45,350.04Z" fill="#111"/>
<rect x="280.30" y="357.37" width="2.3" height="2.3" rx="0.8" fill="#b3102e"/>
<rect x="280.30" y="343.45" width="2.3" height="2.3" rx="0.8" fill="#b3102e"/>
<rect x="280.30" y="371.33" width="2.3" height="2.3" rx="0.8" fill="#b3102e"/>
<rect x="280.30" y="335.87" width="2.3" height="2.3" rx="0.8" fill="#b3102e"/>
<path d="M282.25,361.51L284.95,361.51L283.60,359.08Z" fill="#111"/>
<path d="M282.25,352.06L284.95,352.06L283.60,349.63Z" fill="#111"/>
<path d="M282.25,370.64L284.95,370.64L283.60,368.21Z" fill="#111"/>
<path d="M282.25,381.18L284.95,381.18L283.60,378.75Z" fill="#111"/>
<rect x="282.45" y="373.85" width="2.3" height="2.3" rx="0.8" fill="#b3102e"/>
<rect x="282.45" y="362.05" width="2.3" height="2.3" rx="0.8" fill="#b3102e"/>
<rect x="282.45" y="345.12" width="2.3" height="2.3" rx="0.8" fill="#b3102e"/>
<rect x="282.45" y="351.99" width="2.3" height="2.3" rx="0.8" fill="#b3102e"/>
<path d="M284.40,350.27L287.10,350.27L285.75,347.84Z" fill="#111"/>
<path d="M284.40,372.21L287.10,372.21L285.75,369.78Z" fill="#111"/>
<path d="M284.40,364.34L287.10,364.34L285.75,361.91Z" fill="#111"/>
<path d="M284.40,354.68L287.10,354.68L285.75,352.25Z" fill="#111"/>
<rect x="284.60" y="354.60" width="2.3" height="2.3" rx="0.8" fill="#b3102e"/>
<rect x="284.60" y="346.08" width="2.3" height="2.3" rx="0.8" fill="#b3102e"/>
<rect x="284.60" y="364.48" width="2.3" height="2.3" rx="0.8" fill="#b3102e"/>
<rect x="284.60" y="335.45" width="2.3" height="2.3" rx="0.8" fill="#b3102e"/>
<path d="M286.55,360.31L289.25,360.31L287.90,357.88Z" fill="#111"/>
<path d="M286.55,363.83L289.25,363.83L287.90,361.40Z" fill="#111"/>
<path d="M286.55,368.08L289.25,368.08L287.90,365.65Z" fill="#111"/>
<path d="M286.55,371.11L289.25,371.11L287.90,368.68Z" fill="#111"/>
<rect x="286.75" y="361.94" width="2.3" height="2.3" rx="0.8" fill="#b3102e"/>
<rect x="286.75" y="348.87" width="2.3" height="2.3" rx="0.8" fill="#b3102e"/>
<rect x="286.75" y="358.01" width="2.3" height="2.3" rx="0.8" fill="#b3102e"/>
<rect x="286.75" y="353.05" width="2.3" height="2.3" rx="0.8" fill="#b3102e"/>
<path d="M288.70,365.78L291.40,365.78L290.05,363.35Z" fill="#111"/>
<path d="M288.70,371.72L291.40,371.72L290.05,369.29Z" fill="#111"/>
<path d="M288.70,368.61L291.40,368.61L290.05,366.18Z" fill="#111"/>
<path d="M288.70,358.37L291.40,358.37L290.05,355.94Z" fill="#111"/>
<rect x="288.90" y="353.66" width="2.3" height="2.3" rx="0.8" fill="#b3102e"/>
<rect x="288.90" y="346.61" width="2.3" height="2.3" rx="0.8" fill="#b3102e"/>
<rect x="288.90" y="358.65" width="2.3" height="2.3" rx="0.8" fill="#b3102e"/>
<rect x="288.90" y="360.62" width="2.3" height="2.3" rx="0.8" fill="#b3102e"/>
<path d="M290.85,364.95L293.55,364.95L292.20,362.52Z" fill="#111"/>
<path d="M290.85,372.20L293.55,372.20L292.20,369.77Z" fill="#111"/>
<path d="M290.85,368.14L293.55,368.14L292.20,365.71Z" fill="#111"/>
<path d="M290.85,358.55L293.55,358.55L292.20,356.12Z" fill="#111"/>
<rect x="291.05" y="352.70" width="2.3" height="2.3" rx="0.8" fill="#b3102e"/>
<rect x="291.05" y="356.30" width="2.3" height="2.3" rx="0.8" fill="#b3102e"/>
<rect x="291.05" y="349.21" width="2.3" height="2.3" rx="0.8" fill="#b3102e"/>
<rect x="291.05" y="346.42" width="2.3" height="2.3" rx="0.8" fill="#b3102e"/>
<path d="M293.00,365.87L295.70,365.87L294.35,363.44Z" fill="#111"/>
<path d="M293.00,370.12L295.70,370.12L294.35,367.69Z" fill="#111"/>
<path d="M293.00,363.63L295.70,363.63L294.35,361.20Z" fill="#111"/>
<path d="M293.00,373.26L295.70,373.26L294.35,370.83Z" fill="#111"/>
<rect x="293.20" y="346.04" width="2.3" height="2.3" rx="0.8" fill="#b3102e"/>
<rect x="293.20" y="354.98" width="2.3" height="2.3" rx="0.8" fill="#b3102e"/>
<rect x="293.20" y="349.38" width="2.3" height="2.3" rx="0.8" fill="#b3102e"/>
<rect x="293.20" y="351.35" width="2.3" height="2.3" rx="0.8" fill="#b3102e"/>
<path d="M295.15,364.04L297.85,364.04L296.50,361.61Z" fill="#111"/>
<path d="M295.15,369.57L297.85,369.57L296.50,367.14Z" fill="#111"/>
<path d="M295.15,366.67L297.85,366.67L296.50,364.24Z" fill="#111"/>
<path d="M295.15,374.01L297.85,374.01L296.50,371.58Z" fill="#111"/>
<rect x="295.35" y="345.29" width="2.3" height="2.3" rx="0.8" fill="#b3102e"/>
<rect x="295.35" y="347.32" width="2.3" height="2.3" rx="0.8" fill="#b3102e"/>
<rect x="295.35" y="361.19" width="2.3" height="2.3" rx="0.8" fill="#b3102e"/>
<rect x="295.35" y="353.06" width="2.3" height="2.3" rx="0.8" fill="#b3102e"/>
<path d="M297.30,360.31L300.00,360.31L298.65,357.88Z" fill="#111"/>
<path d="M297.30,364.34L300.00,364.34L298.65,361.91Z" fill="#111"/>
<path d="M297.30,367.78L300.00,367.78L298.65,365.35Z" fill="#111"/>
<path d="M297.30,370.36L300.00,370.36L298.65,367.93Z" fill="#111"/>
<rect x="297.50" y="354.36" width="2.3" height="2.3" rx="0.8" fill="#b3102e"/>
<rect x="297.50" y="343.91" width="2.3" height="2.3" rx="0.8" fill="#b3102e"/>
<rect x="297.50" y="351.24" width="2.3" height="2.3" rx="0.8" fill="#b3102e"/>
<rect x="297.50" y="347.76" width="2.3" height="2.3" rx="0.8" fill="#b3102e"/>
<path d="M299.45,375.83L302.16,375.83L300.81,373.40Z" fill="#111"/>
<path d="M299.45,364.79L302.16,364.79L300.81,362.36Z" fill="#111"/>
<path d="M299.45,366.89L302.16,366.89L300.81,364.46Z" fill="#111"/>
<path d="M299.45,371.21L302.16,371.21L300.81,368.78Z" fill="#111"/>
<rect x="299.66" y="347.50" width="2.3" height="2.3" rx="0.8" fill="#b3102e"/>
<rect x="299.66" y="354.50" width="2.3" height="2.3" rx="0.8" fill="#b3102e"/>
<rect x="299.66" y="350.77" width="2.3" height="2.3" rx="0.8" fill="#b3102e"/>
<rect x="299.66" y="357.91" width="2.3" height="2.3" rx="0.8" fill="#b3102e"/>
<path d="M301.61,364.66L304.31,364.66L302.96,362.23Z" fill="#111"/>
<path d="M301.61,370.30L304.31,370.30L302.96,367.87Z" fill="#111"/>
<path d="M301.61,368.51L304.31,368.51L302.96,366.08Z" fill="#111"/>
<path d="M301.61,362.45L304.31,362.45L302.96,360.02Z" fill="#111"/>
<rect x="301.81" y="351.30" width="2.3" height="2.3" rx="0.8" fill="#b3102e"/>
<rect x="301.81" y="346.45" width="2.3" height="2.3" rx="0.8" fill="#b3102e"/>
<rect x="301.81" y="342.57" width="2.3" height="2.3" rx="0.8" fill="#b3102e"/>
<rect x="301.81" y="358.11" width="2.3" height="2.3" rx="0.8" fill="#b3102e"/>
<path d="M303.76,367.95L306.46,367.95L305.11,365.52Z" fill="#111"/>
<path d="M303.76,375.53L306.46,375.53L305.11,373.10Z" fill="#111"/>
<path d="M303.76,362.13L306.46,362.13L305.11,359.70Z" fill="#111"/>
<path d="M303.76,370.52L306.46,370.52L305.11,368.09Z" fill="#111"/>
<rect x="303.96" y="346.62" width="2.3" height="2.3" rx="0.8" fill="#b3102e"/>
<rect x="303.96" y="343.12" width="2.3" height="2.3" rx="0.8" fill="#b3102e"/>
<rect x="303.96" y="354.09" width="2.3" height="2.3" rx="0.8" fill="#b3102e"/>
<rect x="303.96" y="350.27" width="2.3" height="2.3" rx="0.8" fill="#b3102e"/>
<path d="M308.78,361.13L311.48,361.13L310.13,358.70Z" fill="#111"/>
<path d="M308.78,369.12L311.48,369.12L310.13,366.69Z" fill="#111"/>
<path d="M308.78,376.00L311.48,376.00L310.13,373.57Z" fill="#111"/>
<path d="M308.78,372.81L311.48,372.81L310.13,370.38Z" fill="#111"/>
<path d="M308.78,365.01L311.48,365.01L310.13,362.58Z" fill="#111"/>
<rect x="308.98" y="345.06" width="2.3" height="2.3" rx="0.8" fill="#b3102e"/>
<rect x="308.98" y="349.48" width="2.3" height="2.3" rx="0.8" fill="#b3102e"/>
<rect x="308.98" y="342.87" width="2.3" height="2.3" rx="0.8" fill="#b3102e"/>
<rect x="308.98" y="358.64" width="2.3" height="2.3" rx="0.8" fill="#b3102e"/>
<rect x="308.98" y="353.73" width="2.3" height="2.3" rx="0.8" fill="#b3102e"/>
<path d="M316.42,378.34L319.12,378.34L317.77,375.91Z" fill="#111"/>
<path d="M316.42,370.25L319.12,370.25L317.77,367.82Z" fill="#111"/>
<path d="M316.42,374.01L319.12,374.01L317.77,371.58Z" fill="#111"/>
<path d="M316.42,364.32L319.12,364.32L317.77,361.89Z" fill="#111"/>
<path d="M316.42,366.34L319.12,366.34L317.77,363.91Z" fill="#111"/>
<rect x="316.62" y="340.62" width="2.3" height="2.3" rx="0.8" fill="#b3102e"/>
<rect x="316.62" y="345.51" width="2.3" height="2.3" rx="0.8" fill="#b3102e"/>
<rect x="316.62" y="349.44" width="2.3" height="2.3" rx="0.8" fill="#b3102e"/>
<rect x="316.62" y="352.06" width="2.3" height="2.3" rx="0.8" fill="#b3102e"/>
<rect x="316.62" y="357.71" width="2.3" height="2.3" rx="0.8" fill="#b3102e"/>
<path d="M328.37,372.40L331.07,372.40L329.72,369.97Z" fill="#111"/>
<path d="M328.37,365.72L331.07,365.72L329.72,363.29Z" fill="#111"/>
<path d="M328.37,374.24L331.07,374.24L329.72,371.81Z" fill="#111"/>
<path d="M328.37,378.38L331.07,378.38L329.72,375.95Z" fill="#111"/>
<path d="M328.37,367.84L331.07,367.84L329.72,365.41Z" fill="#111"/>
<rect x="328.57" y="339.82" width="2.3" height="2.3" rx="0.8" fill="#b3102e"/>
<rect x="328.57" y="351.07" width="2.3" height="2.3" rx="0.8" fill="#b3102e"/>
<rect x="328.57" y="354.88" width="2.3" height="2.3" rx="0.8" fill="#b3102e"/>
<rect x="328.57" y="348.09" width="2.3" height="2.3" rx="0.8" fill="#b3102e"/>
<rect x="328.57" y="342.59" width="2.3" height="2.3" rx="0.8" fill="#b3102e"/>
<path d="M347.02,384.59L349.72,384.59L348.37,382.16Z" fill="#111"/>
<path d="M347.02,371.60L349.72,371.60L348.37,369.17Z" fill="#111"/>
<path d="M347.02,379.99L349.72,379.99L348.37,377.56Z" fill="#111"/>
<path d="M347.02,376.29L349.72,376.29L348.37,373.86Z" fill="#111"/>
<path d="M347.02,369.40L349.72,369.40L348.37,366.97Z" fill="#111"/>
<rect x="347.22" y="342.40" width="2.3" height="2.3" rx="0.8" fill="#b3102e"/>
<rect x="347.22" y="351.45" width="2.3" height="2.3" rx="0.8" fill="#b3102e"/>
<rect x="347.22" y="334.20" width="2.3" height="2.3" rx="0.8" fill="#b3102e"/>
<rect x="347.22" y="337.52" width="2.3" height="2.3" rx="0.8" fill="#b3102e"/>
<rect x="347.22" y="347.20" width="2.3" height="2.3" rx="0.8" fill="#b3102e"/>
<path d="M350.84,371.26L353.54,371.26L352.19,368.83Z" fill="#111"/>
<path d="M350.84,383.06L353.54,383.06L352.19,380.63Z" fill="#111"/>
<path d="M350.84,375.10L353.54,375.10L352.19,372.67Z" fill="#111"/>
<path d="M350.84,368.17L353.54,368.17L352.19,365.74Z" fill="#111"/>
<path d="M350.84,379.77L353.54,379.77L352.19,377.34Z" fill="#111"/>
<rect x="351.04" y="335.78" width="2.3" height="2.3" rx="0.8" fill="#b3102e"/>
<rect x="351.04" y="346.89" width="2.3" height="2.3" rx="0.8" fill="#b3102e"/>
<rect x="351.04" y="339.35" width="2.3" height="2.3" rx="0.8" fill="#b3102e"/>
<rect x="351.04" y="352.71" width="2.3" height="2.3" rx="0.8" fill="#b3102e"/>
<rect x="351.04" y="342.72" width="2.3" height="2.3" rx="0.8" fill="#b3102e"/>
<path d="M367.57,379.57L370.27,379.57L368.92,377.14Z" fill="#111"/>
<path d="M367.57,383.49L370.27,383.49L368.92,381.06Z" fill="#111"/>
<path d="M367.57,371.85L370.27,371.85L368.92,369.42Z" fill="#111"/>
<path d="M367.57,375.32L370.27,375.32L368.92,372.89Z" fill="#111"/>
<path d="M367.57,369.12L370.27,369.12L368.92,366.69Z" fill="#111"/>
<rect x="367.77" y="338.26" width="2.3" height="2.3" rx="0.8" fill="#b3102e"/>
<rect x="367.77" y="353.69" width="2.3" height="2.3" rx="0.8" fill="#b3102e"/>
<rect x="367.77" y="334.44" width="2.3" height="2.3" rx="0.8" fill="#b3102e"/>
<rect x="367.77" y="348.27" width="2.3" height="2.3" rx="0.8" fill="#b3102e"/>
<rect x="367.77" y="343.61" width="2.3" height="2.3" rx="0.8" fill="#b3102e"/>
<polyline points="279.53,351.85 281.45,354.41 283.60,356.71 285.75,356.98 287.90,356.58 290.05,355.64 292.20,355.00 294.35,354.45 296.50,353.93 298.65,353.43 300.81,352.93 302.96,352.47 305.11,352.15 310.13,351.42 317.77,350.66 329.72,349.10 348.37,344.91 352.19,344.78 368.92,345.23" fill="none" stroke="#c8284a" stroke-width="1.0"/>
<polyline points="279.53,368.52 281.45,365.96 283.60,363.72 285.75,363.72 287.90,364.05 290.05,364.64 292.20,365.23 294.35,365.82 296.50,366.28 298.65,366.65 300.81,367.01 302.96,367.37 305.11,367.68 310.13,368.41 317.77,370.36 329.72,371.30 348.37,375.45 352.19,375.59 368.92,375.14" fill="none" stroke="#1a1a1a" stroke-width="1.0"/>
<rect x="278.10" y="318.60" width="119.50" height="79.90" stroke="#1e1e1e" stroke-width="1.25" fill="none"/>
<line x1="274.70" y1="398.50" x2="278.10" y2="398.50" stroke="#1e1e1e" stroke-width="1.0" />
<line x1="274.70" y1="383.28" x2="278.10" y2="383.28" stroke="#1e1e1e" stroke-width="1.0" />
<line x1="274.70" y1="368.06" x2="278.10" y2="368.06" stroke="#1e1e1e" stroke-width="1.0" />
<line x1="274.70" y1="352.84" x2="278.10" y2="352.84" stroke="#1e1e1e" stroke-width="1.0" />
<line x1="274.70" y1="337.62" x2="278.10" y2="337.62" stroke="#1e1e1e" stroke-width="1.0" />
<line x1="274.70" y1="322.40" x2="278.10" y2="322.40" stroke="#1e1e1e" stroke-width="1.0" />
<line x1="278.10" y1="398.50" x2="278.10" y2="400.70" stroke="#1e1e1e" stroke-width="1.0" />
<text x="278.10" y="412.20" font-size="8.8" fill="#333" stroke="#333" stroke-width="0.12" text-anchor="middle" textLength="5.80" lengthAdjust="spacingAndGlyphs" >0</text>
<line x1="302.00" y1="398.50" x2="302.00" y2="400.70" stroke="#1e1e1e" stroke-width="1.0" />
<text x="302.00" y="412.20" font-size="8.8" fill="#333" stroke="#333" stroke-width="0.12" text-anchor="middle" textLength="13.50" lengthAdjust="spacingAndGlyphs" >100</text>
<line x1="325.90" y1="398.50" x2="325.90" y2="400.70" stroke="#1e1e1e" stroke-width="1.0" />
<text x="325.90" y="412.20" font-size="8.8" fill="#333" stroke="#333" stroke-width="0.12" text-anchor="middle" textLength="13.50" lengthAdjust="spacingAndGlyphs" >200</text>
<line x1="349.80" y1="398.50" x2="349.80" y2="400.70" stroke="#1e1e1e" stroke-width="1.0" />
<text x="349.80" y="412.20" font-size="8.8" fill="#333" stroke="#333" stroke-width="0.12" text-anchor="middle" textLength="13.50" lengthAdjust="spacingAndGlyphs" >300</text>
<line x1="373.70" y1="398.50" x2="373.70" y2="400.70" stroke="#1e1e1e" stroke-width="1.0" />
<text x="373.70" y="412.20" font-size="8.8" fill="#333" stroke="#333" stroke-width="0.12" text-anchor="middle" textLength="13.50" lengthAdjust="spacingAndGlyphs" >400</text>
<line x1="397.60" y1="398.50" x2="397.60" y2="400.70" stroke="#1e1e1e" stroke-width="1.0" />
<text x="397.60" y="412.20" font-size="8.8" fill="#333" stroke="#333" stroke-width="0.12" text-anchor="middle" textLength="13.50" lengthAdjust="spacingAndGlyphs" >500</text>
<text x="283.60" y="394.90" font-size="8.6" fill="#333" stroke="#333" stroke-width="0.12" font-style="italic" >P</text>
<text x="290.40" y="394.90" font-size="8.6" fill="#333" stroke="#333" stroke-width="0.12" textLength="30.10" lengthAdjust="spacingAndGlyphs" >&lt; .0001</text>
<text x="38.40" y="264.40" font-size="9.4" fill="#333" stroke="#333" stroke-width="0.12" textLength="52.10" lengthAdjust="spacingAndGlyphs" transform="rotate(-90 38.40 264.40)" >Donor-derived</text>
<text x="50.20" y="264.40" font-size="9.4" fill="#333" stroke="#333" stroke-width="0.12" textLength="52.80" lengthAdjust="spacingAndGlyphs" transform="rotate(-90 50.20 264.40)" >blood cells (%)</text>
<text x="218.60" y="425.30" font-size="9.7" fill="#333" stroke="#333" stroke-width="0.12" textLength="92.00" lengthAdjust="spacingAndGlyphs" >Days post transplantation</text>
<line x1="401.50" y1="334.20" x2="409.20" y2="334.20" stroke="#c8284a" stroke-width="1.1" />
<circle cx="405.30" cy="334.20" r="1.2" fill="#b3102e"/>
<text x="412.60" y="336.60" font-size="8.8" fill="#333" stroke="#333" stroke-width="0.12" textLength="26.30" lengthAdjust="spacingAndGlyphs" font-style="italic" >edited</text>
<line x1="401.50" y1="345.50" x2="409.20" y2="345.50" stroke="#1a1a1a" stroke-width="1.1" />
<path d="M404.30,346.30L406.30,346.30L405.30,344.50Z" fill="#111"/>
<text x="412.60" y="348.00" font-size="8.8" fill="#333" stroke="#333" stroke-width="0.12" textLength="21.80" lengthAdjust="spacingAndGlyphs" font-style="italic" >mock</text>
<text x="121.60" y="469.40" font-size="11.2" fill="#222" stroke="#222" stroke-width="0.12" textLength="26.80" lengthAdjust="spacingAndGlyphs" >CD45</text>
<text x="148.90" y="466.40" font-size="8.6" fill="#222" stroke="#222" stroke-width="0.12" >+</text>
<rect x="90.60" y="501.22" width="13.70" height="52.58" fill="#fff" stroke="#c43a5e" stroke-width="1.5"/>
<line x1="97.45" y1="495.51" x2="97.45" y2="507.01" stroke="#c8284a" stroke-width="1.1" />
<line x1="94.25" y1="495.51" x2="100.65" y2="495.51" stroke="#c8284a" stroke-width="1.1" />
<line x1="94.25" y1="507.01" x2="100.65" y2="507.01" stroke="#c8284a" stroke-width="1.1" />
<circle cx="97.40" cy="490.76" r="1.45" fill="#b3102e"/>
<circle cx="96.20" cy="506.85" r="1.45" fill="#b3102e"/>
<circle cx="101.00" cy="507.33" r="1.45" fill="#b3102e"/>
<rect x="112.20" y="528.50" width="14.30" height="25.30" fill="#fff" stroke="#3a3a3a" stroke-width="1.5"/>
<line x1="119.35" y1="522.95" x2="119.35" y2="533.97" stroke="#222" stroke-width="1.1" />
<line x1="116.15" y1="522.95" x2="122.55" y2="522.95" stroke="#222" stroke-width="1.1" />
<line x1="116.15" y1="533.97" x2="122.55" y2="533.97" stroke="#222" stroke-width="1.1" />
<path d="M114.20,522.82L117.60,522.82L115.90,519.76Z" fill="#111"/>
<path d="M121.40,525.20L124.80,525.20L123.10,522.14Z" fill="#111"/>
<path d="M117.80,539.63L121.20,539.63L119.50,536.57Z" fill="#111"/>
<rect x="149.00" y="502.49" width="14.30" height="51.31" fill="#fff" stroke="#c43a5e" stroke-width="1.5"/>
<line x1="156.15" y1="496.70" x2="156.15" y2="508.20" stroke="#c8284a" stroke-width="1.1" />
<line x1="152.95" y1="496.70" x2="159.35" y2="496.70" stroke="#c8284a" stroke-width="1.1" />
<line x1="152.95" y1="508.20" x2="159.35" y2="508.20" stroke="#c8284a" stroke-width="1.1" />
<circle cx="156.70" cy="491.15" r="1.45" fill="#b3102e"/>
<circle cx="156.30" cy="502.73" r="1.45" fill="#b3102e"/>
<circle cx="156.70" cy="510.98" r="1.45" fill="#b3102e"/>
<rect x="171.40" y="527.31" width="13.90" height="26.49" fill="#fff" stroke="#3a3a3a" stroke-width="1.5"/>
<line x1="178.35" y1="521.29" x2="178.35" y2="533.18" stroke="#222" stroke-width="1.1" />
<line x1="175.15" y1="521.29" x2="181.55" y2="521.29" stroke="#222" stroke-width="1.1" />
<line x1="175.15" y1="533.18" x2="181.55" y2="533.18" stroke="#222" stroke-width="1.1" />
<path d="M176.70,518.85L180.10,518.85L178.40,515.79Z" fill="#111"/>
<path d="M176.70,529.16L180.10,529.16L178.40,526.10Z" fill="#111"/>
<path d="M176.70,538.44L180.10,538.44L178.40,535.38Z" fill="#111"/>
<rect x="78.90" y="474.50" width="118.10" height="79.30" stroke="#1e1e1e" stroke-width="1.25" fill="none"/>
<line x1="75.70" y1="553.80" x2="78.90" y2="553.80" stroke="#1e1e1e" stroke-width="1.0" />
<text x="72.40" y="556.80" font-size="8.6" fill="#333" stroke="#333" stroke-width="0.12" text-anchor="end" textLength="5.40" lengthAdjust="spacingAndGlyphs" >0</text>
<line x1="75.70" y1="537.94" x2="78.90" y2="537.94" stroke="#1e1e1e" stroke-width="1.0" />
<text x="72.40" y="540.94" font-size="8.6" fill="#333" stroke="#333" stroke-width="0.12" text-anchor="end" textLength="9.90" lengthAdjust="spacingAndGlyphs" >20</text>
<line x1="75.70" y1="522.08" x2="78.90" y2="522.08" stroke="#1e1e1e" stroke-width="1.0" />
<text x="72.40" y="525.08" font-size="8.6" fill="#333" stroke="#333" stroke-width="0.12" text-anchor="end" textLength="9.90" lengthAdjust="spacingAndGlyphs" >40</text>
<line x1="75.70" y1="506.22" x2="78.90" y2="506.22" stroke="#1e1e1e" stroke-width="1.0" />
<text x="72.40" y="509.22" font-size="8.6" fill="#333" stroke="#333" stroke-width="0.12" text-anchor="end" textLength="9.90" lengthAdjust="spacingAndGlyphs" >60</text>
<line x1="75.70" y1="490.36" x2="78.90" y2="490.36" stroke="#1e1e1e" stroke-width="1.0" />
<text x="72.40" y="493.36" font-size="8.6" fill="#333" stroke="#333" stroke-width="0.12" text-anchor="end" textLength="9.90" lengthAdjust="spacingAndGlyphs" >80</text>
<line x1="75.70" y1="474.50" x2="78.90" y2="474.50" stroke="#1e1e1e" stroke-width="1.0" />
<text x="72.40" y="477.50" font-size="8.6" fill="#333" stroke="#333" stroke-width="0.12" text-anchor="end" textLength="14.30" lengthAdjust="spacingAndGlyphs" >100</text>
<line x1="108.20" y1="553.80" x2="108.20" y2="556.20" stroke="#1e1e1e" stroke-width="1.0" />
<line x1="167.30" y1="553.80" x2="167.30" y2="556.20" stroke="#1e1e1e" stroke-width="1.0" />
<line x1="97.80" y1="484.80" x2="118.30" y2="484.80" stroke="#1e1e1e" stroke-width="1.0" />
<line x1="97.80" y1="482.70" x2="97.80" y2="486.90" stroke="#1e1e1e" stroke-width="1.0" />
<line x1="118.30" y1="482.70" x2="118.30" y2="486.90" stroke="#1e1e1e" stroke-width="1.0" />
<line x1="156.70" y1="484.80" x2="177.20" y2="484.80" stroke="#1e1e1e" stroke-width="1.0" />
<line x1="156.70" y1="482.70" x2="156.70" y2="486.90" stroke="#1e1e1e" stroke-width="1.0" />
<line x1="177.20" y1="482.70" x2="177.20" y2="486.90" stroke="#1e1e1e" stroke-width="1.0" />
<text x="96.90" y="567.60" font-size="9.0" fill="#333" stroke="#333" stroke-width="0.12" textLength="23.30" lengthAdjust="spacingAndGlyphs" >Blood</text>
<text x="160.50" y="567.60" font-size="9.0" fill="#333" stroke="#333" stroke-width="0.12" textLength="13.80" lengthAdjust="spacingAndGlyphs" >BM</text>
<text x="265.60" y="467.10" font-size="11.2" fill="#222" stroke="#222" stroke-width="0.12" textLength="34.20" lengthAdjust="spacingAndGlyphs" >CD11b</text>
<text x="300.30" y="464.10" font-size="8.6" fill="#222" stroke="#222" stroke-width="0.12" >+</text>
<rect x="236.20" y="499.21" width="14.85" height="54.59" fill="#fff" stroke="#c43a5e" stroke-width="1.5"/>
<line x1="243.62" y1="493.42" x2="243.62" y2="505.96" stroke="#c8284a" stroke-width="1.1" />
<line x1="240.43" y1="493.42" x2="246.82" y2="493.42" stroke="#c8284a" stroke-width="1.1" />
<line x1="240.43" y1="505.96" x2="246.82" y2="505.96" stroke="#c8284a" stroke-width="1.1" />
<circle cx="243.75" cy="489.64" r="1.45" fill="#b3102e"/>
<circle cx="243.25" cy="497.60" r="1.45" fill="#b3102e"/>
<circle cx="243.25" cy="513.12" r="1.45" fill="#b3102e"/>
<rect x="258.95" y="526.62" width="14.10" height="27.18" fill="#fff" stroke="#3a3a3a" stroke-width="1.5"/>
<line x1="266.00" y1="520.03" x2="266.00" y2="533.22" stroke="#222" stroke-width="1.1" />
<line x1="262.80" y1="520.03" x2="269.20" y2="520.03" stroke="#222" stroke-width="1.1" />
<line x1="262.80" y1="533.22" x2="269.20" y2="533.22" stroke="#222" stroke-width="1.1" />
<path d="M264.55,516.09L267.95,516.09L266.25,513.03Z" fill="#111"/>
<path d="M264.55,532.82L267.95,532.82L266.25,529.76Z" fill="#111"/>
<path d="M264.55,539.57L267.95,539.57L266.25,536.51Z" fill="#111"/>
<rect x="296.20" y="502.26" width="14.85" height="51.54" fill="#fff" stroke="#c43a5e" stroke-width="1.5"/>
<line x1="303.62" y1="495.11" x2="303.62" y2="509.58" stroke="#c8284a" stroke-width="1.1" />
<line x1="300.43" y1="495.11" x2="306.82" y2="495.11" stroke="#c8284a" stroke-width="1.1" />
<line x1="300.43" y1="509.58" x2="306.82" y2="509.58" stroke="#c8284a" stroke-width="1.1" />
<circle cx="303.75" cy="489.64" r="1.45" fill="#b3102e"/>
<circle cx="303.75" cy="502.67" r="1.45" fill="#b3102e"/>
<circle cx="303.75" cy="516.33" r="1.45" fill="#b3102e"/>
<rect x="319.45" y="524.05" width="13.60" height="29.75" fill="#fff" stroke="#3a3a3a" stroke-width="1.5"/>
<line x1="326.25" y1="516.41" x2="326.25" y2="532.09" stroke="#222" stroke-width="1.1" />
<line x1="323.05" y1="516.41" x2="329.45" y2="516.41" stroke="#222" stroke-width="1.1" />
<line x1="323.05" y1="532.09" x2="329.45" y2="532.09" stroke="#222" stroke-width="1.1" />
<path d="M324.55,512.88L327.95,512.88L326.25,509.82Z" fill="#111"/>
<path d="M324.55,540.30L327.95,540.30L326.25,537.24Z" fill="#111"/>
<rect x="224.60" y="473.40" width="120.20" height="80.40" stroke="#1e1e1e" stroke-width="1.25" fill="none"/>
<line x1="221.40" y1="553.80" x2="224.60" y2="553.80" stroke="#1e1e1e" stroke-width="1.0" />
<line x1="221.40" y1="537.72" x2="224.60" y2="537.72" stroke="#1e1e1e" stroke-width="1.0" />
<line x1="221.40" y1="521.64" x2="224.60" y2="521.64" stroke="#1e1e1e" stroke-width="1.0" />
<line x1="221.40" y1="505.56" x2="224.60" y2="505.56" stroke="#1e1e1e" stroke-width="1.0" />
<line x1="221.40" y1="489.48" x2="224.60" y2="489.48" stroke="#1e1e1e" stroke-width="1.0" />
<line x1="221.40" y1="473.40" x2="224.60" y2="473.40" stroke="#1e1e1e" stroke-width="1.0" />
<line x1="254.60" y1="553.80" x2="254.60" y2="556.20" stroke="#1e1e1e" stroke-width="1.0" />
<line x1="315.00" y1="553.80" x2="315.00" y2="556.20" stroke="#1e1e1e" stroke-width="1.0" />
<line x1="243.75" y1="482.50" x2="264.25" y2="482.50" stroke="#1e1e1e" stroke-width="1.0" />
<line x1="243.75" y1="480.40" x2="243.75" y2="484.60" stroke="#1e1e1e" stroke-width="1.0" />
<line x1="264.25" y1="480.40" x2="264.25" y2="484.60" stroke="#1e1e1e" stroke-width="1.0" />
<line x1="303.75" y1="483.75" x2="324.25" y2="483.75" stroke="#1e1e1e" stroke-width="1.0" />
<line x1="303.75" y1="481.65" x2="303.75" y2="485.85" stroke="#1e1e1e" stroke-width="1.0" />
<line x1="324.25" y1="481.65" x2="324.25" y2="485.85" stroke="#1e1e1e" stroke-width="1.0" />
<text x="314.00" y="480.75" font-size="8.6" fill="#333" stroke="#333" stroke-width="0.12" text-anchor="middle" textLength="9.30" lengthAdjust="spacingAndGlyphs" >ns</text>
<text x="242.85" y="567.60" font-size="9.0" fill="#333" stroke="#333" stroke-width="0.12" textLength="23.10" lengthAdjust="spacingAndGlyphs" >Blood</text>
<text x="307.60" y="567.60" font-size="9.0" fill="#333" stroke="#333" stroke-width="0.12" textLength="13.60" lengthAdjust="spacingAndGlyphs" >BM</text>
<text x="416.10" y="467.10" font-size="11.2" fill="#222" stroke="#222" stroke-width="0.12" textLength="23.90" lengthAdjust="spacingAndGlyphs" >Ly6G</text>
<text x="440.50" y="464.10" font-size="8.6" fill="#222" stroke="#222" stroke-width="0.12" >+</text>
<rect x="382.45" y="500.44" width="14.35" height="53.46" fill="#fff" stroke="#c43a5e" stroke-width="1.5"/>
<line x1="389.62" y1="494.77" x2="389.62" y2="506.92" stroke="#c8284a" stroke-width="1.1" />
<line x1="386.43" y1="494.77" x2="392.82" y2="494.77" stroke="#c8284a" stroke-width="1.1" />
<line x1="386.43" y1="506.92" x2="392.82" y2="506.92" stroke="#c8284a" stroke-width="1.1" />
<circle cx="389.50" cy="490.96" r="1.45" fill="#b3102e"/>
<circle cx="389.50" cy="500.20" r="1.45" fill="#b3102e"/>
<circle cx="389.50" cy="510.97" r="1.45" fill="#b3102e"/>
<rect x="405.20" y="525.06" width="14.10" height="28.84" fill="#fff" stroke="#3a3a3a" stroke-width="1.5"/>
<line x1="412.25" y1="519.48" x2="412.25" y2="532.03" stroke="#222" stroke-width="1.1" />
<line x1="409.05" y1="519.48" x2="415.45" y2="519.48" stroke="#222" stroke-width="1.1" />
<line x1="409.05" y1="532.03" x2="415.45" y2="532.03" stroke="#222" stroke-width="1.1" />
<path d="M410.30,516.87L413.70,516.87L412.00,513.81Z" fill="#111"/>
<path d="M410.30,526.59L413.70,526.59L412.00,523.53Z" fill="#111"/>
<path d="M410.30,536.39L413.70,536.39L412.00,533.34Z" fill="#111"/>
<rect x="442.70" y="498.90" width="14.10" height="55.00" fill="#fff" stroke="#c43a5e" stroke-width="1.5"/>
<line x1="449.75" y1="492.10" x2="449.75" y2="506.92" stroke="#c8284a" stroke-width="1.1" />
<line x1="446.55" y1="492.10" x2="452.95" y2="492.10" stroke="#c8284a" stroke-width="1.1" />
<line x1="446.55" y1="506.92" x2="452.95" y2="506.92" stroke="#c8284a" stroke-width="1.1" />
<circle cx="449.50" cy="486.99" r="1.45" fill="#b3102e"/>
<circle cx="449.50" cy="498.82" r="1.45" fill="#b3102e"/>
<circle cx="449.50" cy="513.80" r="1.45" fill="#b3102e"/>
<rect x="465.20" y="526.52" width="14.60" height="27.38" fill="#fff" stroke="#3a3a3a" stroke-width="1.5"/>
<line x1="472.50" y1="518.83" x2="472.50" y2="534.05" stroke="#222" stroke-width="1.1" />
<line x1="469.30" y1="518.83" x2="475.70" y2="518.83" stroke="#222" stroke-width="1.1" />
<line x1="469.30" y1="534.05" x2="475.70" y2="534.05" stroke="#222" stroke-width="1.1" />
<path d="M470.80,514.52L474.20,514.52L472.50,511.47Z" fill="#111"/>
<path d="M470.80,528.05L474.20,528.05L472.50,524.99Z" fill="#111"/>
<path d="M470.80,540.85L474.20,540.85L472.50,537.79Z" fill="#111"/>
<rect x="370.50" y="472.90" width="121.10" height="81.00" stroke="#1e1e1e" stroke-width="1.25" fill="none"/>
<line x1="367.30" y1="553.90" x2="370.50" y2="553.90" stroke="#1e1e1e" stroke-width="1.0" />
<line x1="367.30" y1="537.70" x2="370.50" y2="537.70" stroke="#1e1e1e" stroke-width="1.0" />
<line x1="367.30" y1="521.50" x2="370.50" y2="521.50" stroke="#1e1e1e" stroke-width="1.0" />
<line x1="367.30" y1="505.30" x2="370.50" y2="505.30" stroke="#1e1e1e" stroke-width="1.0" />
<line x1="367.30" y1="489.10" x2="370.50" y2="489.10" stroke="#1e1e1e" stroke-width="1.0" />
<line x1="367.30" y1="472.90" x2="370.50" y2="472.90" stroke="#1e1e1e" stroke-width="1.0" />
<line x1="400.00" y1="553.90" x2="400.00" y2="556.30" stroke="#1e1e1e" stroke-width="1.0" />
<line x1="461.25" y1="553.90" x2="461.25" y2="556.30" stroke="#1e1e1e" stroke-width="1.0" />
<line x1="389.50" y1="484.50" x2="410.75" y2="484.50" stroke="#1e1e1e" stroke-width="1.0" />
<line x1="389.50" y1="482.40" x2="389.50" y2="486.60" stroke="#1e1e1e" stroke-width="1.0" />
<line x1="410.75" y1="482.40" x2="410.75" y2="486.60" stroke="#1e1e1e" stroke-width="1.0" />
<line x1="449.50" y1="482.00" x2="470.50" y2="482.00" stroke="#1e1e1e" stroke-width="1.0" />
<line x1="449.50" y1="479.90" x2="449.50" y2="484.10" stroke="#1e1e1e" stroke-width="1.0" />
<line x1="470.50" y1="479.90" x2="470.50" y2="484.10" stroke="#1e1e1e" stroke-width="1.0" />
<text x="460.00" y="479.00" font-size="8.6" fill="#333" stroke="#333" stroke-width="0.12" text-anchor="middle" textLength="9.30" lengthAdjust="spacingAndGlyphs" >ns</text>
<text x="389.10" y="567.60" font-size="9.0" fill="#333" stroke="#333" stroke-width="0.12" textLength="23.30" lengthAdjust="spacingAndGlyphs" >Blood</text>
<text x="454.60" y="567.60" font-size="9.0" fill="#333" stroke="#333" stroke-width="0.12" textLength="13.60" lengthAdjust="spacingAndGlyphs" >BM</text>
<text x="176.70" y="587.50" font-size="11.2" fill="#222" stroke="#222" stroke-width="0.12" textLength="26.80" lengthAdjust="spacingAndGlyphs" >CD19</text>
<text x="204.00" y="584.50" font-size="8.6" fill="#222" stroke="#222" stroke-width="0.12" >+</text>
<rect x="144.80" y="623.88" width="13.60" height="50.42" fill="#fff" stroke="#c43a5e" stroke-width="1.5"/>
<line x1="151.60" y1="617.74" x2="151.60" y2="629.86" stroke="#c8284a" stroke-width="1.1" />
<line x1="148.40" y1="617.74" x2="154.80" y2="617.74" stroke="#c8284a" stroke-width="1.1" />
<line x1="148.40" y1="629.86" x2="154.80" y2="629.86" stroke="#c8284a" stroke-width="1.1" />
<circle cx="151.30" cy="612.33" r="1.45" fill="#b3102e"/>
<circle cx="147.50" cy="627.03" r="1.45" fill="#b3102e"/>
<circle cx="155.00" cy="630.26" r="1.45" fill="#b3102e"/>
<rect x="167.00" y="644.57" width="14.20" height="29.73" fill="#fff" stroke="#3a3a3a" stroke-width="1.5"/>
<line x1="174.10" y1="638.75" x2="174.10" y2="650.46" stroke="#222" stroke-width="1.1" />
<line x1="170.90" y1="638.75" x2="177.30" y2="638.75" stroke="#222" stroke-width="1.1" />
<line x1="170.90" y1="650.46" x2="177.30" y2="650.46" stroke="#222" stroke-width="1.1" />
<path d="M168.10,638.82L171.50,638.82L169.80,635.76Z" fill="#111"/>
<path d="M174.80,641.33L178.20,641.33L176.50,638.27Z" fill="#111"/>
<path d="M172.10,657.41L175.50,657.41L173.80,654.35Z" fill="#111"/>
<rect x="204.20" y="626.30" width="14.70" height="48.00" fill="#fff" stroke="#c43a5e" stroke-width="1.5"/>
<line x1="211.55" y1="620.97" x2="211.55" y2="631.48" stroke="#c8284a" stroke-width="1.1" />
<line x1="208.35" y1="620.97" x2="214.75" y2="620.97" stroke="#c8284a" stroke-width="1.1" />
<line x1="208.35" y1="631.48" x2="214.75" y2="631.48" stroke="#c8284a" stroke-width="1.1" />
<circle cx="211.50" cy="616.29" r="1.45" fill="#b3102e"/>
<circle cx="211.50" cy="628.49" r="1.45" fill="#b3102e"/>
<circle cx="211.50" cy="635.19" r="1.45" fill="#b3102e"/>
<rect x="227.10" y="641.41" width="14.70" height="32.89" fill="#fff" stroke="#3a3a3a" stroke-width="1.5"/>
<line x1="234.45" y1="635.19" x2="234.45" y2="646.83" stroke="#222" stroke-width="1.1" />
<line x1="231.25" y1="635.19" x2="237.65" y2="635.19" stroke="#222" stroke-width="1.1" />
<line x1="231.25" y1="646.83" x2="237.65" y2="646.83" stroke="#222" stroke-width="1.1" />
<path d="M233.50,635.35L236.90,635.35L235.20,632.29Z" fill="#111"/>
<path d="M233.50,642.94L236.90,642.94L235.20,639.88Z" fill="#111"/>
<path d="M233.50,653.45L236.90,653.45L235.20,650.39Z" fill="#111"/>
<rect x="132.50" y="593.50" width="120.70" height="80.80" stroke="#1e1e1e" stroke-width="1.25" fill="none"/>
<line x1="129.30" y1="674.30" x2="132.50" y2="674.30" stroke="#1e1e1e" stroke-width="1.0" />
<line x1="129.30" y1="658.14" x2="132.50" y2="658.14" stroke="#1e1e1e" stroke-width="1.0" />
<line x1="129.30" y1="641.98" x2="132.50" y2="641.98" stroke="#1e1e1e" stroke-width="1.0" />
<line x1="129.30" y1="625.82" x2="132.50" y2="625.82" stroke="#1e1e1e" stroke-width="1.0" />
<line x1="129.30" y1="609.66" x2="132.50" y2="609.66" stroke="#1e1e1e" stroke-width="1.0" />
<line x1="129.30" y1="593.50" x2="132.50" y2="593.50" stroke="#1e1e1e" stroke-width="1.0" />
<line x1="163.00" y1="674.30" x2="163.00" y2="676.70" stroke="#1e1e1e" stroke-width="1.0" />
<line x1="223.00" y1="674.30" x2="223.00" y2="676.70" stroke="#1e1e1e" stroke-width="1.0" />
<line x1="151.80" y1="605.00" x2="172.50" y2="605.00" stroke="#1e1e1e" stroke-width="1.0" />
<line x1="151.80" y1="602.90" x2="151.80" y2="607.10" stroke="#1e1e1e" stroke-width="1.0" />
<line x1="172.50" y1="602.90" x2="172.50" y2="607.10" stroke="#1e1e1e" stroke-width="1.0" />
<line x1="211.50" y1="607.70" x2="231.70" y2="607.70" stroke="#1e1e1e" stroke-width="1.0" />
<line x1="211.50" y1="605.60" x2="211.50" y2="609.80" stroke="#1e1e1e" stroke-width="1.0" />
<line x1="231.70" y1="605.60" x2="231.70" y2="609.80" stroke="#1e1e1e" stroke-width="1.0" />
<text x="221.60" y="604.70" font-size="8.6" fill="#333" stroke="#333" stroke-width="0.12" text-anchor="middle" textLength="9.30" lengthAdjust="spacingAndGlyphs" >ns</text>
<text x="151.40" y="687.70" font-size="9.0" fill="#333" stroke="#333" stroke-width="0.12" textLength="22.80" lengthAdjust="spacingAndGlyphs" >Blood</text>
<text x="216.60" y="687.70" font-size="9.0" fill="#333" stroke="#333" stroke-width="0.12" textLength="13.60" lengthAdjust="spacingAndGlyphs" >BM</text>
<text x="325.60" y="586.80" font-size="11.2" fill="#222" stroke="#222" stroke-width="0.12" textLength="21.20" lengthAdjust="spacingAndGlyphs" >CD3</text>
<text x="347.30" y="583.80" font-size="8.6" fill="#222" stroke="#222" stroke-width="0.12" >+</text>
<rect x="290.50" y="617.25" width="14.20" height="57.05" fill="#fff" stroke="#c43a5e" stroke-width="1.5"/>
<line x1="297.60" y1="612.77" x2="297.60" y2="621.98" stroke="#c8284a" stroke-width="1.1" />
<line x1="294.40" y1="612.77" x2="300.80" y2="612.77" stroke="#c8284a" stroke-width="1.1" />
<line x1="294.40" y1="621.98" x2="300.80" y2="621.98" stroke="#c8284a" stroke-width="1.1" />
<circle cx="293.30" cy="609.67" r="1.45" fill="#b3102e"/>
<circle cx="299.50" cy="613.99" r="1.45" fill="#b3102e"/>
<circle cx="297.80" cy="626.70" r="1.45" fill="#b3102e"/>
<rect x="313.40" y="649.85" width="13.60" height="24.45" fill="#fff" stroke="#3a3a3a" stroke-width="1.5"/>
<line x1="320.20" y1="644.31" x2="320.20" y2="654.74" stroke="#222" stroke-width="1.1" />
<line x1="317.00" y1="644.31" x2="323.40" y2="644.31" stroke="#222" stroke-width="1.1" />
<line x1="317.00" y1="654.74" x2="323.40" y2="654.74" stroke="#222" stroke-width="1.1" />
<path d="M318.50,641.03L321.90,641.03L320.20,637.97Z" fill="#111"/>
<path d="M315.00,654.07L318.40,654.07L316.70,651.01Z" fill="#111"/>
<path d="M322.00,658.06L325.40,658.06L323.70,655.00Z" fill="#111"/>
<rect x="351.30" y="611.30" width="14.00" height="63.00" fill="#fff" stroke="#c43a5e" stroke-width="1.5"/>
<line x1="358.30" y1="609.91" x2="358.30" y2="612.77" stroke="#c8284a" stroke-width="1.1" />
<line x1="355.10" y1="609.91" x2="361.50" y2="609.91" stroke="#c8284a" stroke-width="1.1" />
<line x1="355.10" y1="612.77" x2="361.50" y2="612.77" stroke="#c8284a" stroke-width="1.1" />
<circle cx="353.80" cy="608.53" r="1.45" fill="#b3102e"/>
<circle cx="357.90" cy="610.40" r="1.45" fill="#b3102e"/>
<circle cx="364.10" cy="613.17" r="1.45" fill="#b3102e"/>
<rect x="373.90" y="655.23" width="14.30" height="19.07" fill="#fff" stroke="#3a3a3a" stroke-width="1.5"/>
<line x1="381.05" y1="653.03" x2="381.05" y2="657.35" stroke="#222" stroke-width="1.1" />
<line x1="377.85" y1="653.03" x2="384.25" y2="653.03" stroke="#222" stroke-width="1.1" />
<line x1="377.85" y1="657.35" x2="384.25" y2="657.35" stroke="#222" stroke-width="1.1" />
<path d="M374.20,654.07L377.60,654.07L375.90,651.01Z" fill="#111"/>
<path d="M378.50,656.76L381.90,656.76L380.20,653.70Z" fill="#111"/>
<path d="M381.80,658.88L385.20,658.88L383.50,655.82Z" fill="#111"/>
<rect x="278.40" y="592.80" width="120.40" height="81.50" stroke="#1e1e1e" stroke-width="1.25" fill="none"/>
<line x1="275.20" y1="674.30" x2="278.40" y2="674.30" stroke="#1e1e1e" stroke-width="1.0" />
<line x1="275.20" y1="658.00" x2="278.40" y2="658.00" stroke="#1e1e1e" stroke-width="1.0" />
<line x1="275.20" y1="641.70" x2="278.40" y2="641.70" stroke="#1e1e1e" stroke-width="1.0" />
<line x1="275.20" y1="625.40" x2="278.40" y2="625.40" stroke="#1e1e1e" stroke-width="1.0" />
<line x1="275.20" y1="609.10" x2="278.40" y2="609.10" stroke="#1e1e1e" stroke-width="1.0" />
<line x1="275.20" y1="592.80" x2="278.40" y2="592.80" stroke="#1e1e1e" stroke-width="1.0" />
<line x1="309.00" y1="674.30" x2="309.00" y2="676.70" stroke="#1e1e1e" stroke-width="1.0" />
<line x1="369.50" y1="674.30" x2="369.50" y2="676.70" stroke="#1e1e1e" stroke-width="1.0" />
<line x1="297.30" y1="604.20" x2="318.90" y2="604.20" stroke="#1e1e1e" stroke-width="1.0" />
<line x1="297.30" y1="602.10" x2="297.30" y2="606.30" stroke="#1e1e1e" stroke-width="1.0" />
<line x1="318.90" y1="602.10" x2="318.90" y2="606.30" stroke="#1e1e1e" stroke-width="1.0" />
<line x1="357.90" y1="602.00" x2="379.40" y2="602.00" stroke="#1e1e1e" stroke-width="1.0" />
<line x1="357.90" y1="599.90" x2="357.90" y2="604.10" stroke="#1e1e1e" stroke-width="1.0" />
<line x1="379.40" y1="599.90" x2="379.40" y2="604.10" stroke="#1e1e1e" stroke-width="1.0" />
<text x="296.90" y="687.70" font-size="9.0" fill="#333" stroke="#333" stroke-width="0.12" textLength="23.70" lengthAdjust="spacingAndGlyphs" >Blood</text>
<text x="361.50" y="687.70" font-size="9.0" fill="#333" stroke="#333" stroke-width="0.12" textLength="14.10" lengthAdjust="spacingAndGlyphs" >BM</text>
<text x="40.40" y="547.10" font-size="9.4" fill="#333" stroke="#333" stroke-width="0.12" textLength="54.60" lengthAdjust="spacingAndGlyphs" transform="rotate(-90 40.40 547.10)" >Dornor-derived</text>
<text x="52.50" y="535.60" font-size="9.4" fill="#333" stroke="#333" stroke-width="0.12" textLength="31.60" lengthAdjust="spacingAndGlyphs" transform="rotate(-90 52.50 535.60)" >cells (%)</text>
<circle cx="411.90" cy="613.00" r="1.5" fill="#b3102e"/>
<text x="416.50" y="616.00" font-size="8.8" fill="#333" stroke="#333" stroke-width="0.12" textLength="26.60" lengthAdjust="spacingAndGlyphs" >edited</text>
<path d="M410.30,627.24L413.50,627.24L411.90,624.36Z" fill="#111"/>
<text x="416.50" y="629.00" font-size="8.8" fill="#333" stroke="#333" stroke-width="0.12" textLength="21.60" lengthAdjust="spacingAndGlyphs" >mock</text>
<rect x="0.55" y="0.55" width="518.9" height="695.9" fill="none" stroke="#000" stroke-width="1.15"/>
</svg>
</body></html>
